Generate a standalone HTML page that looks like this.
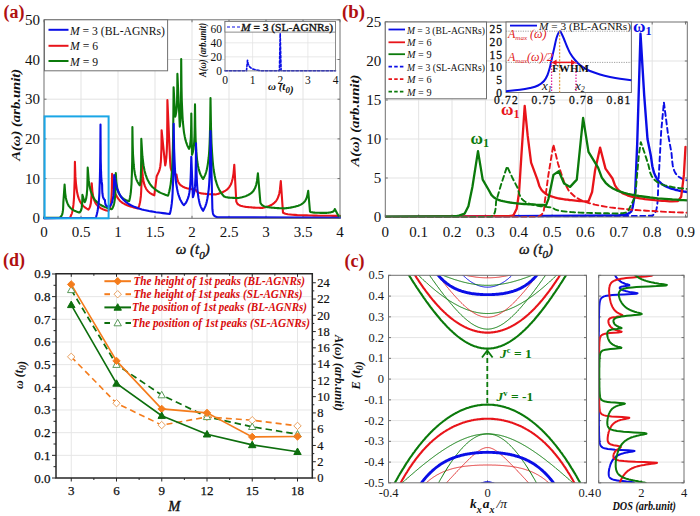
<!DOCTYPE html>
<html><head><meta charset="utf-8"><style>
html,body{margin:0;padding:0;background:#fff;}
svg{display:block;}
</style></head><body>
<svg width="700" height="516" viewBox="0 0 700 516">
<rect x="0" y="0" width="700" height="516" fill="#fff"/>
<line x1="81.00" y1="19.80" x2="81.00" y2="218.30" stroke="#e3e3e3" stroke-width="1" />
<line x1="118.00" y1="19.80" x2="118.00" y2="218.30" stroke="#e3e3e3" stroke-width="1" />
<line x1="155.00" y1="19.80" x2="155.00" y2="218.30" stroke="#e3e3e3" stroke-width="1" />
<line x1="192.00" y1="19.80" x2="192.00" y2="218.30" stroke="#e3e3e3" stroke-width="1" />
<line x1="229.00" y1="19.80" x2="229.00" y2="218.30" stroke="#e3e3e3" stroke-width="1" />
<line x1="266.00" y1="19.80" x2="266.00" y2="218.30" stroke="#e3e3e3" stroke-width="1" />
<line x1="303.00" y1="19.80" x2="303.00" y2="218.30" stroke="#e3e3e3" stroke-width="1" />
<line x1="44.00" y1="178.60" x2="340.00" y2="178.60" stroke="#e3e3e3" stroke-width="1" />
<line x1="44.00" y1="138.90" x2="340.00" y2="138.90" stroke="#e3e3e3" stroke-width="1" />
<line x1="44.00" y1="99.20" x2="340.00" y2="99.20" stroke="#e3e3e3" stroke-width="1" />
<line x1="44.00" y1="59.50" x2="340.00" y2="59.50" stroke="#e3e3e3" stroke-width="1" />
<line x1="44.00" y1="218.30" x2="44.00" y2="215.80" stroke="#707070" stroke-width="1" />
<line x1="44.00" y1="19.80" x2="44.00" y2="22.30" stroke="#707070" stroke-width="1" />
<line x1="81.00" y1="218.30" x2="81.00" y2="215.80" stroke="#707070" stroke-width="1" />
<line x1="81.00" y1="19.80" x2="81.00" y2="22.30" stroke="#707070" stroke-width="1" />
<line x1="118.00" y1="218.30" x2="118.00" y2="215.80" stroke="#707070" stroke-width="1" />
<line x1="118.00" y1="19.80" x2="118.00" y2="22.30" stroke="#707070" stroke-width="1" />
<line x1="155.00" y1="218.30" x2="155.00" y2="215.80" stroke="#707070" stroke-width="1" />
<line x1="155.00" y1="19.80" x2="155.00" y2="22.30" stroke="#707070" stroke-width="1" />
<line x1="192.00" y1="218.30" x2="192.00" y2="215.80" stroke="#707070" stroke-width="1" />
<line x1="192.00" y1="19.80" x2="192.00" y2="22.30" stroke="#707070" stroke-width="1" />
<line x1="229.00" y1="218.30" x2="229.00" y2="215.80" stroke="#707070" stroke-width="1" />
<line x1="229.00" y1="19.80" x2="229.00" y2="22.30" stroke="#707070" stroke-width="1" />
<line x1="266.00" y1="218.30" x2="266.00" y2="215.80" stroke="#707070" stroke-width="1" />
<line x1="266.00" y1="19.80" x2="266.00" y2="22.30" stroke="#707070" stroke-width="1" />
<line x1="303.00" y1="218.30" x2="303.00" y2="215.80" stroke="#707070" stroke-width="1" />
<line x1="303.00" y1="19.80" x2="303.00" y2="22.30" stroke="#707070" stroke-width="1" />
<line x1="340.00" y1="218.30" x2="340.00" y2="215.80" stroke="#707070" stroke-width="1" />
<line x1="340.00" y1="19.80" x2="340.00" y2="22.30" stroke="#707070" stroke-width="1" />
<line x1="44.00" y1="218.30" x2="46.50" y2="218.30" stroke="#707070" stroke-width="1" />
<line x1="340.00" y1="218.30" x2="337.50" y2="218.30" stroke="#707070" stroke-width="1" />
<line x1="44.00" y1="178.60" x2="46.50" y2="178.60" stroke="#707070" stroke-width="1" />
<line x1="340.00" y1="178.60" x2="337.50" y2="178.60" stroke="#707070" stroke-width="1" />
<line x1="44.00" y1="138.90" x2="46.50" y2="138.90" stroke="#707070" stroke-width="1" />
<line x1="340.00" y1="138.90" x2="337.50" y2="138.90" stroke="#707070" stroke-width="1" />
<line x1="44.00" y1="99.20" x2="46.50" y2="99.20" stroke="#707070" stroke-width="1" />
<line x1="340.00" y1="99.20" x2="337.50" y2="99.20" stroke="#707070" stroke-width="1" />
<line x1="44.00" y1="59.50" x2="46.50" y2="59.50" stroke="#707070" stroke-width="1" />
<line x1="340.00" y1="59.50" x2="337.50" y2="59.50" stroke="#707070" stroke-width="1" />
<line x1="44.00" y1="19.80" x2="46.50" y2="19.80" stroke="#707070" stroke-width="1" />
<line x1="340.00" y1="19.80" x2="337.50" y2="19.80" stroke="#707070" stroke-width="1" />
<text x="44.00" y="237.00" font-family='"Liberation Serif", serif' font-size="15" font-weight="normal" font-style="normal" fill="#111" text-anchor="middle" >0</text>
<text x="81.00" y="237.00" font-family='"Liberation Serif", serif' font-size="15" font-weight="normal" font-style="normal" fill="#111" text-anchor="middle" >0.5</text>
<text x="118.00" y="237.00" font-family='"Liberation Serif", serif' font-size="15" font-weight="normal" font-style="normal" fill="#111" text-anchor="middle" >1</text>
<text x="155.00" y="237.00" font-family='"Liberation Serif", serif' font-size="15" font-weight="normal" font-style="normal" fill="#111" text-anchor="middle" >1.5</text>
<text x="192.00" y="237.00" font-family='"Liberation Serif", serif' font-size="15" font-weight="normal" font-style="normal" fill="#111" text-anchor="middle" >2</text>
<text x="229.00" y="237.00" font-family='"Liberation Serif", serif' font-size="15" font-weight="normal" font-style="normal" fill="#111" text-anchor="middle" >2.5</text>
<text x="266.00" y="237.00" font-family='"Liberation Serif", serif' font-size="15" font-weight="normal" font-style="normal" fill="#111" text-anchor="middle" >3</text>
<text x="303.00" y="237.00" font-family='"Liberation Serif", serif' font-size="15" font-weight="normal" font-style="normal" fill="#111" text-anchor="middle" >3.5</text>
<text x="340.00" y="237.00" font-family='"Liberation Serif", serif' font-size="15" font-weight="normal" font-style="normal" fill="#111" text-anchor="middle" >4</text>
<text x="40.00" y="223.30" font-family='"Liberation Serif", serif' font-size="15" font-weight="normal" font-style="normal" fill="#111" text-anchor="end" >0</text>
<text x="40.00" y="183.60" font-family='"Liberation Serif", serif' font-size="15" font-weight="normal" font-style="normal" fill="#111" text-anchor="end" >10</text>
<text x="40.00" y="143.90" font-family='"Liberation Serif", serif' font-size="15" font-weight="normal" font-style="normal" fill="#111" text-anchor="end" >20</text>
<text x="40.00" y="104.20" font-family='"Liberation Serif", serif' font-size="15" font-weight="normal" font-style="normal" fill="#111" text-anchor="end" >30</text>
<text x="40.00" y="64.50" font-family='"Liberation Serif", serif' font-size="15" font-weight="normal" font-style="normal" fill="#111" text-anchor="end" >40</text>
<text x="40.00" y="24.80" font-family='"Liberation Serif", serif' font-size="15" font-weight="normal" font-style="normal" fill="#111" text-anchor="end" >50</text>
<polyline points="44.0,218.1 69.9,217.7 70.1,217.4 70.3,217.0 70.5,216.6 70.7,216.1 70.9,215.7 71.1,215.2 71.3,214.7 71.6,214.1 71.8,213.5 72.0,212.8 72.2,212.0 72.4,211.2 72.6,210.2 72.8,209.2 73.0,207.9 73.2,206.5 73.4,204.9 73.6,202.9 73.8,200.5 74.0,197.5 74.2,193.4 74.4,187.8 74.7,178.9 74.9,161.9 75.4,176.4 76.0,184.0 76.6,188.8 77.1,192.3 77.7,194.9 78.2,196.9 78.8,198.6 79.4,200.0 79.9,201.2 80.5,202.3 81.1,203.2 81.6,204.0 82.2,204.7 82.8,205.3 83.3,205.9 83.9,206.5 84.5,207.0 85.0,207.4 85.6,207.8 86.1,208.2 86.7,208.6 87.3,208.9 87.8,209.3 88.4,209.6 88.5,209.4 88.7,209.2 88.8,209.0 89.0,208.8 89.1,208.6 89.2,208.4 89.4,208.1 89.5,207.9 89.6,207.6 89.8,207.2 89.9,206.9 90.1,206.5 90.2,206.0 90.3,205.5 90.5,204.9 90.6,204.3 90.8,203.5 90.9,202.6 91.0,201.4 91.2,200.0 91.3,198.1 91.5,195.4 91.6,191.2 91.7,183.2 92.4,191.6 93.1,196.0 93.8,198.9 94.5,200.9 95.2,202.4 95.9,203.6 96.6,204.6 97.3,205.4 98.0,206.1 98.7,206.7 99.4,207.2 100.1,207.7 100.7,208.1 101.4,208.5 102.1,208.8 102.8,209.2 103.5,209.4 104.2,209.7 104.9,210.0 105.6,210.2 106.3,210.4 107.0,210.6 107.7,210.8 108.4,211.0 108.5,210.7 108.7,210.5 108.8,210.2 109.0,209.9 109.2,209.6 109.3,209.3 109.5,208.9 109.6,208.5 109.8,208.1 109.9,207.7 110.1,207.2 110.2,206.6 110.4,206.0 110.5,205.3 110.7,204.5 110.8,203.5 111.0,202.4 111.2,201.1 111.3,199.5 111.5,197.5 111.6,194.8 111.8,191.0 111.9,185.1 112.1,173.8 113.2,184.3 114.2,189.8 115.3,193.3 116.4,195.8 117.5,197.7 118.6,199.2 119.6,200.4 120.7,201.5 121.8,202.3 122.9,203.1 124.0,203.7 125.0,204.3 126.1,204.8 127.2,205.3 128.3,205.7 129.3,206.1 130.4,206.5 131.5,206.8 132.6,207.1 133.7,207.4 134.7,207.7 135.8,207.9 136.9,208.2 138.0,208.4 138.1,208.1 138.3,207.8 138.5,207.4 138.6,207.1 138.8,206.7 138.9,206.3 139.1,205.8 139.3,205.3 139.4,204.8 139.6,204.2 139.7,203.5 139.9,202.8 140.1,202.0 140.2,201.1 140.4,200.1 140.5,198.9 140.7,197.5 140.9,195.9 141.0,193.8 141.2,191.2 141.3,187.8 141.5,183.0 141.7,175.5 141.8,161.1 142.3,171.5 142.9,176.9 143.4,180.4 143.9,182.9 144.4,184.7 144.9,186.2 145.5,187.4 146.0,188.4 146.5,189.3 147.0,190.0 147.5,190.7 148.0,191.3 148.6,191.8 149.1,192.3 149.6,192.7 150.1,193.1 150.6,193.4 151.2,193.7 151.7,194.0 152.2,194.3 152.7,194.6 153.2,194.8 153.7,195.1 154.3,195.3 156.7,176.2 158.8,171.9 158.9,171.6 159.0,171.3 159.1,171.0 159.2,170.7 159.4,170.3 159.5,170.0 159.6,169.6 159.7,169.1 159.8,168.7 159.9,168.2 160.1,167.6 160.2,167.0 160.3,166.3 160.4,165.5 160.5,164.6 160.6,163.5 160.8,162.3 160.9,160.8 161.0,159.0 161.1,156.7 161.2,153.7 161.4,149.5 161.5,142.8 161.6,130.2 165.2,165.5 165.3,165.1 165.4,164.6 165.5,164.2 165.6,163.7 165.7,163.1 165.8,162.6 165.9,161.9 166.0,161.3 166.0,160.5 166.1,159.7 166.2,158.8 166.3,157.8 166.4,156.7 166.5,155.5 166.6,154.0 166.7,152.4 166.8,150.4 166.9,148.1 167.0,145.3 167.1,141.7 167.2,137.0 167.2,130.3 167.3,119.9 167.4,100.0 170.1,161.1 170.4,165.2 170.6,167.4 170.9,168.8 171.2,169.7 171.4,170.5 171.7,171.1 172.0,171.5 172.2,171.9 172.5,172.3 172.7,172.6 173.0,172.8 173.3,173.0 173.5,173.3 173.8,173.4 174.1,173.6 174.3,173.8 174.6,173.9 174.9,174.0 175.1,174.1 175.4,174.3 175.7,174.4 175.9,174.5 176.2,174.5 176.5,174.6 177.3,179.2 178.1,181.6 178.9,183.2 179.7,184.2 180.5,185.1 181.3,185.7 182.1,186.2 182.9,186.7 183.7,187.1 184.5,187.4 185.3,187.7 186.1,187.9 186.9,188.2 187.7,188.4 188.5,188.6 189.3,188.7 190.1,188.9 190.9,189.0 191.7,189.2 192.5,189.3 193.3,189.4 194.1,189.5 194.9,189.6 195.7,189.7 196.5,191.2 197.4,191.9 198.2,192.4 199.0,192.8 199.9,193.0 200.7,193.2 201.5,193.4 202.4,193.5 203.2,193.6 204.0,193.7 204.9,193.8 205.7,193.9 206.5,194.0 207.4,194.1 208.2,194.1 209.0,194.2 209.9,194.2 210.7,194.3 211.5,194.3 212.3,194.3 213.2,194.4 214.0,194.4 214.8,194.4 215.7,194.5 216.5,194.3 217.2,194.1 218.0,193.9 218.8,193.6 219.5,193.4 220.3,193.1 221.1,192.9 221.9,192.5 222.6,192.2 223.4,191.8 224.2,191.4 225.0,191.0 225.7,190.5 226.5,189.9 227.3,189.3 228.1,188.5 228.8,187.6 229.6,186.6 230.4,185.3 231.2,183.7 231.9,181.5 232.7,178.5 233.5,173.8 234.3,164.7 236.3,201.6 237.3,203.6 238.4,204.6 239.5,205.2 240.6,205.7 241.7,206.0 242.8,206.3 243.8,206.5 244.9,206.7 246.0,206.9 247.1,207.0 248.2,207.1 249.3,207.2 250.4,207.3 251.4,207.4 252.5,207.5 253.6,207.6 254.7,207.6 255.8,207.7 256.9,207.7 258.0,207.8 259.0,207.8 260.1,207.9 261.2,207.9 262.3,208.0 263.1,207.8 263.8,207.6 264.6,207.4 265.4,207.2 266.2,207.0 266.9,206.8 267.7,206.5 268.5,206.2 269.2,205.9 270.0,205.6 270.8,205.2 271.6,204.8 272.3,204.4 273.1,203.8 273.9,203.2 274.6,202.6 275.4,201.8 276.2,200.8 276.9,199.7 277.7,198.2 278.5,196.2 279.3,193.5 280.0,189.2 280.8,181.0 283.0,212.7 285.4,213.7 287.8,214.2 290.1,214.5 292.5,214.8 294.9,214.9 297.3,215.1 299.6,215.2 302.0,215.3 304.4,215.4 306.8,215.4 309.1,215.5 311.5,215.5 313.9,215.6 316.3,215.6 318.6,215.7 321.0,215.7 323.4,215.7 325.8,215.8 328.1,215.8 330.5,215.8 332.9,215.9 335.3,215.9 337.6,215.9 340.0,215.9" fill="none" stroke="#e8141a" stroke-width="2.1" stroke-linejoin="round" stroke-linecap="round" />
<polyline points="44.0,217.9 59.5,217.7 59.7,217.6 59.9,217.5 60.0,217.4 60.2,217.3 60.3,217.1 60.5,217.0 60.7,216.8 60.8,216.7 61.0,216.5 61.1,216.3 61.3,216.1 61.5,215.8 61.6,215.5 61.8,215.2 61.9,214.9 62.1,214.5 62.3,214.0 62.4,213.4 62.6,212.7 62.7,211.9 62.9,210.7 63.1,209.1 63.2,206.5 63.4,201.6 64.6,184.6 65.2,193.1 65.8,197.5 66.4,200.4 67.1,202.4 67.7,203.9 68.3,205.1 68.9,206.1 69.6,206.9 70.2,207.6 70.8,208.3 71.4,208.8 72.0,209.3 72.7,209.7 73.3,210.1 73.9,210.4 74.5,210.7 75.2,211.0 75.8,211.3 76.4,211.5 77.0,211.8 77.7,212.0 78.3,212.2 78.9,212.4 79.5,212.5 79.6,212.4 79.8,212.3 79.9,212.2 80.0,212.1 80.1,211.9 80.2,211.7 80.4,211.6 80.5,211.4 80.6,211.2 80.7,211.0 80.8,210.7 81.0,210.5 81.1,210.2 81.2,209.8 81.3,209.4 81.4,209.0 81.6,208.5 81.7,207.9 81.8,207.1 81.9,206.1 82.0,204.9 82.2,203.1 82.3,200.3 82.4,194.9 84.7,202.2 84.8,202.0 84.9,201.8 85.1,201.5 85.2,201.3 85.3,201.0 85.4,200.7 85.6,200.3 85.7,200.0 85.8,199.6 85.9,199.1 86.1,198.7 86.2,198.1 86.3,197.6 86.4,196.9 86.5,196.1 86.7,195.3 86.8,194.2 86.9,193.0 87.0,191.5 87.2,189.6 87.3,187.1 87.4,183.6 87.5,178.0 87.7,167.5 88.7,180.2 89.7,186.8 90.7,191.0 91.7,194.0 92.7,196.3 93.7,198.1 94.7,199.6 95.7,200.8 96.7,201.9 97.7,202.8 98.7,203.6 99.7,204.3 100.7,204.9 101.7,205.5 102.7,206.0 103.7,206.5 104.7,206.9 105.8,207.3 106.8,207.7 107.8,208.0 108.8,208.3 109.8,208.6 110.8,208.9 111.8,209.2 112.0,208.9 112.1,208.7 112.3,208.4 112.5,208.2 112.6,207.9 112.8,207.5 112.9,207.2 113.1,206.8 113.3,206.4 113.4,206.0 113.6,205.5 113.8,204.9 113.9,204.3 114.1,203.6 114.3,202.8 114.4,201.9 114.6,200.9 114.8,199.6 114.9,198.0 115.1,196.1 115.3,193.5 115.4,189.8 115.6,184.0 115.8,173.0 116.3,181.6 116.9,186.1 117.4,189.0 118.0,191.0 118.6,192.5 119.1,193.8 119.7,194.8 120.2,195.6 120.8,196.3 121.3,196.9 121.9,197.4 122.4,197.9 123.0,198.3 123.5,198.7 124.1,199.1 124.7,199.4 125.2,199.7 125.8,200.0 126.3,200.2 126.9,200.4 127.4,200.7 128.0,200.9 128.5,201.1 129.1,201.2 129.2,200.8 129.4,200.3 129.5,199.7 129.7,199.2 129.8,198.5 129.9,197.9 130.1,197.2 130.2,196.4 130.3,195.6 130.5,194.7 130.6,193.6 130.8,192.5 130.9,191.3 131.0,189.8 131.2,188.2 131.3,186.4 131.5,184.2 131.6,181.5 131.7,178.3 131.9,174.3 132.0,168.9 132.2,161.4 132.3,149.6 132.4,127.0 132.7,144.7 133.0,154.0 133.4,160.0 133.7,164.2 134.0,167.4 134.3,169.9 134.6,171.9 134.9,173.7 135.2,175.1 135.5,176.4 135.8,177.5 136.1,178.5 136.4,179.4 136.7,180.2 137.1,180.9 137.4,181.6 137.7,182.2 138.0,182.7 138.3,183.2 138.6,183.7 138.9,184.2 139.2,184.6 139.5,185.0 139.8,185.3 139.9,185.1 140.0,184.7 140.0,184.4 140.1,184.1 140.1,183.7 140.2,183.3 140.3,182.8 140.3,182.3 140.4,181.8 140.4,181.2 140.5,180.6 140.6,179.9 140.6,179.1 140.7,178.2 140.8,177.2 140.8,176.0 140.9,174.7 140.9,173.0 141.0,171.0 141.1,168.5 141.1,165.1 141.2,160.4 141.2,153.0 141.3,138.9 142.4,156.2 143.5,165.2 144.6,171.0 145.8,175.1 146.9,178.2 148.0,180.6 149.1,182.6 150.2,184.3 151.3,185.7 152.4,187.0 153.6,188.0 154.7,189.0 155.8,189.9 156.9,190.6 158.0,191.3 159.1,192.0 160.2,192.6 161.3,193.1 162.5,193.6 163.6,194.1 164.7,194.5 165.8,194.9 166.9,195.3 168.0,195.7 168.3,195.0 168.5,194.3 168.7,193.5 168.9,192.6 169.2,191.8 169.4,190.8 169.6,189.8 169.9,188.6 170.1,187.4 170.3,186.1 170.6,184.6 170.8,183.0 171.0,181.1 171.3,179.0 171.5,176.7 171.7,174.0 172.0,170.8 172.2,166.9 172.4,162.3 172.6,156.3 172.9,148.5 173.1,137.5 173.3,120.3 173.6,87.3 175.2,116.7 175.3,116.4 175.4,116.1 175.5,115.8 175.6,115.5 175.7,115.1 175.8,114.7 175.8,114.3 175.9,113.9 176.0,113.4 176.1,112.9 176.2,112.3 176.3,111.6 176.4,110.9 176.5,110.1 176.6,109.2 176.7,108.1 176.8,106.8 176.9,105.3 177.0,103.4 177.1,101.1 177.1,98.0 177.2,93.7 177.3,86.8 177.4,73.8 179.8,126.6 179.8,126.2 179.9,125.7 180.0,125.2 180.0,124.7 180.1,124.2 180.1,123.6 180.2,122.9 180.3,122.2 180.3,121.5 180.4,120.6 180.4,119.7 180.5,118.7 180.6,117.5 180.6,116.2 180.7,114.8 180.7,113.1 180.8,111.1 180.8,108.7 180.9,105.8 181.0,102.1 181.0,97.2 181.1,90.4 181.1,79.6 181.2,59.1 181.5,86.4 181.8,100.7 182.2,109.8 182.5,116.3 182.8,121.2 183.2,125.0 183.5,128.2 183.8,130.9 184.1,133.1 184.5,135.1 184.8,136.8 185.1,138.3 185.4,139.7 185.8,140.9 186.1,142.0 186.4,143.0 186.8,143.9 187.1,144.8 187.4,145.6 187.7,146.3 188.1,147.0 188.4,147.7 188.7,148.3 189.0,148.8 189.1,148.6 189.2,148.4 189.3,148.1 189.4,147.8 189.5,147.5 189.6,147.2 189.7,146.9 189.8,146.5 189.9,146.1 190.0,145.7 190.1,145.2 190.2,144.7 190.2,144.1 190.3,143.4 190.4,142.6 190.5,141.7 190.6,140.7 190.7,139.5 190.8,137.9 190.9,136.0 191.0,133.5 191.1,129.9 191.2,124.2 191.3,113.5 192.0,154.8 192.1,154.5 192.2,154.1 192.4,153.8 192.5,153.4 192.6,153.0 192.7,152.5 192.9,152.0 193.0,151.5 193.1,150.9 193.2,150.3 193.4,149.6 193.5,148.9 193.6,148.0 193.7,147.0 193.8,145.9 194.0,144.7 194.1,143.2 194.2,141.4 194.3,139.2 194.5,136.5 194.6,132.8 194.7,127.7 194.8,119.7 195.0,104.4 195.3,127.1 195.6,138.9 196.0,146.5 196.3,151.9 196.7,156.0 197.0,159.2 197.3,161.8 197.7,164.0 198.0,165.9 198.4,167.6 198.7,169.0 199.0,170.2 199.4,171.4 199.7,172.4 200.0,173.3 200.4,174.2 200.7,174.9 201.1,175.6 201.4,176.3 201.7,176.9 202.1,177.5 202.4,178.0 202.8,178.5 203.1,179.0 203.4,178.5 203.7,177.9 204.0,177.4 204.3,176.7 204.6,176.1 204.9,175.4 205.3,174.6 205.6,173.7 205.9,172.8 206.2,171.8 206.5,170.7 206.8,169.5 207.1,168.1 207.4,166.6 207.7,164.8 208.0,162.8 208.3,160.4 208.7,157.5 209.0,154.0 209.3,149.6 209.6,143.8 209.9,135.5 210.2,122.6 210.5,98.0 211.0,127.6 211.5,143.1 212.1,153.0 212.6,160.0 213.1,165.3 213.6,169.5 214.2,172.9 214.7,175.8 215.2,178.2 215.7,180.4 216.3,182.2 216.8,183.9 217.3,185.3 217.8,186.7 218.4,187.9 218.9,189.0 219.4,190.0 219.9,190.9 220.5,191.8 221.0,192.6 221.5,193.3 222.0,194.0 222.6,194.7 223.1,195.3 223.7,196.1 224.3,196.6 224.9,196.8 225.5,197.0 226.2,197.2 226.8,197.3 227.4,197.4 228.0,197.5 228.6,197.6 229.2,197.6 229.9,197.7 230.5,197.7 231.1,197.8 231.7,197.8 232.3,197.8 232.9,197.9 233.6,197.9 234.2,197.9 234.8,198.0 235.4,198.0 236.0,198.0 236.6,198.0 237.3,198.0 237.9,198.1 238.7,197.9 239.5,197.7 240.4,197.6 241.2,197.4 242.0,197.2 242.9,196.9 243.7,196.7 244.5,196.5 245.4,196.2 246.2,195.9 247.0,195.5 247.9,195.2 248.7,194.7 249.5,194.3 250.4,193.7 251.2,193.1 252.0,192.4 252.9,191.5 253.7,190.5 254.5,189.1 255.4,187.3 256.2,184.8 257.0,180.9 257.9,173.4 260.4,202.8 261.5,204.5 262.5,205.4 263.5,206.0 264.5,206.4 265.5,206.7 266.5,206.9 267.5,207.1 268.5,207.3 269.5,207.4 270.5,207.5 271.5,207.6 272.5,207.7 273.5,207.8 274.5,207.9 275.5,208.0 276.5,208.0 277.5,208.1 278.5,208.1 279.5,208.2 280.5,208.2 281.5,208.3 282.5,208.3 283.5,208.3 284.5,208.4 285.5,208.3 286.5,208.1 287.5,208.0 288.4,207.9 289.4,207.7 290.4,207.6 291.4,207.4 292.4,207.2 293.4,207.0 294.4,206.8 295.4,206.6 296.3,206.3 297.3,206.0 298.3,205.7 299.3,205.3 300.3,204.9 301.3,204.4 302.3,203.7 303.2,203.0 304.2,202.0 305.2,200.8 306.2,199.0 307.2,196.2 308.2,190.9 310.0,211.6 310.7,212.0 311.3,212.2 311.9,212.3 312.6,212.4 313.2,212.5 313.8,212.6 314.5,212.6 315.1,212.7 315.7,212.7 316.4,212.7 317.0,212.8 317.6,212.8 318.2,212.8 318.9,212.8 319.5,212.8 320.1,212.9 320.8,212.9 321.4,212.9 322.0,212.9 322.7,212.9 323.3,212.9 323.9,212.9 324.6,212.9 325.2,212.9 325.6,212.9 326.0,212.9 326.4,212.9 326.8,212.8 327.2,212.8 327.6,212.8 328.0,212.7 328.4,212.7 328.8,212.6 329.2,212.6 329.6,212.5 330.0,212.5 330.4,212.4 330.8,212.3 331.2,212.2 331.6,212.1 332.0,212.0 332.4,211.9 332.8,211.7 333.2,211.5 333.6,211.2 334.0,210.8 334.4,210.2 334.8,209.0 338.5,215.9 340.0,216.3" fill="none" stroke="#0b7a0b" stroke-width="2.1" stroke-linejoin="round" stroke-linecap="round" />
<polyline points="44.0,218.1 95.8,217.7 96.0,217.1 96.2,216.5 96.4,215.8 96.6,215.1 96.8,214.3 97.0,213.5 97.2,212.6 97.4,211.7 97.6,210.6 97.8,209.5 98.0,208.2 98.2,206.8 98.4,205.2 98.6,203.4 98.8,201.4 99.0,199.1 99.2,196.3 99.4,193.0 99.5,189.0 99.7,183.9 99.9,177.2 100.1,167.7 100.3,152.9 100.5,124.6 100.6,142.8 100.7,152.4 100.7,158.5 100.8,162.8 100.9,166.1 100.9,168.7 101.0,170.8 101.1,172.5 101.1,174.1 101.2,175.4 101.2,176.5 101.3,177.5 101.4,178.4 101.4,179.2 101.5,180.0 101.6,180.7 101.6,181.3 101.7,181.9 101.8,182.4 101.8,182.9 101.9,183.3 102.0,183.8 102.0,184.2 102.1,184.6 102.2,189.3 102.3,191.7 102.4,193.3 102.6,194.4 102.7,195.3 102.8,195.9 102.9,196.5 103.0,196.9 103.1,197.3 103.3,197.7 103.4,198.0 103.5,198.2 103.6,198.5 103.7,198.7 103.8,198.9 104.0,199.0 104.1,199.2 104.2,199.3 104.3,199.5 104.4,199.6 104.6,199.7 104.7,199.8 104.8,199.9 104.9,200.0 105.1,202.2 105.3,203.3 105.4,204.0 105.6,204.5 105.8,204.8 106.0,205.1 106.1,205.4 106.3,205.6 106.5,205.8 106.7,205.9 106.8,206.1 107.0,206.2 107.2,206.3 107.4,206.4 107.5,206.5 107.7,206.5 107.9,206.6 108.1,206.7 108.2,206.7 108.4,206.8 108.6,206.8 108.8,206.9 108.9,206.9 109.1,207.0 109.3,206.8 109.5,206.6 109.8,206.3 110.0,206.1 110.2,205.8 110.4,205.5 110.6,205.2 110.8,204.9 111.0,204.6 111.2,204.2 111.5,203.7 111.7,203.2 111.9,202.7 112.1,202.1 112.3,201.4 112.5,200.6 112.7,199.6 112.9,198.5 113.2,197.1 113.4,195.4 113.6,193.1 113.8,189.8 114.0,184.7 114.2,175.0 116.5,186.9 118.9,193.0 121.2,197.0 123.5,199.8 125.8,201.9 128.1,203.6 130.4,205.0 132.8,206.1 135.1,207.1 137.4,208.0 139.7,208.7 142.0,209.4 144.3,210.0 146.6,210.5 149.0,211.0 151.3,211.4 153.6,211.8 155.9,212.2 158.2,212.5 160.5,212.8 162.9,213.1 165.2,213.4 167.5,213.7 169.8,213.9 170.0,213.4 170.1,212.8 170.3,212.1 170.5,211.4 170.6,210.7 170.8,209.9 170.9,209.0 171.1,208.1 171.3,207.1 171.4,206.0 171.6,204.7 171.8,203.4 171.9,201.8 172.1,200.1 172.3,198.1 172.4,195.9 172.6,193.2 172.7,190.0 172.9,186.1 173.1,181.2 173.2,174.7 173.4,165.6 173.6,151.2 173.7,123.8 174.1,148.6 174.6,161.5 175.0,169.8 175.4,175.7 175.8,180.1 176.2,183.6 176.7,186.5 177.1,188.9 177.5,190.9 177.9,192.7 178.3,194.3 178.8,195.7 179.2,196.9 179.6,198.0 180.0,199.0 180.4,199.9 180.9,200.8 181.3,201.5 181.7,202.3 182.1,202.9 182.5,203.6 182.9,204.1 183.4,204.7 183.8,205.2 184.1,204.9 184.4,204.6 184.7,204.2 185.0,203.8 185.3,203.5 185.7,203.0 186.0,202.6 186.3,202.1 186.6,201.5 186.9,200.9 187.2,200.2 187.5,199.5 187.8,198.7 188.1,197.8 188.5,196.7 188.8,195.5 189.1,194.1 189.4,192.4 189.7,190.3 190.0,187.6 190.3,184.1 190.6,179.2 190.9,171.5 191.3,156.8 192.9,197.3 193.0,196.9 193.1,196.6 193.3,196.2 193.4,195.8 193.5,195.3 193.7,194.8 193.8,194.3 193.9,193.8 194.1,193.1 194.2,192.5 194.3,191.7 194.4,190.9 194.6,190.0 194.7,189.0 194.8,187.8 195.0,186.4 195.1,184.9 195.2,182.9 195.3,180.6 195.5,177.7 195.6,173.8 195.7,168.3 195.9,159.7 196.0,143.3 196.3,163.8 196.6,174.5 196.9,181.4 197.2,186.3 197.5,189.9 197.8,192.9 198.1,195.2 198.4,197.2 198.7,198.9 199.0,200.4 199.3,201.7 199.5,202.8 199.8,203.9 200.1,204.8 200.4,205.6 200.7,206.4 201.0,207.1 201.3,207.7 201.6,208.3 201.9,208.9 202.2,209.4 202.5,209.9 202.8,210.3 203.1,210.8 203.4,210.3 203.7,209.7 204.0,209.1 204.3,208.5 204.6,207.9 204.9,207.2 205.3,206.4 205.6,205.6 205.9,204.7 206.2,203.7 206.5,202.6 206.8,201.4 207.1,200.0 207.4,198.5 207.7,196.8 208.0,194.8 208.3,192.4 208.7,189.6 209.0,186.2 209.3,181.8 209.6,176.0 209.9,167.9 210.2,155.2 210.5,131.0 212.4,209.2 212.7,211.6 212.9,212.9 213.1,213.8 213.3,214.4 213.6,214.8 213.8,215.2 214.0,215.4 214.2,215.7 214.5,215.9 214.7,216.1 214.9,216.2 215.2,216.4 215.4,216.5 215.6,216.6 215.8,216.7 216.1,216.8 216.3,216.9 216.5,216.9 216.8,217.0 217.0,217.1 217.2,217.1 217.4,217.2 217.7,217.3 217.9,217.3 340.0,217.7" fill="none" stroke="#0a0ee6" stroke-width="2.1" stroke-linejoin="round" stroke-linecap="round" />
<rect x="44.00" y="19.80" width="296.00" height="198.50" stroke="#707070" fill="none" stroke-width="1" />
<rect x="44.60" y="116.40" width="64.00" height="101.90" stroke="#1aa6e6" fill="none" stroke-width="2" />
<rect x="44.50" y="19.80" width="123.10" height="51.00" stroke="#707070" fill="#fff" stroke-width="1" />
<line x1="48.50" y1="29.80" x2="68.50" y2="29.80" stroke="#0a0ee6" stroke-width="2" />
<line x1="48.50" y1="45.80" x2="68.50" y2="45.80" stroke="#e8141a" stroke-width="2" />
<line x1="48.50" y1="61.00" x2="68.50" y2="61.00" stroke="#0b7a0b" stroke-width="2" />
<text x="70" y="34.5" font-family='"Liberation Serif", serif' font-size="13.5" fill="#111" textLength="95" lengthAdjust="spacingAndGlyphs"><tspan font-style="italic">M</tspan> = 3 (BL-AGNRs)</text>
<text x="70" y="50.2" font-family='"Liberation Serif", serif' font-size="13.5" fill="#111" textLength="28" lengthAdjust="spacingAndGlyphs"><tspan font-style="italic">M</tspan> = 6</text>
<text x="70" y="65.5" font-family='"Liberation Serif", serif' font-size="13.5" fill="#111" textLength="28" lengthAdjust="spacingAndGlyphs"><tspan font-style="italic">M</tspan> = 9</text>
<rect x="225.00" y="21.40" width="110.50" height="49.50" stroke="none" fill="#fff" stroke-width="0" />
<line x1="252.62" y1="21.40" x2="252.62" y2="70.90" stroke="#e3e3e3" stroke-width="0.8" />
<line x1="280.25" y1="21.40" x2="280.25" y2="70.90" stroke="#e3e3e3" stroke-width="0.8" />
<line x1="307.88" y1="21.40" x2="307.88" y2="70.90" stroke="#e3e3e3" stroke-width="0.8" />
<line x1="225.00" y1="56.85" x2="335.50" y2="56.85" stroke="#e3e3e3" stroke-width="0.8" />
<line x1="225.00" y1="42.80" x2="335.50" y2="42.80" stroke="#e3e3e3" stroke-width="0.8" />
<text x="225.00" y="83.50" font-family='"Liberation Serif", serif' font-size="11.5" font-weight="normal" font-style="normal" fill="#111" text-anchor="middle" >0</text>
<text x="252.62" y="83.50" font-family='"Liberation Serif", serif' font-size="11.5" font-weight="normal" font-style="normal" fill="#111" text-anchor="middle" >1</text>
<text x="280.25" y="83.50" font-family='"Liberation Serif", serif' font-size="11.5" font-weight="normal" font-style="normal" fill="#111" text-anchor="middle" >2</text>
<text x="307.88" y="83.50" font-family='"Liberation Serif", serif' font-size="11.5" font-weight="normal" font-style="normal" fill="#111" text-anchor="middle" >3</text>
<text x="335.50" y="83.50" font-family='"Liberation Serif", serif' font-size="11.5" font-weight="normal" font-style="normal" fill="#111" text-anchor="middle" >4</text>
<text x="222.00" y="74.90" font-family='"Liberation Serif", serif' font-size="11.5" font-weight="normal" font-style="normal" fill="#111" text-anchor="end" >0</text>
<text x="222.00" y="60.85" font-family='"Liberation Serif", serif' font-size="11.5" font-weight="normal" font-style="normal" fill="#111" text-anchor="end" >20</text>
<text x="222.00" y="46.80" font-family='"Liberation Serif", serif' font-size="11.5" font-weight="normal" font-style="normal" fill="#111" text-anchor="end" >40</text>
<text x="222.00" y="32.75" font-family='"Liberation Serif", serif' font-size="11.5" font-weight="normal" font-style="normal" fill="#111" text-anchor="end" >60</text>
<polyline points="225.0,70.8 246.5,70.8 247.5,60.2 248.1,63.4 248.6,65.1 249.2,66.1 249.7,66.9 250.3,67.5 250.9,67.9 251.4,68.3 252.0,68.6 252.5,68.9 253.1,69.1 253.7,69.3 254.2,69.5 254.8,69.6 255.3,69.8 255.9,69.9 256.4,70.0 257.0,70.1 257.6,70.2 258.1,70.3 258.7,70.4 259.2,70.5 259.8,70.6 260.4,70.6 260.9,70.7 279.4,70.7 280.2,33.5 281.1,70.7 335.5,70.8" fill="none" stroke="#0a0ee6" stroke-width="1.6" stroke-linejoin="round" stroke-linecap="round" stroke-dasharray="2.5 1.8" stroke-linecap="butt"/>
<rect x="225.00" y="21.40" width="110.50" height="49.50" stroke="#707070" fill="none" stroke-width="0.8" />
<rect x="225.00" y="21.40" width="110.40" height="10.70" stroke="#707070" fill="#fff" stroke-width="0.8" />
<line x1="227.00" y1="27.00" x2="240.00" y2="27.00" stroke="#0a0ee6" stroke-width="1.1" stroke-dasharray="3 2"/>
<text x="241" y="30.6" font-family='"Liberation Serif", serif' font-size="10.5" fill="#111" stroke="#111" stroke-width="0.35" textLength="92" lengthAdjust="spacingAndGlyphs"><tspan font-style="italic">M</tspan> = 3 (SL-AGNRs)</text>
<text transform="translate(205.5,50) rotate(-90)" font-family='"Liberation Serif", serif' font-size="9.5" font-weight="bold" font-style="italic" fill="#111" text-anchor="middle" textLength="54" lengthAdjust="spacingAndGlyphs">A(ω) (arb.unit)</text>
<text x="268" y="89.5" font-family='"Liberation Serif", serif' font-size="11" font-weight="bold" font-style="italic" fill="#111">ω (t<tspan font-size="9" dy="3">0</tspan>)</text>
<text transform="translate(20.2,114.8) rotate(-90)" font-family='"Liberation Serif", serif' font-size="13.5" font-weight="bold" font-style="italic" fill="#111" text-anchor="middle" textLength="92" lengthAdjust="spacingAndGlyphs">A(ω) (arb.unit)</text>
<text x="175.7" y="254" font-family='"Liberation Serif", serif' font-size="15" font-style="italic" fill="#111" stroke="#111" stroke-width="0.35">ω (t<tspan font-size="11" dy="4.5">0</tspan><tspan dy="-4.5">)</tspan></text>
<text x="3.5" y="17.5" font-family='"Liberation Serif", serif' font-size="18.5" font-weight="bold" fill="#b01010" textLength="21" lengthAdjust="spacingAndGlyphs">(a)</text>
<line x1="418.66" y1="22.00" x2="418.66" y2="217.00" stroke="#e3e3e3" stroke-width="1" />
<line x1="452.02" y1="22.00" x2="452.02" y2="217.00" stroke="#e3e3e3" stroke-width="1" />
<line x1="485.38" y1="22.00" x2="485.38" y2="217.00" stroke="#e3e3e3" stroke-width="1" />
<line x1="518.74" y1="22.00" x2="518.74" y2="217.00" stroke="#e3e3e3" stroke-width="1" />
<line x1="552.10" y1="22.00" x2="552.10" y2="217.00" stroke="#e3e3e3" stroke-width="1" />
<line x1="585.46" y1="22.00" x2="585.46" y2="217.00" stroke="#e3e3e3" stroke-width="1" />
<line x1="618.82" y1="22.00" x2="618.82" y2="217.00" stroke="#e3e3e3" stroke-width="1" />
<line x1="652.18" y1="22.00" x2="652.18" y2="217.00" stroke="#e3e3e3" stroke-width="1" />
<line x1="385.30" y1="178.00" x2="687.30" y2="178.00" stroke="#e3e3e3" stroke-width="1" />
<line x1="385.30" y1="139.00" x2="687.30" y2="139.00" stroke="#e3e3e3" stroke-width="1" />
<line x1="385.30" y1="100.00" x2="687.30" y2="100.00" stroke="#e3e3e3" stroke-width="1" />
<line x1="385.30" y1="61.00" x2="687.30" y2="61.00" stroke="#e3e3e3" stroke-width="1" />
<line x1="385.30" y1="217.00" x2="385.30" y2="214.50" stroke="#707070" stroke-width="1" />
<line x1="385.30" y1="22.00" x2="385.30" y2="24.50" stroke="#707070" stroke-width="1" />
<line x1="418.66" y1="217.00" x2="418.66" y2="214.50" stroke="#707070" stroke-width="1" />
<line x1="418.66" y1="22.00" x2="418.66" y2="24.50" stroke="#707070" stroke-width="1" />
<line x1="452.02" y1="217.00" x2="452.02" y2="214.50" stroke="#707070" stroke-width="1" />
<line x1="452.02" y1="22.00" x2="452.02" y2="24.50" stroke="#707070" stroke-width="1" />
<line x1="485.38" y1="217.00" x2="485.38" y2="214.50" stroke="#707070" stroke-width="1" />
<line x1="485.38" y1="22.00" x2="485.38" y2="24.50" stroke="#707070" stroke-width="1" />
<line x1="518.74" y1="217.00" x2="518.74" y2="214.50" stroke="#707070" stroke-width="1" />
<line x1="518.74" y1="22.00" x2="518.74" y2="24.50" stroke="#707070" stroke-width="1" />
<line x1="552.10" y1="217.00" x2="552.10" y2="214.50" stroke="#707070" stroke-width="1" />
<line x1="552.10" y1="22.00" x2="552.10" y2="24.50" stroke="#707070" stroke-width="1" />
<line x1="585.46" y1="217.00" x2="585.46" y2="214.50" stroke="#707070" stroke-width="1" />
<line x1="585.46" y1="22.00" x2="585.46" y2="24.50" stroke="#707070" stroke-width="1" />
<line x1="618.82" y1="217.00" x2="618.82" y2="214.50" stroke="#707070" stroke-width="1" />
<line x1="618.82" y1="22.00" x2="618.82" y2="24.50" stroke="#707070" stroke-width="1" />
<line x1="652.18" y1="217.00" x2="652.18" y2="214.50" stroke="#707070" stroke-width="1" />
<line x1="652.18" y1="22.00" x2="652.18" y2="24.50" stroke="#707070" stroke-width="1" />
<line x1="685.54" y1="217.00" x2="685.54" y2="214.50" stroke="#707070" stroke-width="1" />
<line x1="685.54" y1="22.00" x2="685.54" y2="24.50" stroke="#707070" stroke-width="1" />
<line x1="385.30" y1="217.00" x2="387.80" y2="217.00" stroke="#707070" stroke-width="1" />
<line x1="687.30" y1="217.00" x2="684.80" y2="217.00" stroke="#707070" stroke-width="1" />
<line x1="385.30" y1="178.00" x2="387.80" y2="178.00" stroke="#707070" stroke-width="1" />
<line x1="687.30" y1="178.00" x2="684.80" y2="178.00" stroke="#707070" stroke-width="1" />
<line x1="385.30" y1="139.00" x2="387.80" y2="139.00" stroke="#707070" stroke-width="1" />
<line x1="687.30" y1="139.00" x2="684.80" y2="139.00" stroke="#707070" stroke-width="1" />
<line x1="385.30" y1="100.00" x2="387.80" y2="100.00" stroke="#707070" stroke-width="1" />
<line x1="687.30" y1="100.00" x2="684.80" y2="100.00" stroke="#707070" stroke-width="1" />
<line x1="385.30" y1="61.00" x2="387.80" y2="61.00" stroke="#707070" stroke-width="1" />
<line x1="687.30" y1="61.00" x2="684.80" y2="61.00" stroke="#707070" stroke-width="1" />
<line x1="385.30" y1="22.00" x2="387.80" y2="22.00" stroke="#707070" stroke-width="1" />
<line x1="687.30" y1="22.00" x2="684.80" y2="22.00" stroke="#707070" stroke-width="1" />
<text x="385.30" y="237.00" font-family='"Liberation Serif", serif' font-size="15" font-weight="normal" font-style="normal" fill="#111" text-anchor="middle" >0</text>
<text x="418.66" y="237.00" font-family='"Liberation Serif", serif' font-size="15" font-weight="normal" font-style="normal" fill="#111" text-anchor="middle" >0.1</text>
<text x="452.02" y="237.00" font-family='"Liberation Serif", serif' font-size="15" font-weight="normal" font-style="normal" fill="#111" text-anchor="middle" >0.2</text>
<text x="485.38" y="237.00" font-family='"Liberation Serif", serif' font-size="15" font-weight="normal" font-style="normal" fill="#111" text-anchor="middle" >0.3</text>
<text x="518.74" y="237.00" font-family='"Liberation Serif", serif' font-size="15" font-weight="normal" font-style="normal" fill="#111" text-anchor="middle" >0.4</text>
<text x="552.10" y="237.00" font-family='"Liberation Serif", serif' font-size="15" font-weight="normal" font-style="normal" fill="#111" text-anchor="middle" >0.5</text>
<text x="585.46" y="237.00" font-family='"Liberation Serif", serif' font-size="15" font-weight="normal" font-style="normal" fill="#111" text-anchor="middle" >0.6</text>
<text x="618.82" y="237.00" font-family='"Liberation Serif", serif' font-size="15" font-weight="normal" font-style="normal" fill="#111" text-anchor="middle" >0.7</text>
<text x="652.18" y="237.00" font-family='"Liberation Serif", serif' font-size="15" font-weight="normal" font-style="normal" fill="#111" text-anchor="middle" >0.8</text>
<text x="685.54" y="237.00" font-family='"Liberation Serif", serif' font-size="15" font-weight="normal" font-style="normal" fill="#111" text-anchor="middle" >0.9</text>
<text x="381.30" y="222.00" font-family='"Liberation Serif", serif' font-size="15" font-weight="normal" font-style="normal" fill="#111" text-anchor="end" >0</text>
<text x="381.30" y="183.00" font-family='"Liberation Serif", serif' font-size="15" font-weight="normal" font-style="normal" fill="#111" text-anchor="end" >5</text>
<text x="381.30" y="144.00" font-family='"Liberation Serif", serif' font-size="15" font-weight="normal" font-style="normal" fill="#111" text-anchor="end" >10</text>
<text x="381.30" y="105.00" font-family='"Liberation Serif", serif' font-size="15" font-weight="normal" font-style="normal" fill="#111" text-anchor="end" >15</text>
<text x="381.30" y="66.00" font-family='"Liberation Serif", serif' font-size="15" font-weight="normal" font-style="normal" fill="#111" text-anchor="end" >20</text>
<text x="381.30" y="27.00" font-family='"Liberation Serif", serif' font-size="15" font-weight="normal" font-style="normal" fill="#111" text-anchor="end" >25</text>
<defs><clipPath id="cb"><rect x="385.3" y="22" width="302" height="195.5"/></clipPath></defs>
<g clip-path="url(#cb)">
<polyline points="385.3,217.4 652.2,215.8 652.4,215.6 652.7,215.5 652.9,215.2 653.2,215.0 653.4,214.8 653.7,214.5 653.9,214.3 654.2,214.0 654.4,213.6 654.7,213.3 654.9,212.9 655.2,212.4 655.4,212.0 655.7,211.4 655.9,210.8 656.2,210.0 656.4,209.2 656.7,208.2 656.9,206.9 657.2,205.4 657.4,203.3 657.7,200.3 657.9,195.7 658.2,187.0 661.2,131.2 663.9,102.3 667.9,133.5 671.5,153.0 672.2,161.3 672.8,165.7 673.5,168.5 674.1,170.4 674.8,171.9 675.4,173.1 676.1,174.1 676.8,174.9 677.4,175.6 678.1,176.2 678.7,176.7 679.4,177.1 680.0,177.6 680.7,177.9 681.3,178.3 682.0,178.6 682.6,178.9 683.3,179.1 683.9,179.4 684.6,179.6 685.2,179.8 685.9,180.0 686.6,180.2 687.2,180.3" fill="none" stroke="#0a0ee6" stroke-width="1.9" stroke-linejoin="round" stroke-linecap="round" stroke-dasharray="5 3.5" stroke-linecap="butt"/>
<polyline points="385.3,217.0 618.8,215.4 619.4,215.4 620.0,215.3 620.6,215.3 621.2,215.2 621.7,215.1 622.3,215.0 622.9,214.9 623.5,214.9 624.1,214.8 624.7,214.6 625.2,214.5 625.8,214.4 626.4,214.2 627.0,214.1 627.6,213.9 628.2,213.6 628.7,213.4 629.3,213.0 629.9,212.7 630.5,212.2 631.1,211.5 631.7,210.6 632.2,209.1 632.8,206.4 635.2,192.0 637.2,143.7 640.5,33.7 644.2,95.3 647.5,139.0 650.8,155.4 652.4,166.5 653.9,172.4 655.4,176.1 656.9,178.7 658.4,180.7 659.9,182.3 661.5,183.6 663.0,184.7 664.5,185.6 666.0,186.4 667.5,187.1 669.0,187.7 670.5,188.3 672.1,188.8 673.6,189.2 675.1,189.7 676.6,190.0 678.1,190.4 679.6,190.7 681.1,191.0 682.7,191.3 684.2,191.6 685.7,191.8 687.2,192.0" fill="none" stroke="#0a0ee6" stroke-width="2.4" stroke-linejoin="round" stroke-linecap="round" />
<polyline points="385.3,217.0 505.4,216.2 505.7,216.2 506.1,216.2 506.4,216.2 506.8,216.2 507.1,216.2 507.5,216.1 507.8,216.1 508.2,216.1 508.5,216.1 508.9,216.1 509.2,216.1 509.6,216.0 509.9,216.0 510.3,216.0 510.6,215.9 511.0,215.9 511.3,215.9 511.7,215.8 512.0,215.7 512.3,215.7 512.7,215.5 513.0,215.4 513.4,215.1 513.7,214.7 516.7,208.7 519.1,192.0 521.4,155.4 524.7,105.9 527.7,135.9 531.1,162.7 537.4,179.6 539.4,186.2 541.4,189.7 543.4,191.9 545.4,193.5 547.4,194.7 549.4,195.6 551.4,196.4 553.4,197.0 555.4,197.6 557.4,198.1 559.4,198.5 561.4,198.8 563.4,199.2 565.4,199.5 567.4,199.7 569.4,200.0 571.4,200.2 573.5,200.4 575.5,200.6 577.5,200.8 579.5,201.0 581.5,201.1 583.5,201.3 585.5,201.4 588.5,201.4 592.1,192.0 595.1,170.2 600.1,147.6 605.5,168.6 612.5,178.5 615.0,185.4 617.5,189.1 619.9,191.4 622.4,193.1 624.9,194.3 627.4,195.3 629.9,196.1 632.4,196.8 634.9,197.4 637.4,197.9 639.9,198.3 642.3,198.7 644.8,199.1 647.3,199.4 649.8,199.7 652.3,199.9 654.8,200.2 657.3,200.4 659.8,200.6 662.2,200.8 664.7,200.9 667.2,201.1 669.7,201.3 672.2,201.4 677.9,201.1 681.2,196.7 683.9,174.9 685.5,146.8" fill="none" stroke="#e8141a" stroke-width="2.3" stroke-linejoin="round" stroke-linecap="round" />
<polyline points="385.3,217.8 537.1,217.0 537.4,216.9 537.7,216.8 538.0,216.7 538.4,216.6 538.7,216.4 539.0,216.3 539.3,216.1 539.6,216.0 540.0,215.8 540.3,215.6 540.6,215.4 540.9,215.2 541.2,214.9 541.6,214.6 541.9,214.3 542.2,213.9 542.5,213.4 542.8,212.9 543.2,212.2 543.5,211.3 543.8,210.2 544.1,208.6 544.4,206.1 544.8,201.4 548.4,174.9 553.4,144.5 558.1,164.0 564.1,182.1 569.2,191.4 574.4,196.3 579.5,199.4 584.6,201.6 589.8,203.3 594.9,204.6 600.0,205.7 605.1,206.6 610.3,207.4 615.4,208.0 620.5,208.6 625.7,209.1 630.8,209.6 635.9,210.0 641.0,210.4 646.2,210.7 651.3,211.0 656.4,211.3 661.6,211.6 666.7,211.9 671.8,212.1 676.9,212.3 682.1,212.5 687.2,212.7" fill="none" stroke="#e8141a" stroke-width="1.9" stroke-linejoin="round" stroke-linecap="round" stroke-dasharray="5 3.5" stroke-linecap="butt"/>
<polyline points="385.3,217.4 490.4,217.0 490.6,216.9 490.9,216.8 491.1,216.7 491.3,216.6 491.6,216.4 491.8,216.3 492.0,216.1 492.3,216.0 492.5,215.8 492.7,215.6 493.0,215.4 493.2,215.2 493.5,214.9 493.7,214.6 493.9,214.3 494.2,213.9 494.4,213.4 494.6,212.9 494.9,212.2 495.1,211.3 495.3,210.2 495.6,208.6 495.8,206.1 496.1,201.4 501.1,184.5 507.1,166.3 512.1,177.2 517.7,188.1 519.2,194.0 520.6,197.1 522.0,199.1 523.5,200.5 524.9,201.5 526.3,202.4 527.8,203.0 529.2,203.6 530.6,204.1 532.1,204.5 533.5,204.9 534.9,205.2 536.4,205.5 537.8,205.8 539.2,206.0 540.6,206.2 542.1,206.4 543.5,206.6 544.9,206.8 546.4,206.9 547.8,207.1 549.2,207.2 550.7,207.4 552.1,207.5 554.9,209.3 557.7,210.3 560.4,210.9 563.2,211.3 566.0,211.6 568.8,211.9 571.6,212.1 574.3,212.3 577.1,212.4 579.9,212.6 582.7,212.7 585.5,212.8 588.2,212.9 591.0,213.0 593.8,213.0 596.6,213.1 599.4,213.2 602.1,213.2 604.9,213.3 607.7,213.3 610.5,213.4 613.3,213.4 616.0,213.5 618.8,213.5 619.3,213.5 619.7,213.4 620.1,213.4 620.5,213.4 621.0,213.3 621.4,213.3 621.8,213.2 622.3,213.2 622.7,213.1 623.1,213.1 623.6,213.0 624.0,212.9 624.4,212.9 624.9,212.8 625.3,212.7 625.7,212.6 626.1,212.4 626.6,212.2 627.0,212.0 627.4,211.8 627.9,211.5 628.3,211.0 628.7,210.2 629.2,208.8 635.2,196.7 638.8,155.4 640.8,142.1 643.8,150.7 648.5,165.2 650.1,172.4 651.7,176.2 653.3,178.6 655.0,180.3 656.6,181.6 658.2,182.6 659.8,183.5 661.4,184.2 663.0,184.8 664.6,185.3 666.2,185.7 667.9,186.1 669.5,186.5 671.1,186.8 672.7,187.1 674.3,187.4 675.9,187.6 677.5,187.9 679.1,188.1 680.8,188.3 682.4,188.4 684.0,188.6 685.6,188.8 687.2,188.9" fill="none" stroke="#0b7a0b" stroke-width="1.9" stroke-linejoin="round" stroke-linecap="round" stroke-dasharray="5 3.5" stroke-linecap="butt"/>
<polyline points="385.3,216.6 445.3,216.4 445.9,216.4 446.5,216.4 447.1,216.4 447.7,216.3 448.3,216.3 448.9,216.3 449.5,216.3 450.1,216.3 450.7,216.3 451.3,216.3 451.9,216.3 452.5,216.3 453.1,216.3 453.7,216.2 454.3,216.2 454.9,216.2 455.5,216.2 456.1,216.1 456.7,216.1 457.3,216.0 457.9,216.0 458.5,215.9 459.1,215.7 459.7,215.4 464.7,213.6 468.4,206.3 472.4,187.0 478.0,151.1 482.7,179.6 489.0,190.5 491.4,194.9 493.7,197.2 496.1,198.7 498.4,199.8 500.7,200.6 503.1,201.2 505.4,201.7 507.7,202.1 510.1,202.5 512.4,202.8 514.7,203.1 517.1,203.4 519.4,203.6 521.7,203.8 524.1,204.0 526.4,204.1 528.7,204.3 531.1,204.4 533.4,204.5 535.8,204.7 538.1,204.8 540.4,204.9 542.8,205.0 545.1,205.1 546.1,205.1 548.4,199.1 553.4,174.9 558.8,171.2 564.1,183.5 570.1,186.9 576.8,179.6 583.1,117.9 588.5,151.9 598.1,167.6 601.8,177.6 605.6,182.8 609.3,186.1 613.0,188.5 616.7,190.3 620.4,191.7 624.1,192.9 627.8,193.8 631.5,194.6 635.2,195.4 639.0,196.0 642.7,196.5 646.4,197.0 650.1,197.5 653.8,197.9 657.5,198.3 661.2,198.6 664.9,198.9 668.7,199.2 672.4,199.5 676.1,199.7 679.8,200.0 683.5,200.2 687.2,200.4" fill="none" stroke="#0b7a0b" stroke-width="2.3" stroke-linejoin="round" stroke-linecap="round" />
</g>
<rect x="385.30" y="22.00" width="302.00" height="195.00" stroke="#707070" fill="none" stroke-width="1" />
<rect x="385.30" y="22.00" width="101.20" height="76.80" stroke="#707070" fill="#fff" stroke-width="1" />
<line x1="388.50" y1="29.50" x2="405.00" y2="29.50" stroke="#0a0ee6" stroke-width="1.8" />
<text x="407" y="33.5" font-family='"Liberation Serif", serif' font-size="11.2" fill="#111" textLength="78" lengthAdjust="spacingAndGlyphs"><tspan font-style="italic">M</tspan> = 3 (BL-AGNRs)</text>
<line x1="388.50" y1="42.30" x2="405.00" y2="42.30" stroke="#e8141a" stroke-width="1.8" />
<text x="407" y="46.3" font-family='"Liberation Serif", serif' font-size="11.2" fill="#111" textLength="24.5" lengthAdjust="spacingAndGlyphs"><tspan font-style="italic">M</tspan> = 6</text>
<line x1="388.50" y1="54.20" x2="405.00" y2="54.20" stroke="#0b7a0b" stroke-width="1.8" />
<text x="407" y="58.2" font-family='"Liberation Serif", serif' font-size="11.2" fill="#111" textLength="24.5" lengthAdjust="spacingAndGlyphs"><tspan font-style="italic">M</tspan> = 9</text>
<line x1="388.50" y1="66.60" x2="405.00" y2="66.60" stroke="#0a0ee6" stroke-width="1.8" stroke-dasharray="3.5 2.2"/>
<text x="407" y="70.6" font-family='"Liberation Serif", serif' font-size="11.2" fill="#111" textLength="78" lengthAdjust="spacingAndGlyphs"><tspan font-style="italic">M</tspan> = 3 (SL-AGNRs)</text>
<line x1="388.50" y1="79.20" x2="405.00" y2="79.20" stroke="#e8141a" stroke-width="1.8" stroke-dasharray="3.5 2.2"/>
<text x="407" y="83.2" font-family='"Liberation Serif", serif' font-size="11.2" fill="#111" textLength="24.5" lengthAdjust="spacingAndGlyphs"><tspan font-style="italic">M</tspan> = 6</text>
<line x1="388.50" y1="91.60" x2="405.00" y2="91.60" stroke="#0b7a0b" stroke-width="1.8" stroke-dasharray="3.5 2.2"/>
<text x="407" y="95.6" font-family='"Liberation Serif", serif' font-size="11.2" fill="#111" textLength="24.5" lengthAdjust="spacingAndGlyphs"><tspan font-style="italic">M</tspan> = 9</text>
<text transform="translate(358.8,120.6) rotate(-90)" font-family='"Liberation Serif", serif' font-size="13.5" font-weight="bold" font-style="italic" fill="#111" text-anchor="middle" textLength="92" lengthAdjust="spacingAndGlyphs">A(ω) (arb.unit)</text>
<text x="519" y="253.5" font-family='"Liberation Serif", serif' font-size="15" font-style="italic" fill="#111" stroke="#111" stroke-width="0.35">ω (t<tspan font-size="11" dy="4.5">0</tspan><tspan dy="-4.5">)</tspan></text>
<text x="342" y="17.5" font-family='"Liberation Serif", serif' font-size="18.5" font-weight="bold" fill="#b01010" textLength="23" lengthAdjust="spacingAndGlyphs">(b)</text>
<text x="470.5" y="144" font-family='"Liberation Serif", serif' font-size="17" font-weight="bold" fill="#0b7a0b">ω<tspan font-size="12.2" dy="3.1">1</tspan></text>
<text x="501" y="114.5" font-family='"Liberation Serif", serif' font-size="17" font-weight="bold" fill="#e8141a">ω<tspan font-size="12.2" dy="3.1">1</tspan></text>
<text x="633" y="32" font-family='"Liberation Serif", serif' font-size="17" font-weight="bold" fill="#0a0ee6">ω<tspan font-size="12.2" dy="3.1">1</tspan></text>
<rect x="506.00" y="22.00" width="125.40" height="70.50" stroke="#707070" fill="#fff" stroke-width="1" />
<path d="M506.0,91.2 C508.3,91.0 516.0,90.3 520.0,89.8 C524.0,89.3 527.0,88.7 530.0,88.0 C533.0,87.3 535.7,86.7 538.0,85.5 C540.3,84.3 542.4,82.8 544.0,81.0 C545.6,79.2 546.5,77.3 547.5,75.0 C548.5,72.7 549.2,69.8 550.0,67.0 C550.8,64.2 551.3,61.0 552.0,58.0 C552.7,55.0 553.2,52.3 554.0,49.0 C554.8,45.7 555.6,40.9 556.5,38.0 C557.4,35.1 558.8,32.1 559.6,31.4 C560.4,30.6 560.8,32.2 561.5,33.5 C562.2,34.8 563.1,36.8 564.0,39.0 C564.9,41.2 566.0,44.2 567.0,46.5 C568.0,48.8 568.7,50.8 570.0,53.0 C571.3,55.2 573.3,58.0 575.0,60.0 C576.7,62.0 578.3,63.6 580.0,65.0 C581.7,66.4 583.3,67.5 585.0,68.5 C586.7,69.5 587.5,70.0 590.0,71.0 C592.5,72.0 596.7,73.5 600.0,74.5 C603.3,75.5 606.7,76.3 610.0,77.0 C613.3,77.7 616.4,78.3 620.0,78.8 C623.6,79.3 629.5,80.0 631.4,80.2" fill="none" stroke="#0a0ee6" stroke-width="2"/>
<text x="503.00" y="96.50" font-family='"Liberation Serif", serif' font-size="11.5" font-weight="normal" font-style="normal" fill="#111" text-anchor="end" letter-spacing="1" stroke="#111" stroke-width="0.3">0</text>
<text x="503.00" y="83.85" font-family='"Liberation Serif", serif' font-size="11.5" font-weight="normal" font-style="normal" fill="#111" text-anchor="end" letter-spacing="1" stroke="#111" stroke-width="0.3">5</text>
<text x="503.00" y="71.20" font-family='"Liberation Serif", serif' font-size="11.5" font-weight="normal" font-style="normal" fill="#111" text-anchor="end" letter-spacing="1" stroke="#111" stroke-width="0.3">10</text>
<text x="503.00" y="58.55" font-family='"Liberation Serif", serif' font-size="11.5" font-weight="normal" font-style="normal" fill="#111" text-anchor="end" letter-spacing="1" stroke="#111" stroke-width="0.3">15</text>
<text x="503.00" y="45.90" font-family='"Liberation Serif", serif' font-size="11.5" font-weight="normal" font-style="normal" fill="#111" text-anchor="end" letter-spacing="1" stroke="#111" stroke-width="0.3">20</text>
<text x="503.00" y="33.25" font-family='"Liberation Serif", serif' font-size="11.5" font-weight="normal" font-style="normal" fill="#111" text-anchor="end" letter-spacing="1" stroke="#111" stroke-width="0.3">25</text>
<text x="506.50" y="103.50" font-family='"Liberation Serif", serif' font-size="11.5" font-weight="normal" font-style="normal" fill="#111" text-anchor="middle" letter-spacing="1.2" stroke="#111" stroke-width="0.3">0.72</text>
<text x="544.00" y="103.50" font-family='"Liberation Serif", serif' font-size="11.5" font-weight="normal" font-style="normal" fill="#111" text-anchor="middle" letter-spacing="1.2" stroke="#111" stroke-width="0.3">0.75</text>
<text x="581.50" y="103.50" font-family='"Liberation Serif", serif' font-size="11.5" font-weight="normal" font-style="normal" fill="#111" text-anchor="middle" letter-spacing="1.2" stroke="#111" stroke-width="0.3">0.78</text>
<text x="619.00" y="103.50" font-family='"Liberation Serif", serif' font-size="11.5" font-weight="normal" font-style="normal" fill="#111" text-anchor="middle" letter-spacing="1.2" stroke="#111" stroke-width="0.3">0.81</text>
<line x1="506.00" y1="31.20" x2="631.40" y2="31.20" stroke="#777" stroke-width="0.7" stroke-dasharray="1.2 1.2"/>
<line x1="506.00" y1="62.40" x2="631.40" y2="62.40" stroke="#777" stroke-width="0.7" stroke-dasharray="1.2 1.2"/>
<line x1="559.60" y1="31.20" x2="559.60" y2="92.50" stroke="#e0a040" stroke-width="1.3" stroke-dasharray="2 1.5"/>
<line x1="551.60" y1="62.40" x2="551.60" y2="92.50" stroke="#e0209a" stroke-width="1.3" stroke-dasharray="1.5 1.5"/>
<line x1="576.00" y1="62.40" x2="576.00" y2="92.50" stroke="#e0209a" stroke-width="1.3" stroke-dasharray="1.5 1.5"/>
<line x1="554.60" y1="62.40" x2="573.00" y2="62.40" stroke="#e8141c" stroke-width="1.5" />
<path d="M551.6,62.4 l5,-3 v6 z M576.0,62.4 l-5,-3 v6 z" fill="#e8141c"/>
<text x="508" y="37.5" font-family='"Liberation Serif", serif' font-size="12" font-style="italic" fill="#e01a1a">A<tspan font-size="7" dy="2">max</tspan><tspan dy="-2"> (ω)</tspan></text>
<text x="508" y="61" font-family='"Liberation Serif", serif' font-size="12" font-style="italic" fill="#e01a1a">A<tspan font-size="7" dy="2">max</tspan><tspan dy="-2">(ω)/2</tspan></text>
<text x="552" y="72" font-family='"Liberation Serif", serif' font-size="10" font-weight="bold" fill="#111" textLength="37" lengthAdjust="spacingAndGlyphs">FWHM</text>
<text x="542" y="90" font-family='"Liberation Serif", serif' font-size="13" font-style="italic" fill="#111">x<tspan font-size="8" dy="2">1</tspan></text>
<text x="575" y="90" font-family='"Liberation Serif", serif' font-size="13" font-style="italic" fill="#111">x<tspan font-size="8" dy="2">2</tspan></text>
<line x1="510.00" y1="25.60" x2="537.00" y2="25.60" stroke="#0a0ee6" stroke-width="1.8" />
<text x="539" y="29.5" font-family='"Liberation Serif", serif' font-size="11" fill="#111" textLength="92" lengthAdjust="spacingAndGlyphs"><tspan font-style="italic">M</tspan> = 3 (BL-AGNRs)</text>
<line x1="71.25" y1="273.80" x2="71.25" y2="478.00" stroke="#e6e6e6" stroke-width="1" />
<line x1="116.50" y1="273.80" x2="116.50" y2="478.00" stroke="#e6e6e6" stroke-width="1" />
<line x1="161.75" y1="273.80" x2="161.75" y2="478.00" stroke="#e6e6e6" stroke-width="1" />
<line x1="207.00" y1="273.80" x2="207.00" y2="478.00" stroke="#e6e6e6" stroke-width="1" />
<line x1="252.25" y1="273.80" x2="252.25" y2="478.00" stroke="#e6e6e6" stroke-width="1" />
<line x1="297.50" y1="273.80" x2="297.50" y2="478.00" stroke="#e6e6e6" stroke-width="1" />
<line x1="56.00" y1="455.33" x2="312.30" y2="455.33" stroke="#e6e6e6" stroke-width="1" />
<line x1="56.00" y1="432.66" x2="312.30" y2="432.66" stroke="#e6e6e6" stroke-width="1" />
<line x1="56.00" y1="409.99" x2="312.30" y2="409.99" stroke="#e6e6e6" stroke-width="1" />
<line x1="56.00" y1="387.32" x2="312.30" y2="387.32" stroke="#e6e6e6" stroke-width="1" />
<line x1="56.00" y1="364.65" x2="312.30" y2="364.65" stroke="#e6e6e6" stroke-width="1" />
<line x1="56.00" y1="341.98" x2="312.30" y2="341.98" stroke="#e6e6e6" stroke-width="1" />
<line x1="56.00" y1="319.31" x2="312.30" y2="319.31" stroke="#e6e6e6" stroke-width="1" />
<line x1="56.00" y1="296.64" x2="312.30" y2="296.64" stroke="#e6e6e6" stroke-width="1" />
<line x1="52.00" y1="478.00" x2="56.00" y2="478.00" stroke="#262626" stroke-width="1" />
<line x1="53.50" y1="466.67" x2="56.00" y2="466.67" stroke="#262626" stroke-width="1" />
<line x1="52.00" y1="455.33" x2="56.00" y2="455.33" stroke="#262626" stroke-width="1" />
<line x1="53.50" y1="444.00" x2="56.00" y2="444.00" stroke="#262626" stroke-width="1" />
<line x1="52.00" y1="432.66" x2="56.00" y2="432.66" stroke="#262626" stroke-width="1" />
<line x1="53.50" y1="421.32" x2="56.00" y2="421.32" stroke="#262626" stroke-width="1" />
<line x1="52.00" y1="409.99" x2="56.00" y2="409.99" stroke="#262626" stroke-width="1" />
<line x1="53.50" y1="398.66" x2="56.00" y2="398.66" stroke="#262626" stroke-width="1" />
<line x1="52.00" y1="387.32" x2="56.00" y2="387.32" stroke="#262626" stroke-width="1" />
<line x1="53.50" y1="375.99" x2="56.00" y2="375.99" stroke="#262626" stroke-width="1" />
<line x1="52.00" y1="364.65" x2="56.00" y2="364.65" stroke="#262626" stroke-width="1" />
<line x1="53.50" y1="353.31" x2="56.00" y2="353.31" stroke="#262626" stroke-width="1" />
<line x1="52.00" y1="341.98" x2="56.00" y2="341.98" stroke="#262626" stroke-width="1" />
<line x1="53.50" y1="330.64" x2="56.00" y2="330.64" stroke="#262626" stroke-width="1" />
<line x1="52.00" y1="319.31" x2="56.00" y2="319.31" stroke="#262626" stroke-width="1" />
<line x1="53.50" y1="307.98" x2="56.00" y2="307.98" stroke="#262626" stroke-width="1" />
<line x1="52.00" y1="296.64" x2="56.00" y2="296.64" stroke="#262626" stroke-width="1" />
<line x1="53.50" y1="285.30" x2="56.00" y2="285.30" stroke="#262626" stroke-width="1" />
<line x1="52.00" y1="273.97" x2="56.00" y2="273.97" stroke="#262626" stroke-width="1" />
<line x1="71.25" y1="478.00" x2="71.25" y2="481.50" stroke="#262626" stroke-width="1" />
<line x1="116.50" y1="478.00" x2="116.50" y2="481.50" stroke="#262626" stroke-width="1" />
<line x1="161.75" y1="478.00" x2="161.75" y2="481.50" stroke="#262626" stroke-width="1" />
<line x1="207.00" y1="478.00" x2="207.00" y2="481.50" stroke="#262626" stroke-width="1" />
<line x1="252.25" y1="478.00" x2="252.25" y2="481.50" stroke="#262626" stroke-width="1" />
<line x1="297.50" y1="478.00" x2="297.50" y2="481.50" stroke="#262626" stroke-width="1" />
<line x1="93.87" y1="478.00" x2="93.87" y2="480.00" stroke="#262626" stroke-width="1" />
<line x1="139.12" y1="478.00" x2="139.12" y2="480.00" stroke="#262626" stroke-width="1" />
<line x1="184.37" y1="478.00" x2="184.37" y2="480.00" stroke="#262626" stroke-width="1" />
<line x1="229.62" y1="478.00" x2="229.62" y2="480.00" stroke="#262626" stroke-width="1" />
<line x1="274.87" y1="478.00" x2="274.87" y2="480.00" stroke="#262626" stroke-width="1" />
<line x1="312.30" y1="478.00" x2="315.80" y2="478.00" stroke="#262626" stroke-width="1" />
<line x1="312.30" y1="461.73" x2="315.80" y2="461.73" stroke="#262626" stroke-width="1" />
<line x1="312.30" y1="445.46" x2="315.80" y2="445.46" stroke="#262626" stroke-width="1" />
<line x1="312.30" y1="429.19" x2="315.80" y2="429.19" stroke="#262626" stroke-width="1" />
<line x1="312.30" y1="412.92" x2="315.80" y2="412.92" stroke="#262626" stroke-width="1" />
<line x1="312.30" y1="396.65" x2="315.80" y2="396.65" stroke="#262626" stroke-width="1" />
<line x1="312.30" y1="380.38" x2="315.80" y2="380.38" stroke="#262626" stroke-width="1" />
<line x1="312.30" y1="364.11" x2="315.80" y2="364.11" stroke="#262626" stroke-width="1" />
<line x1="312.30" y1="347.84" x2="315.80" y2="347.84" stroke="#262626" stroke-width="1" />
<line x1="312.30" y1="331.57" x2="315.80" y2="331.57" stroke="#262626" stroke-width="1" />
<line x1="312.30" y1="315.30" x2="315.80" y2="315.30" stroke="#262626" stroke-width="1" />
<line x1="312.30" y1="299.03" x2="315.80" y2="299.03" stroke="#262626" stroke-width="1" />
<line x1="312.30" y1="282.76" x2="315.80" y2="282.76" stroke="#262626" stroke-width="1" />
<line x1="312.30" y1="469.87" x2="314.30" y2="469.87" stroke="#262626" stroke-width="1" />
<line x1="312.30" y1="453.60" x2="314.30" y2="453.60" stroke="#262626" stroke-width="1" />
<line x1="312.30" y1="437.32" x2="314.30" y2="437.32" stroke="#262626" stroke-width="1" />
<line x1="312.30" y1="421.06" x2="314.30" y2="421.06" stroke="#262626" stroke-width="1" />
<line x1="312.30" y1="404.78" x2="314.30" y2="404.78" stroke="#262626" stroke-width="1" />
<line x1="312.30" y1="388.51" x2="314.30" y2="388.51" stroke="#262626" stroke-width="1" />
<line x1="312.30" y1="372.25" x2="314.30" y2="372.25" stroke="#262626" stroke-width="1" />
<line x1="312.30" y1="355.98" x2="314.30" y2="355.98" stroke="#262626" stroke-width="1" />
<line x1="312.30" y1="339.71" x2="314.30" y2="339.71" stroke="#262626" stroke-width="1" />
<line x1="312.30" y1="323.44" x2="314.30" y2="323.44" stroke="#262626" stroke-width="1" />
<line x1="312.30" y1="307.16" x2="314.30" y2="307.16" stroke="#262626" stroke-width="1" />
<line x1="312.30" y1="290.89" x2="314.30" y2="290.89" stroke="#262626" stroke-width="1" />
<line x1="71.25" y1="273.80" x2="71.25" y2="276.80" stroke="#262626" stroke-width="1" />
<line x1="116.50" y1="273.80" x2="116.50" y2="276.80" stroke="#262626" stroke-width="1" />
<line x1="161.75" y1="273.80" x2="161.75" y2="276.80" stroke="#262626" stroke-width="1" />
<line x1="207.00" y1="273.80" x2="207.00" y2="276.80" stroke="#262626" stroke-width="1" />
<line x1="252.25" y1="273.80" x2="252.25" y2="276.80" stroke="#262626" stroke-width="1" />
<line x1="297.50" y1="273.80" x2="297.50" y2="276.80" stroke="#262626" stroke-width="1" />
<line x1="93.87" y1="273.80" x2="93.87" y2="275.80" stroke="#262626" stroke-width="1" />
<line x1="139.12" y1="273.80" x2="139.12" y2="275.80" stroke="#262626" stroke-width="1" />
<line x1="184.37" y1="273.80" x2="184.37" y2="275.80" stroke="#262626" stroke-width="1" />
<line x1="229.62" y1="273.80" x2="229.62" y2="275.80" stroke="#262626" stroke-width="1" />
<line x1="274.87" y1="273.80" x2="274.87" y2="275.80" stroke="#262626" stroke-width="1" />
<text x="50.50" y="482.50" font-family='"Liberation Serif", serif' font-size="13" font-weight="normal" font-style="normal" fill="#111" text-anchor="end" stroke="#111" stroke-width="0.25">0.0</text>
<text x="50.50" y="459.83" font-family='"Liberation Serif", serif' font-size="13" font-weight="normal" font-style="normal" fill="#111" text-anchor="end" stroke="#111" stroke-width="0.25">0.1</text>
<text x="50.50" y="437.16" font-family='"Liberation Serif", serif' font-size="13" font-weight="normal" font-style="normal" fill="#111" text-anchor="end" stroke="#111" stroke-width="0.25">0.2</text>
<text x="50.50" y="414.49" font-family='"Liberation Serif", serif' font-size="13" font-weight="normal" font-style="normal" fill="#111" text-anchor="end" stroke="#111" stroke-width="0.25">0.3</text>
<text x="50.50" y="391.82" font-family='"Liberation Serif", serif' font-size="13" font-weight="normal" font-style="normal" fill="#111" text-anchor="end" stroke="#111" stroke-width="0.25">0.4</text>
<text x="50.50" y="369.15" font-family='"Liberation Serif", serif' font-size="13" font-weight="normal" font-style="normal" fill="#111" text-anchor="end" stroke="#111" stroke-width="0.25">0.5</text>
<text x="50.50" y="346.48" font-family='"Liberation Serif", serif' font-size="13" font-weight="normal" font-style="normal" fill="#111" text-anchor="end" stroke="#111" stroke-width="0.25">0.6</text>
<text x="50.50" y="323.81" font-family='"Liberation Serif", serif' font-size="13" font-weight="normal" font-style="normal" fill="#111" text-anchor="end" stroke="#111" stroke-width="0.25">0.7</text>
<text x="50.50" y="301.14" font-family='"Liberation Serif", serif' font-size="13" font-weight="normal" font-style="normal" fill="#111" text-anchor="end" stroke="#111" stroke-width="0.25">0.8</text>
<text x="50.50" y="278.47" font-family='"Liberation Serif", serif' font-size="13" font-weight="normal" font-style="normal" fill="#111" text-anchor="end" stroke="#111" stroke-width="0.25">0.9</text>
<text x="71.25" y="494.80" font-family='"Liberation Serif", serif' font-size="13" font-weight="normal" font-style="normal" fill="#111" text-anchor="middle" stroke="#111" stroke-width="0.25">3</text>
<text x="116.50" y="494.80" font-family='"Liberation Serif", serif' font-size="13" font-weight="normal" font-style="normal" fill="#111" text-anchor="middle" stroke="#111" stroke-width="0.25">6</text>
<text x="161.75" y="494.80" font-family='"Liberation Serif", serif' font-size="13" font-weight="normal" font-style="normal" fill="#111" text-anchor="middle" stroke="#111" stroke-width="0.25">9</text>
<text x="207.00" y="494.80" font-family='"Liberation Serif", serif' font-size="13" font-weight="normal" font-style="normal" fill="#111" text-anchor="middle" stroke="#111" stroke-width="0.25">12</text>
<text x="252.25" y="494.80" font-family='"Liberation Serif", serif' font-size="13" font-weight="normal" font-style="normal" fill="#111" text-anchor="middle" stroke="#111" stroke-width="0.25">15</text>
<text x="297.50" y="494.80" font-family='"Liberation Serif", serif' font-size="13" font-weight="normal" font-style="normal" fill="#111" text-anchor="middle" stroke="#111" stroke-width="0.25">18</text>
<text x="317.30" y="482.30" font-family='"Liberation Serif", serif' font-size="12.5" font-weight="normal" font-style="normal" fill="#111" text-anchor="start" stroke="#111" stroke-width="0.2">0</text>
<text x="317.30" y="466.03" font-family='"Liberation Serif", serif' font-size="12.5" font-weight="normal" font-style="normal" fill="#111" text-anchor="start" stroke="#111" stroke-width="0.2">2</text>
<text x="317.30" y="449.76" font-family='"Liberation Serif", serif' font-size="12.5" font-weight="normal" font-style="normal" fill="#111" text-anchor="start" stroke="#111" stroke-width="0.2">4</text>
<text x="317.30" y="433.49" font-family='"Liberation Serif", serif' font-size="12.5" font-weight="normal" font-style="normal" fill="#111" text-anchor="start" stroke="#111" stroke-width="0.2">6</text>
<text x="317.30" y="417.22" font-family='"Liberation Serif", serif' font-size="12.5" font-weight="normal" font-style="normal" fill="#111" text-anchor="start" stroke="#111" stroke-width="0.2">8</text>
<text x="317.30" y="400.95" font-family='"Liberation Serif", serif' font-size="12.5" font-weight="normal" font-style="normal" fill="#111" text-anchor="start" stroke="#111" stroke-width="0.2">10</text>
<text x="317.30" y="384.68" font-family='"Liberation Serif", serif' font-size="12.5" font-weight="normal" font-style="normal" fill="#111" text-anchor="start" stroke="#111" stroke-width="0.2">12</text>
<text x="317.30" y="368.41" font-family='"Liberation Serif", serif' font-size="12.5" font-weight="normal" font-style="normal" fill="#111" text-anchor="start" stroke="#111" stroke-width="0.2">14</text>
<text x="317.30" y="352.14" font-family='"Liberation Serif", serif' font-size="12.5" font-weight="normal" font-style="normal" fill="#111" text-anchor="start" stroke="#111" stroke-width="0.2">16</text>
<text x="317.30" y="335.87" font-family='"Liberation Serif", serif' font-size="12.5" font-weight="normal" font-style="normal" fill="#111" text-anchor="start" stroke="#111" stroke-width="0.2">18</text>
<text x="317.30" y="319.60" font-family='"Liberation Serif", serif' font-size="12.5" font-weight="normal" font-style="normal" fill="#111" text-anchor="start" stroke="#111" stroke-width="0.2">20</text>
<text x="317.30" y="303.33" font-family='"Liberation Serif", serif' font-size="12.5" font-weight="normal" font-style="normal" fill="#111" text-anchor="start" stroke="#111" stroke-width="0.2">22</text>
<text x="317.30" y="287.06" font-family='"Liberation Serif", serif' font-size="12.5" font-weight="normal" font-style="normal" fill="#111" text-anchor="start" stroke="#111" stroke-width="0.2">24</text>
<polyline points="71.2,356.8 116.5,403.2 161.7,425.1 207.0,417.0 252.2,420.2 297.5,425.9" fill="none" stroke="#f47c1c" stroke-width="1.6" stroke-dasharray="6 4"/>
<polyline points="71.2,289.8 116.5,364.6 161.7,395.0 207.0,416.8 252.2,426.8 297.5,434.2" fill="none" stroke="#0d6e0d" stroke-width="1.7" stroke-dasharray="6.5 4"/>
<polyline points="71.2,284.4 116.5,360.9 161.7,408.9 207.0,412.9 252.2,436.9 297.5,436.5" fill="none" stroke="#f47c1c" stroke-width="1.6"/>
<polyline points="71.2,304.8 116.5,383.5 161.7,415.7 207.0,434.2 252.2,444.9 297.5,451.7" fill="none" stroke="#0d6e0d" stroke-width="1.6"/>
<path d="M71.2,353.1 L75.0,356.8 L71.2,360.5 L67.5,356.8 Z" fill="#fff" stroke="#e8a060" stroke-width="1"/>
<path d="M116.5,399.5 L120.2,403.2 L116.5,406.9 L112.8,403.2 Z" fill="#fff" stroke="#e8a060" stroke-width="1"/>
<path d="M161.7,421.4 L165.4,425.1 L161.7,428.8 L158.0,425.1 Z" fill="#fff" stroke="#e8a060" stroke-width="1"/>
<path d="M207.0,413.3 L210.7,417.0 L207.0,420.7 L203.3,417.0 Z" fill="#fff" stroke="#e8a060" stroke-width="1"/>
<path d="M252.2,416.5 L255.9,420.2 L252.2,423.9 L248.5,420.2 Z" fill="#fff" stroke="#e8a060" stroke-width="1"/>
<path d="M297.5,422.2 L301.2,425.9 L297.5,429.6 L293.8,425.9 Z" fill="#fff" stroke="#e8a060" stroke-width="1"/>
<path d="M71.2,286.1 L75.0,292.6 L67.5,292.6 Z" fill="#fff" stroke="#5a9a5a" stroke-width="1"/>
<path d="M116.5,360.9 L120.2,367.4 L112.8,367.4 Z" fill="#fff" stroke="#5a9a5a" stroke-width="1"/>
<path d="M161.7,391.3 L165.4,397.8 L158.0,397.8 Z" fill="#fff" stroke="#5a9a5a" stroke-width="1"/>
<path d="M207.0,413.1 L210.7,419.6 L203.3,419.6 Z" fill="#fff" stroke="#5a9a5a" stroke-width="1"/>
<path d="M252.2,423.1 L255.9,429.5 L248.5,429.5 Z" fill="#fff" stroke="#5a9a5a" stroke-width="1"/>
<path d="M297.5,430.5 L301.2,437.0 L293.8,437.0 Z" fill="#fff" stroke="#5a9a5a" stroke-width="1"/>
<path d="M71.2,280.7 L75.0,284.4 L71.2,288.1 L67.5,284.4 Z" fill="#f47c1c" stroke="#f47c1c" stroke-width="1"/>
<path d="M116.5,357.2 L120.2,360.9 L116.5,364.6 L112.8,360.9 Z" fill="#f47c1c" stroke="#f47c1c" stroke-width="1"/>
<path d="M161.7,405.2 L165.4,408.9 L161.7,412.6 L158.0,408.9 Z" fill="#f47c1c" stroke="#f47c1c" stroke-width="1"/>
<path d="M207.0,409.2 L210.7,412.9 L207.0,416.6 L203.3,412.9 Z" fill="#f47c1c" stroke="#f47c1c" stroke-width="1"/>
<path d="M252.2,433.2 L255.9,436.9 L252.2,440.6 L248.5,436.9 Z" fill="#f47c1c" stroke="#f47c1c" stroke-width="1"/>
<path d="M297.5,432.8 L301.2,436.5 L297.5,440.2 L293.8,436.5 Z" fill="#f47c1c" stroke="#f47c1c" stroke-width="1"/>
<path d="M71.2,301.1 L75.0,307.6 L67.5,307.6 Z" fill="#0d6e0d" stroke="#0d6e0d" stroke-width="1"/>
<path d="M116.5,379.8 L120.2,386.2 L112.8,386.2 Z" fill="#0d6e0d" stroke="#0d6e0d" stroke-width="1"/>
<path d="M161.7,412.0 L165.4,418.4 L158.0,418.4 Z" fill="#0d6e0d" stroke="#0d6e0d" stroke-width="1"/>
<path d="M207.0,430.5 L210.7,437.0 L203.3,437.0 Z" fill="#0d6e0d" stroke="#0d6e0d" stroke-width="1"/>
<path d="M252.2,441.2 L255.9,447.7 L248.5,447.7 Z" fill="#0d6e0d" stroke="#0d6e0d" stroke-width="1"/>
<path d="M297.5,448.0 L301.2,454.5 L293.8,454.5 Z" fill="#0d6e0d" stroke="#0d6e0d" stroke-width="1"/>
<path d="M56.0,273.8 V478.0 H312.3 V273.8 Z" fill="none" stroke="#262626" stroke-width="1.5"/>
<line x1="104.40" y1="281.20" x2="131.00" y2="281.20" stroke="#f47c1c" stroke-width="2" />
<path d="M117.7,277.5 L121.4,281.2 L117.7,284.9 L114.0,281.2 Z" fill="#f47c1c" stroke="#f47c1c" stroke-width="1"/>
<text x="133.5" y="285.0" font-family='"Liberation Serif", serif' font-size="11.5" font-weight="bold" font-style="italic" fill="#d80c0c" textLength="171.5" lengthAdjust="spacingAndGlyphs">The height of 1st peaks (BL-AGNRs)</text>
<line x1="104.40" y1="294.20" x2="110.00" y2="294.20" stroke="#f47c1c" stroke-width="2" />
<line x1="125.50" y1="294.20" x2="131.00" y2="294.20" stroke="#f47c1c" stroke-width="2" />
<path d="M117.7,290.5 L121.4,294.2 L117.7,297.9 L114.0,294.2 Z" fill="#fff" stroke="#e8a060" stroke-width="1"/>
<text x="133.5" y="298.0" font-family='"Liberation Serif", serif' font-size="11.5" font-weight="bold" font-style="italic" fill="#d80c0c" textLength="169" lengthAdjust="spacingAndGlyphs">The height of 1st peaks (SL-AGNRs)</text>
<line x1="104.40" y1="307.40" x2="131.00" y2="307.40" stroke="#0d6e0d" stroke-width="2" />
<path d="M117.7,303.7 L121.4,310.2 L114.0,310.2 Z" fill="#0d6e0d" stroke="#0d6e0d" stroke-width="1"/>
<text x="132" y="311.2" font-family='"Liberation Serif", serif' font-size="11.5" font-weight="bold" font-style="italic" fill="#d80c0c" textLength="175" lengthAdjust="spacingAndGlyphs">The position of 1st peaks (BL-AGNRs)</text>
<line x1="104.40" y1="323.00" x2="110.00" y2="323.00" stroke="#0d6e0d" stroke-width="2" />
<line x1="125.50" y1="323.00" x2="131.00" y2="323.00" stroke="#0d6e0d" stroke-width="2" />
<path d="M117.7,319.3 L121.4,325.8 L114.0,325.8 Z" fill="#fff" stroke="#5a9a5a" stroke-width="1"/>
<text x="132" y="326.8" font-family='"Liberation Serif", serif' font-size="11.5" font-weight="bold" font-style="italic" fill="#d80c0c" textLength="178" lengthAdjust="spacingAndGlyphs">The position of 1st peaks (SL-AGNRs)</text>
<text x="3" y="266" font-family='"Liberation Serif", serif' font-size="18.5" font-weight="bold" fill="#b01010" textLength="22" lengthAdjust="spacingAndGlyphs">(d)</text>
<text x="168.3" y="510.5" font-family='"Liberation Serif", serif' font-size="14.5" font-style="italic" stroke="#111" stroke-width="0.4" fill="#111">M</text>
<text transform="translate(22.8,389) rotate(-90)" font-family='"Liberation Serif", serif' font-size="12" font-weight="bold" font-style="italic" fill="#111">ω (t<tspan font-size="10" dy="3.5">0</tspan>)</text>
<text transform="translate(335,335) rotate(90)" font-family='"Liberation Serif", serif' font-size="12" font-weight="bold" font-style="italic" fill="#111" textLength="76" lengthAdjust="spacingAndGlyphs">A(ω) (arb.unit)</text>
<line x1="388.50" y1="462.10" x2="586.50" y2="462.10" stroke="#e4e4e4" stroke-width="1" />
<line x1="598.70" y1="462.10" x2="684.00" y2="462.10" stroke="#e4e4e4" stroke-width="1" />
<line x1="388.50" y1="441.35" x2="586.50" y2="441.35" stroke="#e4e4e4" stroke-width="1" />
<line x1="598.70" y1="441.35" x2="684.00" y2="441.35" stroke="#e4e4e4" stroke-width="1" />
<line x1="388.50" y1="420.60" x2="586.50" y2="420.60" stroke="#e4e4e4" stroke-width="1" />
<line x1="598.70" y1="420.60" x2="684.00" y2="420.60" stroke="#e4e4e4" stroke-width="1" />
<line x1="388.50" y1="399.85" x2="586.50" y2="399.85" stroke="#e4e4e4" stroke-width="1" />
<line x1="598.70" y1="399.85" x2="684.00" y2="399.85" stroke="#e4e4e4" stroke-width="1" />
<line x1="388.50" y1="379.10" x2="586.50" y2="379.10" stroke="#e4e4e4" stroke-width="1" />
<line x1="598.70" y1="379.10" x2="684.00" y2="379.10" stroke="#e4e4e4" stroke-width="1" />
<line x1="388.50" y1="358.35" x2="586.50" y2="358.35" stroke="#e4e4e4" stroke-width="1" />
<line x1="598.70" y1="358.35" x2="684.00" y2="358.35" stroke="#e4e4e4" stroke-width="1" />
<line x1="388.50" y1="337.60" x2="586.50" y2="337.60" stroke="#e4e4e4" stroke-width="1" />
<line x1="598.70" y1="337.60" x2="684.00" y2="337.60" stroke="#e4e4e4" stroke-width="1" />
<line x1="388.50" y1="316.85" x2="586.50" y2="316.85" stroke="#e4e4e4" stroke-width="1" />
<line x1="598.70" y1="316.85" x2="684.00" y2="316.85" stroke="#e4e4e4" stroke-width="1" />
<line x1="388.50" y1="296.10" x2="586.50" y2="296.10" stroke="#e4e4e4" stroke-width="1" />
<line x1="598.70" y1="296.10" x2="684.00" y2="296.10" stroke="#e4e4e4" stroke-width="1" />
<line x1="487.50" y1="275.30" x2="487.50" y2="482.80" stroke="#e4e4e4" stroke-width="1" />
<line x1="641.36" y1="275.30" x2="641.36" y2="482.80" stroke="#e4e4e4" stroke-width="1" />
<line x1="388.50" y1="482.85" x2="391.00" y2="482.85" stroke="#707070" stroke-width="1" />
<line x1="586.50" y1="482.85" x2="584.00" y2="482.85" stroke="#707070" stroke-width="1" />
<line x1="598.70" y1="482.85" x2="601.20" y2="482.85" stroke="#707070" stroke-width="1" />
<line x1="684.00" y1="482.85" x2="681.50" y2="482.85" stroke="#707070" stroke-width="1" />
<text x="384.00" y="486.85" font-family='"Liberation Serif", serif' font-size="12.5" font-weight="normal" font-style="normal" fill="#1a1a1a" text-anchor="end" >-0.5</text>
<line x1="388.50" y1="462.10" x2="391.00" y2="462.10" stroke="#707070" stroke-width="1" />
<line x1="586.50" y1="462.10" x2="584.00" y2="462.10" stroke="#707070" stroke-width="1" />
<line x1="598.70" y1="462.10" x2="601.20" y2="462.10" stroke="#707070" stroke-width="1" />
<line x1="684.00" y1="462.10" x2="681.50" y2="462.10" stroke="#707070" stroke-width="1" />
<text x="384.00" y="466.10" font-family='"Liberation Serif", serif' font-size="12.5" font-weight="normal" font-style="normal" fill="#1a1a1a" text-anchor="end" >-0.4</text>
<line x1="388.50" y1="441.35" x2="391.00" y2="441.35" stroke="#707070" stroke-width="1" />
<line x1="586.50" y1="441.35" x2="584.00" y2="441.35" stroke="#707070" stroke-width="1" />
<line x1="598.70" y1="441.35" x2="601.20" y2="441.35" stroke="#707070" stroke-width="1" />
<line x1="684.00" y1="441.35" x2="681.50" y2="441.35" stroke="#707070" stroke-width="1" />
<text x="384.00" y="445.35" font-family='"Liberation Serif", serif' font-size="12.5" font-weight="normal" font-style="normal" fill="#1a1a1a" text-anchor="end" >-0.3</text>
<line x1="388.50" y1="420.60" x2="391.00" y2="420.60" stroke="#707070" stroke-width="1" />
<line x1="586.50" y1="420.60" x2="584.00" y2="420.60" stroke="#707070" stroke-width="1" />
<line x1="598.70" y1="420.60" x2="601.20" y2="420.60" stroke="#707070" stroke-width="1" />
<line x1="684.00" y1="420.60" x2="681.50" y2="420.60" stroke="#707070" stroke-width="1" />
<text x="384.00" y="424.60" font-family='"Liberation Serif", serif' font-size="12.5" font-weight="normal" font-style="normal" fill="#1a1a1a" text-anchor="end" >-0.2</text>
<line x1="388.50" y1="399.85" x2="391.00" y2="399.85" stroke="#707070" stroke-width="1" />
<line x1="586.50" y1="399.85" x2="584.00" y2="399.85" stroke="#707070" stroke-width="1" />
<line x1="598.70" y1="399.85" x2="601.20" y2="399.85" stroke="#707070" stroke-width="1" />
<line x1="684.00" y1="399.85" x2="681.50" y2="399.85" stroke="#707070" stroke-width="1" />
<text x="384.00" y="403.85" font-family='"Liberation Serif", serif' font-size="12.5" font-weight="normal" font-style="normal" fill="#1a1a1a" text-anchor="end" >-0.1</text>
<line x1="388.50" y1="379.10" x2="391.00" y2="379.10" stroke="#707070" stroke-width="1" />
<line x1="586.50" y1="379.10" x2="584.00" y2="379.10" stroke="#707070" stroke-width="1" />
<line x1="598.70" y1="379.10" x2="601.20" y2="379.10" stroke="#707070" stroke-width="1" />
<line x1="684.00" y1="379.10" x2="681.50" y2="379.10" stroke="#707070" stroke-width="1" />
<text x="384.00" y="383.10" font-family='"Liberation Serif", serif' font-size="12.5" font-weight="normal" font-style="normal" fill="#1a1a1a" text-anchor="end" >0</text>
<line x1="388.50" y1="358.35" x2="391.00" y2="358.35" stroke="#707070" stroke-width="1" />
<line x1="586.50" y1="358.35" x2="584.00" y2="358.35" stroke="#707070" stroke-width="1" />
<line x1="598.70" y1="358.35" x2="601.20" y2="358.35" stroke="#707070" stroke-width="1" />
<line x1="684.00" y1="358.35" x2="681.50" y2="358.35" stroke="#707070" stroke-width="1" />
<text x="384.00" y="362.35" font-family='"Liberation Serif", serif' font-size="12.5" font-weight="normal" font-style="normal" fill="#1a1a1a" text-anchor="end" >0.1</text>
<line x1="388.50" y1="337.60" x2="391.00" y2="337.60" stroke="#707070" stroke-width="1" />
<line x1="586.50" y1="337.60" x2="584.00" y2="337.60" stroke="#707070" stroke-width="1" />
<line x1="598.70" y1="337.60" x2="601.20" y2="337.60" stroke="#707070" stroke-width="1" />
<line x1="684.00" y1="337.60" x2="681.50" y2="337.60" stroke="#707070" stroke-width="1" />
<text x="384.00" y="341.60" font-family='"Liberation Serif", serif' font-size="12.5" font-weight="normal" font-style="normal" fill="#1a1a1a" text-anchor="end" >0.2</text>
<line x1="388.50" y1="316.85" x2="391.00" y2="316.85" stroke="#707070" stroke-width="1" />
<line x1="586.50" y1="316.85" x2="584.00" y2="316.85" stroke="#707070" stroke-width="1" />
<line x1="598.70" y1="316.85" x2="601.20" y2="316.85" stroke="#707070" stroke-width="1" />
<line x1="684.00" y1="316.85" x2="681.50" y2="316.85" stroke="#707070" stroke-width="1" />
<text x="384.00" y="320.85" font-family='"Liberation Serif", serif' font-size="12.5" font-weight="normal" font-style="normal" fill="#1a1a1a" text-anchor="end" >0.3</text>
<line x1="388.50" y1="296.10" x2="391.00" y2="296.10" stroke="#707070" stroke-width="1" />
<line x1="586.50" y1="296.10" x2="584.00" y2="296.10" stroke="#707070" stroke-width="1" />
<line x1="598.70" y1="296.10" x2="601.20" y2="296.10" stroke="#707070" stroke-width="1" />
<line x1="684.00" y1="296.10" x2="681.50" y2="296.10" stroke="#707070" stroke-width="1" />
<text x="384.00" y="300.10" font-family='"Liberation Serif", serif' font-size="12.5" font-weight="normal" font-style="normal" fill="#1a1a1a" text-anchor="end" >0.4</text>
<line x1="388.50" y1="275.35" x2="391.00" y2="275.35" stroke="#707070" stroke-width="1" />
<line x1="586.50" y1="275.35" x2="584.00" y2="275.35" stroke="#707070" stroke-width="1" />
<line x1="598.70" y1="275.35" x2="601.20" y2="275.35" stroke="#707070" stroke-width="1" />
<line x1="684.00" y1="275.35" x2="681.50" y2="275.35" stroke="#707070" stroke-width="1" />
<text x="384.00" y="279.35" font-family='"Liberation Serif", serif' font-size="12.5" font-weight="normal" font-style="normal" fill="#1a1a1a" text-anchor="end" >0.5</text>
<line x1="388.62" y1="482.80" x2="388.62" y2="480.30" stroke="#707070" stroke-width="1" />
<line x1="388.62" y1="275.30" x2="388.62" y2="277.80" stroke="#707070" stroke-width="1" />
<line x1="487.50" y1="482.80" x2="487.50" y2="480.30" stroke="#707070" stroke-width="1" />
<line x1="487.50" y1="275.30" x2="487.50" y2="277.80" stroke="#707070" stroke-width="1" />
<line x1="586.38" y1="482.80" x2="586.38" y2="480.30" stroke="#707070" stroke-width="1" />
<line x1="586.38" y1="275.30" x2="586.38" y2="277.80" stroke="#707070" stroke-width="1" />
<line x1="598.70" y1="482.80" x2="598.70" y2="480.30" stroke="#707070" stroke-width="1" />
<line x1="598.70" y1="275.30" x2="598.70" y2="277.80" stroke="#707070" stroke-width="1" />
<line x1="641.36" y1="482.80" x2="641.36" y2="480.30" stroke="#707070" stroke-width="1" />
<line x1="641.36" y1="275.30" x2="641.36" y2="277.80" stroke="#707070" stroke-width="1" />
<line x1="684.02" y1="482.80" x2="684.02" y2="480.30" stroke="#707070" stroke-width="1" />
<line x1="684.02" y1="275.30" x2="684.02" y2="277.80" stroke="#707070" stroke-width="1" />
<text x="388.62" y="497.00" font-family='"Liberation Serif", serif' font-size="12.5" font-weight="normal" font-style="normal" fill="#1a1a1a" text-anchor="middle" >-0.4</text>
<text x="487.50" y="497.00" font-family='"Liberation Serif", serif' font-size="12.5" font-weight="normal" font-style="normal" fill="#1a1a1a" text-anchor="middle" >0</text>
<text x="586.38" y="497.00" font-family='"Liberation Serif", serif' font-size="12.5" font-weight="normal" font-style="normal" fill="#1a1a1a" text-anchor="middle" >0.4</text>
<text x="598.20" y="497.00" font-family='"Liberation Serif", serif' font-size="12.5" font-weight="normal" font-style="normal" fill="#1a1a1a" text-anchor="middle" >0</text>
<text x="641.36" y="497.00" font-family='"Liberation Serif", serif' font-size="12.5" font-weight="normal" font-style="normal" fill="#1a1a1a" text-anchor="middle" >2</text>
<text x="684.02" y="497.00" font-family='"Liberation Serif", serif' font-size="12.5" font-weight="normal" font-style="normal" fill="#1a1a1a" text-anchor="middle" >4</text>
<defs><clipPath id="cc"><rect x="388.5" y="275.3" width="198.0" height="207.5"/></clipPath><clipPath id="cq"><rect x="598.7" y="275.3" width="85.29999999999995" height="207.5"/></clipPath></defs>
<g clip-path="url(#cc)">
<polyline points="447.3,269.1 447.9,269.3 448.6,269.6 449.2,269.9 449.8,270.1 450.4,270.4 451.0,270.6 451.7,270.9 452.3,271.1 452.9,271.3 453.5,271.6 454.1,271.8 454.7,272.0 455.4,272.2 456.0,272.4 456.6,272.7 457.2,272.9 457.8,273.1 458.5,273.3 459.1,273.4 459.7,273.6 460.3,273.8 460.9,274.0 461.5,274.2 462.2,274.4 462.8,274.5 463.4,274.7 464.0,274.8 464.6,275.0 465.3,275.2 465.9,275.3 466.5,275.4 467.1,275.6 467.7,275.7 468.3,275.8 469.0,276.0 469.6,276.1 470.2,276.2 470.8,276.3 471.4,276.4 472.1,276.5 472.7,276.6 473.3,276.7 473.9,276.8 474.5,276.9 475.1,277.0 475.8,277.1 476.4,277.2 477.0,277.2 477.6,277.3 478.2,277.4 478.8,277.4 479.5,277.5 480.1,277.5 480.7,277.6 481.3,277.6 481.9,277.7 482.6,277.7 483.2,277.7 483.8,277.8 484.4,277.8 485.0,277.8 485.6,277.8 486.3,277.8 486.9,277.8 487.5,277.8 488.1,277.8 488.7,277.8 489.4,277.8 490.0,277.8 490.6,277.8 491.2,277.8 491.8,277.7 492.4,277.7 493.1,277.7 493.7,277.6 494.3,277.6 494.9,277.5 495.5,277.5 496.2,277.4 496.8,277.4 497.4,277.3 498.0,277.2 498.6,277.2 499.2,277.1 499.9,277.0 500.5,276.9 501.1,276.8 501.7,276.7 502.3,276.6 502.9,276.5 503.6,276.4 504.2,276.3 504.8,276.2 505.4,276.1 506.0,276.0 506.7,275.8 507.3,275.7 507.9,275.6 508.5,275.4 509.1,275.3 509.7,275.2 510.4,275.0 511.0,274.8 511.6,274.7 512.2,274.5 512.8,274.4 513.5,274.2 514.1,274.0 514.7,273.8 515.3,273.6 515.9,273.4 516.5,273.3 517.2,273.1 517.8,272.9 518.4,272.7 519.0,272.4 519.6,272.2 520.3,272.0 520.9,271.8 521.5,271.6 522.1,271.3 522.7,271.1 523.3,270.9 524.0,270.6 524.6,270.4 525.2,270.1 525.8,269.9 526.4,269.6 527.1,269.3 527.7,269.1" fill="none" stroke="#e03535" stroke-width="1.0" stroke-linejoin="round" stroke-linecap="round" />
<polyline points="457.2,269.1 457.8,269.8 458.5,270.6 459.1,271.3 459.7,271.9 460.3,272.6 460.9,273.3 461.5,273.9 462.2,274.5 462.8,275.1 463.4,275.7 464.0,276.3 464.6,276.9 465.3,277.4 465.9,278.0 466.5,278.5 467.1,279.0 467.7,279.5 468.3,279.9 469.0,280.4 469.6,280.9 470.2,281.3 470.8,281.7 471.4,282.1 472.1,282.5 472.7,282.8 473.3,283.2 473.9,283.5 474.5,283.9 475.1,284.2 475.8,284.5 476.4,284.7 477.0,285.0 477.6,285.3 478.2,285.5 478.8,285.7 479.5,285.9 480.1,286.1 480.7,286.3 481.3,286.4 481.9,286.6 482.6,286.7 483.2,286.8 483.8,286.9 484.4,287.0 485.0,287.1 485.6,287.1 486.3,287.1 486.9,287.2 487.5,287.2 488.1,287.2 488.7,287.1 489.4,287.1 490.0,287.1 490.6,287.0 491.2,286.9 491.8,286.8 492.4,286.7 493.1,286.6 493.7,286.4 494.3,286.3 494.9,286.1 495.5,285.9 496.2,285.7 496.8,285.5 497.4,285.3 498.0,285.0 498.6,284.7 499.2,284.5 499.9,284.2 500.5,283.9 501.1,283.5 501.7,283.2 502.3,282.8 502.9,282.5 503.6,282.1 504.2,281.7 504.8,281.3 505.4,280.9 506.0,280.4 506.7,279.9 507.3,279.5 507.9,279.0 508.5,278.5 509.1,278.0 509.7,277.4 510.4,276.9 511.0,276.3 511.6,275.7 512.2,275.1 512.8,274.5 513.5,273.9 514.1,273.3 514.7,272.6 515.3,271.9 515.9,271.3 516.5,270.6 517.2,269.8 517.8,269.1" fill="none" stroke="#0a0ee6" stroke-width="1.0" stroke-linejoin="round" stroke-linecap="round" />
<polyline points="428.2,269.1 428.8,269.4 429.4,269.6 430.0,269.9 430.6,270.2 431.3,270.5 431.9,270.7 432.5,271.0 433.1,271.3 433.7,271.5 434.4,271.8 435.0,272.1 435.6,272.3 436.2,272.6 436.8,272.8 437.4,273.1 438.1,273.4 438.7,273.6 439.3,273.9 439.9,274.1 440.5,274.4 441.1,274.6 441.8,274.9 442.4,275.1 443.0,275.4 443.6,275.6 444.2,275.8 444.9,276.1 445.5,276.3 446.1,276.5 446.7,276.8 447.3,277.0 447.9,277.2 448.6,277.4 449.2,277.7 449.8,277.9 450.4,278.1 451.0,278.3 451.7,278.5 452.3,278.7 452.9,279.0 453.5,279.2 454.1,279.4 454.7,279.6 455.4,279.8 456.0,280.0 456.6,280.1 457.2,280.3 457.8,280.5 458.5,280.7 459.1,280.9 459.7,281.1 460.3,281.2 460.9,281.4 461.5,281.6 462.2,281.8 462.8,281.9 463.4,282.1 464.0,282.2 464.6,282.4 465.3,282.5 465.9,282.7 466.5,282.8 467.1,283.0 467.7,283.1 468.3,283.2 469.0,283.4 469.6,283.5 470.2,283.6 470.8,283.7 471.4,283.8 472.1,283.9 472.7,284.0 473.3,284.1 473.9,284.2 474.5,284.3 475.1,284.4 475.8,284.5 476.4,284.6 477.0,284.7 477.6,284.7 478.2,284.8 478.8,284.9 479.5,284.9 480.1,285.0 480.7,285.0 481.3,285.1 481.9,285.1 482.6,285.2 483.2,285.2 483.8,285.2 484.4,285.3 485.0,285.3 485.6,285.3 486.3,285.3 486.9,285.3 487.5,285.3 488.1,285.3 488.7,285.3 489.4,285.3 490.0,285.3 490.6,285.3 491.2,285.2 491.8,285.2 492.4,285.2 493.1,285.1 493.7,285.1 494.3,285.0 494.9,285.0 495.5,284.9 496.2,284.9 496.8,284.8 497.4,284.7 498.0,284.7 498.6,284.6 499.2,284.5 499.9,284.4 500.5,284.3 501.1,284.2 501.7,284.1 502.3,284.0 502.9,283.9 503.6,283.8 504.2,283.7 504.8,283.6 505.4,283.5 506.0,283.4 506.7,283.2 507.3,283.1 507.9,283.0 508.5,282.8 509.1,282.7 509.7,282.5 510.4,282.4 511.0,282.2 511.6,282.1 512.2,281.9 512.8,281.8 513.5,281.6 514.1,281.4 514.7,281.2 515.3,281.1 515.9,280.9 516.5,280.7 517.2,280.5 517.8,280.3 518.4,280.1 519.0,280.0 519.6,279.8 520.3,279.6 520.9,279.4 521.5,279.2 522.1,279.0 522.7,278.7 523.3,278.5 524.0,278.3 524.6,278.1 525.2,277.9 525.8,277.7 526.4,277.4 527.1,277.2 527.7,277.0 528.3,276.8 528.9,276.5 529.5,276.3 530.1,276.1 530.8,275.8 531.4,275.6 532.0,275.4 532.6,275.1 533.2,274.9 533.9,274.6 534.5,274.4 535.1,274.1 535.7,273.9 536.3,273.6 536.9,273.4 537.6,273.1 538.2,272.8 538.8,272.6 539.4,272.3 540.0,272.1 540.6,271.8 541.3,271.5 541.9,271.3 542.5,271.0 543.1,270.7 543.7,270.5 544.4,270.2 545.0,269.9 545.6,269.6 546.2,269.4 546.8,269.1" fill="none" stroke="#0b7a0b" stroke-width="1.0" stroke-linejoin="round" stroke-linecap="round" />
<polyline points="412.1,269.0 412.7,269.6 413.3,270.2 414.0,270.9 414.6,271.5 415.2,272.1 415.8,272.7 416.4,273.3 417.0,273.9 417.7,274.5 418.3,275.1 418.9,275.7 419.5,276.3 420.1,276.9 420.8,277.5 421.4,278.1 422.0,278.6 422.6,279.2 423.2,279.8 423.8,280.4 424.5,280.9 425.1,281.5 425.7,282.1 426.3,282.6 426.9,283.2 427.6,283.7 428.2,284.3 428.8,284.8 429.4,285.4 430.0,285.9 430.6,286.4 431.3,287.0 431.9,287.5 432.5,288.0 433.1,288.5 433.7,289.0 434.4,289.6 435.0,290.1 435.6,290.6 436.2,291.1 436.8,291.6 437.4,292.0 438.1,292.5 438.7,293.0 439.3,293.5 439.9,294.0 440.5,294.4 441.1,294.9 441.8,295.3 442.4,295.8 443.0,296.3 443.6,296.7 444.2,297.1 444.9,297.6 445.5,298.0 446.1,298.4 446.7,298.9 447.3,299.3 447.9,299.7 448.6,300.1 449.2,300.5 449.8,300.9 450.4,301.3 451.0,301.7 451.7,302.0 452.3,302.4 452.9,302.8 453.5,303.2 454.1,303.5 454.7,303.9 455.4,304.2 456.0,304.6 456.6,304.9 457.2,305.2 457.8,305.5 458.5,305.9 459.1,306.2 459.7,306.5 460.3,306.8 460.9,307.1 461.5,307.4 462.2,307.6 462.8,307.9 463.4,308.2 464.0,308.5 464.6,308.7 465.3,309.0 465.9,309.2 466.5,309.5 467.1,309.7 467.7,309.9 468.3,310.1 469.0,310.3 469.6,310.5 470.2,310.7 470.8,310.9 471.4,311.1 472.1,311.3 472.7,311.5 473.3,311.6 473.9,311.8 474.5,312.0 475.1,312.1 475.8,312.2 476.4,312.4 477.0,312.5 477.6,312.6 478.2,312.7 478.8,312.8 479.5,312.9 480.1,313.0 480.7,313.1 481.3,313.2 481.9,313.2 482.6,313.3 483.2,313.4 483.8,313.4 484.4,313.4 485.0,313.5 485.6,313.5 486.3,313.5 486.9,313.5 487.5,313.5 488.1,313.5 488.7,313.5 489.4,313.5 490.0,313.5 490.6,313.4 491.2,313.4 491.8,313.4 492.4,313.3 493.1,313.2 493.7,313.2 494.3,313.1 494.9,313.0 495.5,312.9 496.2,312.8 496.8,312.7 497.4,312.6 498.0,312.5 498.6,312.4 499.2,312.2 499.9,312.1 500.5,312.0 501.1,311.8 501.7,311.6 502.3,311.5 502.9,311.3 503.6,311.1 504.2,310.9 504.8,310.7 505.4,310.5 506.0,310.3 506.7,310.1 507.3,309.9 507.9,309.7 508.5,309.5 509.1,309.2 509.7,309.0 510.4,308.7 511.0,308.5 511.6,308.2 512.2,307.9 512.8,307.6 513.5,307.4 514.1,307.1 514.7,306.8 515.3,306.5 515.9,306.2 516.5,305.9 517.2,305.5 517.8,305.2 518.4,304.9 519.0,304.6 519.6,304.2 520.3,303.9 520.9,303.5 521.5,303.2 522.1,302.8 522.7,302.4 523.3,302.0 524.0,301.7 524.6,301.3 525.2,300.9 525.8,300.5 526.4,300.1 527.1,299.7 527.7,299.3 528.3,298.9 528.9,298.4 529.5,298.0 530.1,297.6 530.8,297.1 531.4,296.7 532.0,296.3 532.6,295.8 533.2,295.3 533.9,294.9 534.5,294.4 535.1,294.0 535.7,293.5 536.3,293.0 536.9,292.5 537.6,292.0 538.2,291.6 538.8,291.1 539.4,290.6 540.0,290.1 540.6,289.6 541.3,289.0 541.9,288.5 542.5,288.0 543.1,287.5 543.7,287.0 544.4,286.4 545.0,285.9 545.6,285.4 546.2,284.8 546.8,284.3 547.4,283.7 548.1,283.2 548.7,282.6 549.3,282.1 549.9,281.5 550.5,280.9 551.2,280.4 551.8,279.8 552.4,279.2 553.0,278.6 553.6,278.1 554.2,277.5 554.9,276.9 555.5,276.3 556.1,275.7 556.7,275.1 557.3,274.5 558.0,273.9 558.6,273.3 559.2,272.7 559.8,272.1 560.4,271.5 561.0,270.9 561.7,270.2 562.3,269.6 562.9,269.0" fill="none" stroke="#0b7a0b" stroke-width="1.0" stroke-linejoin="round" stroke-linecap="round" />
<polyline points="433.1,268.8 433.7,269.6 434.4,270.4 435.0,271.3 435.6,272.1 436.2,272.9 436.8,273.8 437.4,274.6 438.1,275.4 438.7,276.2 439.3,277.0 439.9,277.8 440.5,278.6 441.1,279.4 441.8,280.2 442.4,281.0 443.0,281.8 443.6,282.6 444.2,283.4 444.9,284.1 445.5,284.9 446.1,285.7 446.7,286.5 447.3,287.2 447.9,288.0 448.6,288.7 449.2,289.5 449.8,290.2 450.4,290.9 451.0,291.7 451.7,292.4 452.3,293.1 452.9,293.8 453.5,294.5 454.1,295.2 454.7,295.9 455.4,296.6 456.0,297.3 456.6,298.0 457.2,298.6 457.8,299.3 458.5,299.9 459.1,300.6 459.7,301.2 460.3,301.8 460.9,302.5 461.5,303.1 462.2,303.7 462.8,304.3 463.4,304.8 464.0,305.4 464.6,306.0 465.3,306.5 465.9,307.1 466.5,307.6 467.1,308.1 467.7,308.6 468.3,309.1 469.0,309.6 469.6,310.1 470.2,310.5 470.8,311.0 471.4,311.4 472.1,311.8 472.7,312.2 473.3,312.6 473.9,313.0 474.5,313.4 475.1,313.7 475.8,314.1 476.4,314.4 477.0,314.7 477.6,315.0 478.2,315.2 478.8,315.5 479.5,315.7 480.1,316.0 480.7,316.2 481.3,316.4 481.9,316.5 482.6,316.7 483.2,316.8 483.8,316.9 484.4,317.0 485.0,317.1 485.6,317.2 486.3,317.2 486.9,317.3 487.5,317.3 488.1,317.3 488.7,317.2 489.4,317.2 490.0,317.1 490.6,317.0 491.2,316.9 491.8,316.8 492.4,316.7 493.1,316.5 493.7,316.4 494.3,316.2 494.9,316.0 495.5,315.7 496.2,315.5 496.8,315.2 497.4,315.0 498.0,314.7 498.6,314.4 499.2,314.1 499.9,313.7 500.5,313.4 501.1,313.0 501.7,312.6 502.3,312.2 502.9,311.8 503.6,311.4 504.2,311.0 504.8,310.5 505.4,310.1 506.0,309.6 506.7,309.1 507.3,308.6 507.9,308.1 508.5,307.6 509.1,307.1 509.7,306.5 510.4,306.0 511.0,305.4 511.6,304.8 512.2,304.3 512.8,303.7 513.5,303.1 514.1,302.5 514.7,301.8 515.3,301.2 515.9,300.6 516.5,299.9 517.2,299.3 517.8,298.6 518.4,298.0 519.0,297.3 519.6,296.6 520.3,295.9 520.9,295.2 521.5,294.5 522.1,293.8 522.7,293.1 523.3,292.4 524.0,291.7 524.6,290.9 525.2,290.2 525.8,289.5 526.4,288.7 527.1,288.0 527.7,287.2 528.3,286.5 528.9,285.7 529.5,284.9 530.1,284.1 530.8,283.4 531.4,282.6 532.0,281.8 532.6,281.0 533.2,280.2 533.9,279.4 534.5,278.6 535.1,277.8 535.7,277.0 536.3,276.2 536.9,275.4 537.6,274.6 538.2,273.8 538.8,272.9 539.4,272.1 540.0,271.3 540.6,270.4 541.3,269.6 541.9,268.8" fill="none" stroke="#e03535" stroke-width="1.0" stroke-linejoin="round" stroke-linecap="round" />
<polyline points="425.1,268.9 425.7,269.8 426.3,270.7 426.9,271.6 427.6,272.4 428.2,273.3 428.8,274.2 429.4,275.1 430.0,276.0 430.6,276.9 431.3,277.8 431.9,278.6 432.5,279.5 433.1,280.4 433.7,281.2 434.4,282.1 435.0,283.0 435.6,283.8 436.2,284.7 436.8,285.5 437.4,286.4 438.1,287.2 438.7,288.0 439.3,288.9 439.9,289.7 440.5,290.5 441.1,291.3 441.8,292.2 442.4,293.0 443.0,293.8 443.6,294.6 444.2,295.4 444.9,296.2 445.5,297.0 446.1,297.7 446.7,298.5 447.3,299.3 447.9,300.1 448.6,300.8 449.2,301.6 449.8,302.3 450.4,303.1 451.0,303.8 451.7,304.5 452.3,305.3 452.9,306.0 453.5,306.7 454.1,307.4 454.7,308.1 455.4,308.8 456.0,309.5 456.6,310.1 457.2,310.8 457.8,311.5 458.5,312.1 459.1,312.8 459.7,313.4 460.3,314.0 460.9,314.6 461.5,315.2 462.2,315.8 462.8,316.4 463.4,317.0 464.0,317.6 464.6,318.1 465.3,318.7 465.9,319.2 466.5,319.7 467.1,320.2 467.7,320.7 468.3,321.2 469.0,321.7 469.6,322.1 470.2,322.6 470.8,323.0 471.4,323.5 472.1,323.9 472.7,324.3 473.3,324.6 473.9,325.0 474.5,325.4 475.1,325.7 475.8,326.0 476.4,326.3 477.0,326.6 477.6,326.9 478.2,327.2 478.8,327.4 479.5,327.6 480.1,327.9 480.7,328.0 481.3,328.2 481.9,328.4 482.6,328.5 483.2,328.7 483.8,328.8 484.4,328.9 485.0,329.0 485.6,329.0 486.3,329.1 486.9,329.1 487.5,329.1 488.1,329.1 488.7,329.1 489.4,329.0 490.0,329.0 490.6,328.9 491.2,328.8 491.8,328.7 492.4,328.5 493.1,328.4 493.7,328.2 494.3,328.0 494.9,327.9 495.5,327.6 496.2,327.4 496.8,327.2 497.4,326.9 498.0,326.6 498.6,326.3 499.2,326.0 499.9,325.7 500.5,325.4 501.1,325.0 501.7,324.6 502.3,324.3 502.9,323.9 503.6,323.5 504.2,323.0 504.8,322.6 505.4,322.1 506.0,321.7 506.7,321.2 507.3,320.7 507.9,320.2 508.5,319.7 509.1,319.2 509.7,318.7 510.4,318.1 511.0,317.6 511.6,317.0 512.2,316.4 512.8,315.8 513.5,315.2 514.1,314.6 514.7,314.0 515.3,313.4 515.9,312.8 516.5,312.1 517.2,311.5 517.8,310.8 518.4,310.1 519.0,309.5 519.6,308.8 520.3,308.1 520.9,307.4 521.5,306.7 522.1,306.0 522.7,305.3 523.3,304.5 524.0,303.8 524.6,303.1 525.2,302.3 525.8,301.6 526.4,300.8 527.1,300.1 527.7,299.3 528.3,298.5 528.9,297.7 529.5,297.0 530.1,296.2 530.8,295.4 531.4,294.6 532.0,293.8 532.6,293.0 533.2,292.2 533.9,291.3 534.5,290.5 535.1,289.7 535.7,288.9 536.3,288.0 536.9,287.2 537.6,286.4 538.2,285.5 538.8,284.7 539.4,283.8 540.0,283.0 540.6,282.1 541.3,281.2 541.9,280.4 542.5,279.5 543.1,278.6 543.7,277.8 544.4,276.9 545.0,276.0 545.6,275.1 546.2,274.2 546.8,273.3 547.4,272.4 548.1,271.6 548.7,270.7 549.3,269.8 549.9,268.9" fill="none" stroke="#0b7a0b" stroke-width="1.0" stroke-linejoin="round" stroke-linecap="round" />
<polyline points="433.1,268.6 433.7,269.4 434.4,270.3 435.0,271.2 435.6,272.0 436.2,272.8 436.8,273.6 437.4,274.3 438.1,275.1 438.7,275.8 439.3,276.5 439.9,277.1 440.5,277.8 441.1,278.4 441.8,279.1 442.4,279.7 443.0,280.2 443.6,280.8 444.2,281.3 444.9,281.9 445.5,282.4 446.1,282.9 446.7,283.4 447.3,283.8 447.9,284.3 448.6,284.7 449.2,285.1 449.8,285.6 450.4,286.0 451.0,286.3 451.7,286.7 452.3,287.1 452.9,287.4 453.5,287.7 454.1,288.1 454.7,288.4 455.4,288.7 456.0,289.0 456.6,289.2 457.2,289.5 457.8,289.8 458.5,290.0 459.1,290.3 459.7,290.5 460.3,290.7 460.9,290.9 461.5,291.1 462.2,291.3 462.8,291.5 463.4,291.7 464.0,291.9 464.6,292.0 465.3,292.2 465.9,292.4 466.5,292.5 467.1,292.6 467.7,292.8 468.3,292.9 469.0,293.0 469.6,293.2 470.2,293.3 470.8,293.4 471.4,293.5 472.1,293.6 472.7,293.7 473.3,293.7 473.9,293.8 474.5,293.9 475.1,294.0 475.8,294.0 476.4,294.1 477.0,294.2 477.6,294.2 478.2,294.3 478.8,294.3 479.5,294.4 480.1,294.4 480.7,294.5 481.3,294.5 481.9,294.5 482.6,294.5 483.2,294.6 483.8,294.6 484.4,294.6 485.0,294.6 485.6,294.6 486.3,294.6 486.9,294.6 487.5,294.6 488.1,294.6 488.7,294.6 489.4,294.6 490.0,294.6 490.6,294.6 491.2,294.6 491.8,294.6 492.4,294.5 493.1,294.5 493.7,294.5 494.3,294.5 494.9,294.4 495.5,294.4 496.2,294.3 496.8,294.3 497.4,294.2 498.0,294.2 498.6,294.1 499.2,294.0 499.9,294.0 500.5,293.9 501.1,293.8 501.7,293.7 502.3,293.7 502.9,293.6 503.6,293.5 504.2,293.4 504.8,293.3 505.4,293.2 506.0,293.0 506.7,292.9 507.3,292.8 507.9,292.6 508.5,292.5 509.1,292.4 509.7,292.2 510.4,292.0 511.0,291.9 511.6,291.7 512.2,291.5 512.8,291.3 513.5,291.1 514.1,290.9 514.7,290.7 515.3,290.5 515.9,290.3 516.5,290.0 517.2,289.8 517.8,289.5 518.4,289.2 519.0,289.0 519.6,288.7 520.3,288.4 520.9,288.1 521.5,287.7 522.1,287.4 522.7,287.1 523.3,286.7 524.0,286.3 524.6,286.0 525.2,285.6 525.8,285.1 526.4,284.7 527.1,284.3 527.7,283.8 528.3,283.4 528.9,282.9 529.5,282.4 530.1,281.9 530.8,281.3 531.4,280.8 532.0,280.2 532.6,279.7 533.2,279.1 533.9,278.4 534.5,277.8 535.1,277.1 535.7,276.5 536.3,275.8 536.9,275.1 537.6,274.3 538.2,273.6 538.8,272.8 539.4,272.0 540.0,271.2 540.6,270.3 541.3,269.4 541.9,268.6" fill="none" stroke="#0a0ee6" stroke-width="2.9" stroke-linejoin="round" stroke-linecap="round" />
<polyline points="410.9,268.4 411.5,269.4 412.1,270.4 412.7,271.4 413.3,272.4 414.0,273.4 414.6,274.4 415.2,275.4 415.8,276.4 416.4,277.4 417.0,278.3 417.7,279.3 418.3,280.2 418.9,281.2 419.5,282.1 420.1,283.0 420.8,283.9 421.4,284.8 422.0,285.7 422.6,286.6 423.2,287.5 423.8,288.3 424.5,289.2 425.1,290.0 425.7,290.9 426.3,291.7 426.9,292.5 427.6,293.3 428.2,294.1 428.8,294.9 429.4,295.7 430.0,296.5 430.6,297.3 431.3,298.1 431.9,298.8 432.5,299.6 433.1,300.3 433.7,301.0 434.4,301.8 435.0,302.5 435.6,303.2 436.2,303.9 436.8,304.6 437.4,305.2 438.1,305.9 438.7,306.6 439.3,307.2 439.9,307.9 440.5,308.5 441.1,309.2 441.8,309.8 442.4,310.4 443.0,311.0 443.6,311.6 444.2,312.2 444.9,312.8 445.5,313.3 446.1,313.9 446.7,314.5 447.3,315.0 447.9,315.5 448.6,316.1 449.2,316.6 449.8,317.1 450.4,317.6 451.0,318.1 451.7,318.6 452.3,319.1 452.9,319.5 453.5,320.0 454.1,320.5 454.7,320.9 455.4,321.3 456.0,321.8 456.6,322.2 457.2,322.6 457.8,323.0 458.5,323.4 459.1,323.8 459.7,324.2 460.3,324.5 460.9,324.9 461.5,325.3 462.2,325.6 462.8,325.9 463.4,326.3 464.0,326.6 464.6,326.9 465.3,327.2 465.9,327.5 466.5,327.8 467.1,328.1 467.7,328.4 468.3,328.6 469.0,328.9 469.6,329.1 470.2,329.4 470.8,329.6 471.4,329.8 472.1,330.0 472.7,330.2 473.3,330.4 473.9,330.6 474.5,330.8 475.1,331.0 475.8,331.1 476.4,331.3 477.0,331.4 477.6,331.6 478.2,331.7 478.8,331.8 479.5,331.9 480.1,332.0 480.7,332.1 481.3,332.2 481.9,332.3 482.6,332.4 483.2,332.4 483.8,332.5 484.4,332.5 485.0,332.6 485.6,332.6 486.3,332.6 486.9,332.6 487.5,332.6 488.1,332.6 488.7,332.6 489.4,332.6 490.0,332.6 490.6,332.5 491.2,332.5 491.8,332.4 492.4,332.4 493.1,332.3 493.7,332.2 494.3,332.1 494.9,332.0 495.5,331.9 496.2,331.8 496.8,331.7 497.4,331.6 498.0,331.4 498.6,331.3 499.2,331.1 499.9,331.0 500.5,330.8 501.1,330.6 501.7,330.4 502.3,330.2 502.9,330.0 503.6,329.8 504.2,329.6 504.8,329.4 505.4,329.1 506.0,328.9 506.7,328.6 507.3,328.4 507.9,328.1 508.5,327.8 509.1,327.5 509.7,327.2 510.4,326.9 511.0,326.6 511.6,326.3 512.2,325.9 512.8,325.6 513.5,325.3 514.1,324.9 514.7,324.5 515.3,324.2 515.9,323.8 516.5,323.4 517.2,323.0 517.8,322.6 518.4,322.2 519.0,321.8 519.6,321.3 520.3,320.9 520.9,320.5 521.5,320.0 522.1,319.5 522.7,319.1 523.3,318.6 524.0,318.1 524.6,317.6 525.2,317.1 525.8,316.6 526.4,316.1 527.1,315.5 527.7,315.0 528.3,314.5 528.9,313.9 529.5,313.3 530.1,312.8 530.8,312.2 531.4,311.6 532.0,311.0 532.6,310.4 533.2,309.8 533.9,309.2 534.5,308.5 535.1,307.9 535.7,307.2 536.3,306.6 536.9,305.9 537.6,305.2 538.2,304.6 538.8,303.9 539.4,303.2 540.0,302.5 540.6,301.8 541.3,301.0 541.9,300.3 542.5,299.6 543.1,298.8 543.7,298.1 544.4,297.3 545.0,296.5 545.6,295.7 546.2,294.9 546.8,294.1 547.4,293.3 548.1,292.5 548.7,291.7 549.3,290.9 549.9,290.0 550.5,289.2 551.2,288.3 551.8,287.5 552.4,286.6 553.0,285.7 553.6,284.8 554.2,283.9 554.9,283.0 555.5,282.1 556.1,281.2 556.7,280.2 557.3,279.3 558.0,278.3 558.6,277.4 559.2,276.4 559.8,275.4 560.4,274.4 561.0,273.4 561.7,272.4 562.3,271.4 562.9,270.4 563.5,269.4 564.1,268.4" fill="none" stroke="#e8141a" stroke-width="2.1" stroke-linejoin="round" stroke-linecap="round" />
<polyline points="404.7,268.2 405.3,269.2 405.9,270.3 406.5,271.3 407.2,272.3 407.8,273.3 408.4,274.3 409.0,275.3 409.6,276.3 410.2,277.2 410.9,278.2 411.5,279.2 412.1,280.2 412.7,281.2 413.3,282.1 414.0,283.1 414.6,284.0 415.2,285.0 415.8,285.9 416.4,286.9 417.0,287.8 417.7,288.7 418.3,289.7 418.9,290.6 419.5,291.5 420.1,292.4 420.8,293.3 421.4,294.2 422.0,295.1 422.6,296.0 423.2,296.9 423.8,297.8 424.5,298.7 425.1,299.6 425.7,300.4 426.3,301.3 426.9,302.1 427.6,303.0 428.2,303.8 428.8,304.7 429.4,305.5 430.0,306.3 430.6,307.2 431.3,308.0 431.9,308.8 432.5,309.6 433.1,310.4 433.7,311.2 434.4,312.0 435.0,312.8 435.6,313.5 436.2,314.3 436.8,315.0 437.4,315.8 438.1,316.5 438.7,317.3 439.3,318.0 439.9,318.7 440.5,319.5 441.1,320.2 441.8,320.9 442.4,321.6 443.0,322.3 443.6,323.0 444.2,323.6 444.9,324.3 445.5,325.0 446.1,325.6 446.7,326.3 447.3,326.9 447.9,327.5 448.6,328.1 449.2,328.8 449.8,329.4 450.4,330.0 451.0,330.5 451.7,331.1 452.3,331.7 452.9,332.3 453.5,332.8 454.1,333.4 454.7,333.9 455.4,334.4 456.0,335.0 456.6,335.5 457.2,336.0 457.8,336.5 458.5,337.0 459.1,337.4 459.7,337.9 460.3,338.4 460.9,338.8 461.5,339.2 462.2,339.7 462.8,340.1 463.4,340.5 464.0,340.9 464.6,341.3 465.3,341.7 465.9,342.1 466.5,342.4 467.1,342.8 467.7,343.1 468.3,343.4 469.0,343.8 469.6,344.1 470.2,344.4 470.8,344.7 471.4,345.0 472.1,345.2 472.7,345.5 473.3,345.7 473.9,346.0 474.5,346.2 475.1,346.4 475.8,346.6 476.4,346.8 477.0,347.0 477.6,347.2 478.2,347.4 478.8,347.5 479.5,347.7 480.1,347.8 480.7,347.9 481.3,348.1 481.9,348.2 482.6,348.2 483.2,348.3 483.8,348.4 484.4,348.5 485.0,348.5 485.6,348.5 486.3,348.6 486.9,348.6 487.5,348.6 488.1,348.6 488.7,348.6 489.4,348.5 490.0,348.5 490.6,348.5 491.2,348.4 491.8,348.3 492.4,348.2 493.1,348.2 493.7,348.1 494.3,347.9 494.9,347.8 495.5,347.7 496.2,347.5 496.8,347.4 497.4,347.2 498.0,347.0 498.6,346.8 499.2,346.6 499.9,346.4 500.5,346.2 501.1,346.0 501.7,345.7 502.3,345.5 502.9,345.2 503.6,345.0 504.2,344.7 504.8,344.4 505.4,344.1 506.0,343.8 506.7,343.4 507.3,343.1 507.9,342.8 508.5,342.4 509.1,342.1 509.7,341.7 510.4,341.3 511.0,340.9 511.6,340.5 512.2,340.1 512.8,339.7 513.5,339.2 514.1,338.8 514.7,338.4 515.3,337.9 515.9,337.4 516.5,337.0 517.2,336.5 517.8,336.0 518.4,335.5 519.0,335.0 519.6,334.4 520.3,333.9 520.9,333.4 521.5,332.8 522.1,332.3 522.7,331.7 523.3,331.1 524.0,330.5 524.6,330.0 525.2,329.4 525.8,328.8 526.4,328.1 527.1,327.5 527.7,326.9 528.3,326.3 528.9,325.6 529.5,325.0 530.1,324.3 530.8,323.6 531.4,323.0 532.0,322.3 532.6,321.6 533.2,320.9 533.9,320.2 534.5,319.5 535.1,318.7 535.7,318.0 536.3,317.3 536.9,316.5 537.6,315.8 538.2,315.0 538.8,314.3 539.4,313.5 540.0,312.8 540.6,312.0 541.3,311.2 541.9,310.4 542.5,309.6 543.1,308.8 543.7,308.0 544.4,307.2 545.0,306.3 545.6,305.5 546.2,304.7 546.8,303.8 547.4,303.0 548.1,302.1 548.7,301.3 549.3,300.4 549.9,299.6 550.5,298.7 551.2,297.8 551.8,296.9 552.4,296.0 553.0,295.1 553.6,294.2 554.2,293.3 554.9,292.4 555.5,291.5 556.1,290.6 556.7,289.7 557.3,288.7 558.0,287.8 558.6,286.9 559.2,285.9 559.8,285.0 560.4,284.0 561.0,283.1 561.7,282.1 562.3,281.2 562.9,280.2 563.5,279.2 564.1,278.2 564.8,277.2 565.4,276.3 566.0,275.3 566.6,274.3 567.2,273.3 567.8,272.3 568.5,271.3 569.1,270.3 569.7,269.2 570.3,268.2" fill="none" stroke="#0b7a0b" stroke-width="2.1" stroke-linejoin="round" stroke-linecap="round" />
<polyline points="419.5,489.7 420.1,489.0 420.8,488.3 421.4,487.6 422.0,487.0 422.6,486.3 423.2,485.7 423.8,485.1 424.5,484.5 425.1,483.9 425.7,483.3 426.3,482.7 426.9,482.2 427.6,481.7 428.2,481.1 428.8,480.6 429.4,480.1 430.0,479.7 430.6,479.2 431.3,478.7 431.9,478.3 432.5,477.8 433.1,477.4 433.7,477.0 434.4,476.6 435.0,476.2 435.6,475.8 436.2,475.4 436.8,475.1 437.4,474.7 438.1,474.4 438.7,474.1 439.3,473.7 439.9,473.4 440.5,473.1 441.1,472.8 441.8,472.5 442.4,472.2 443.0,472.0 443.6,471.7 444.2,471.5 444.9,471.2 445.5,471.0 446.1,470.7 446.7,470.5 447.3,470.3 447.9,470.1 448.6,469.9 449.2,469.7 449.8,469.5 450.4,469.3 451.0,469.1 451.7,468.9 452.3,468.7 452.9,468.6 453.5,468.4 454.1,468.3 454.7,468.1 455.4,468.0 456.0,467.8 456.6,467.7 457.2,467.6 457.8,467.4 458.5,467.3 459.1,467.2 459.7,467.1 460.3,467.0 460.9,466.9 461.5,466.8 462.2,466.7 462.8,466.6 463.4,466.5 464.0,466.4 464.6,466.3 465.3,466.2 465.9,466.2 466.5,466.1 467.1,466.0 467.7,466.0 468.3,465.9 469.0,465.8 469.6,465.8 470.2,465.7 470.8,465.7 471.4,465.6 472.1,465.6 472.7,465.5 473.3,465.5 473.9,465.4 474.5,465.4 475.1,465.3 475.8,465.3 476.4,465.3 477.0,465.3 477.6,465.2 478.2,465.2 478.8,465.2 479.5,465.1 480.1,465.1 480.7,465.1 481.3,465.1 481.9,465.1 482.6,465.1 483.2,465.0 483.8,465.0 484.4,465.0 485.0,465.0 485.6,465.0 486.3,465.0 486.9,465.0 487.5,465.0 488.1,465.0 488.7,465.0 489.4,465.0 490.0,465.0 490.6,465.0 491.2,465.0 491.8,465.0 492.4,465.1 493.1,465.1 493.7,465.1 494.3,465.1 494.9,465.1 495.5,465.1 496.2,465.2 496.8,465.2 497.4,465.2 498.0,465.3 498.6,465.3 499.2,465.3 499.9,465.3 500.5,465.4 501.1,465.4 501.7,465.5 502.3,465.5 502.9,465.6 503.6,465.6 504.2,465.7 504.8,465.7 505.4,465.8 506.0,465.8 506.7,465.9 507.3,466.0 507.9,466.0 508.5,466.1 509.1,466.2 509.7,466.2 510.4,466.3 511.0,466.4 511.6,466.5 512.2,466.6 512.8,466.7 513.5,466.8 514.1,466.9 514.7,467.0 515.3,467.1 515.9,467.2 516.5,467.3 517.2,467.4 517.8,467.6 518.4,467.7 519.0,467.8 519.6,468.0 520.3,468.1 520.9,468.3 521.5,468.4 522.1,468.6 522.7,468.7 523.3,468.9 524.0,469.1 524.6,469.3 525.2,469.5 525.8,469.7 526.4,469.9 527.1,470.1 527.7,470.3 528.3,470.5 528.9,470.7 529.5,471.0 530.1,471.2 530.8,471.5 531.4,471.7 532.0,472.0 532.6,472.2 533.2,472.5 533.9,472.8 534.5,473.1 535.1,473.4 535.7,473.7 536.3,474.1 536.9,474.4 537.6,474.7 538.2,475.1 538.8,475.4 539.4,475.8 540.0,476.2 540.6,476.6 541.3,477.0 541.9,477.4 542.5,477.8 543.1,478.3 543.7,478.7 544.4,479.2 545.0,479.7 545.6,480.1 546.2,480.6 546.8,481.1 547.4,481.7 548.1,482.2 548.7,482.7 549.3,483.3 549.9,483.9 550.5,484.5 551.2,485.1 551.8,485.7 552.4,486.3 553.0,487.0 553.6,487.6 554.2,488.3 554.9,489.0 555.5,489.7" fill="none" stroke="#e03535" stroke-width="1.0" stroke-linejoin="round" stroke-linecap="round" />
<polyline points="440.5,489.4 441.1,488.7 441.8,488.0 442.4,487.3 443.0,486.6 443.6,486.0 444.2,485.3 444.9,484.6 445.5,483.9 446.1,483.3 446.7,482.6 447.3,481.9 447.9,481.2 448.6,480.6 449.2,479.9 449.8,479.2 450.4,478.5 451.0,477.9 451.7,477.2 452.3,476.5 452.9,475.9 453.5,475.2 454.1,474.5 454.7,473.9 455.4,473.2 456.0,472.6 456.6,471.9 457.2,471.2 457.8,470.6 458.5,469.9 459.1,469.3 459.7,468.6 460.3,468.0 460.9,467.3 461.5,466.7 462.2,466.1 462.8,465.4 463.4,464.8 464.0,464.2 464.6,463.5 465.3,462.9 465.9,462.3 466.5,461.7 467.1,461.0 467.7,460.4 468.3,459.8 469.0,459.2 469.6,458.6 470.2,458.1 470.8,457.5 471.4,456.9 472.1,456.3 472.7,455.8 473.3,455.2 473.9,454.7 474.5,454.2 475.1,453.7 475.8,453.1 476.4,452.7 477.0,452.2 477.6,451.7 478.2,451.3 478.8,450.8 479.5,450.4 480.1,450.0 480.7,449.7 481.3,449.3 481.9,449.0 482.6,448.7 483.2,448.5 483.8,448.2 484.4,448.0 485.0,447.9 485.6,447.7 486.3,447.6 486.9,447.6 487.5,447.6 488.1,447.6 488.7,447.6 489.4,447.7 490.0,447.9 490.6,448.0 491.2,448.2 491.8,448.5 492.4,448.7 493.1,449.0 493.7,449.3 494.3,449.7 494.9,450.0 495.5,450.4 496.2,450.8 496.8,451.3 497.4,451.7 498.0,452.2 498.6,452.7 499.2,453.1 499.9,453.7 500.5,454.2 501.1,454.7 501.7,455.2 502.3,455.8 502.9,456.3 503.6,456.9 504.2,457.5 504.8,458.1 505.4,458.6 506.0,459.2 506.7,459.8 507.3,460.4 507.9,461.0 508.5,461.7 509.1,462.3 509.7,462.9 510.4,463.5 511.0,464.2 511.6,464.8 512.2,465.4 512.8,466.1 513.5,466.7 514.1,467.3 514.7,468.0 515.3,468.6 515.9,469.3 516.5,469.9 517.2,470.6 517.8,471.2 518.4,471.9 519.0,472.6 519.6,473.2 520.3,473.9 520.9,474.5 521.5,475.2 522.1,475.9 522.7,476.5 523.3,477.2 524.0,477.9 524.6,478.5 525.2,479.2 525.8,479.9 526.4,480.6 527.1,481.2 527.7,481.9 528.3,482.6 528.9,483.3 529.5,483.9 530.1,484.6 530.8,485.3 531.4,486.0 532.0,486.6 532.6,487.3 533.2,488.0 533.9,488.7 534.5,489.4" fill="none" stroke="#e03535" stroke-width="1.0" stroke-linejoin="round" stroke-linecap="round" />
<polyline points="394.8,489.6 395.4,489.1 396.0,488.5 396.7,487.9 397.3,487.3 397.9,486.8 398.5,486.2 399.1,485.7 399.7,485.1 400.4,484.5 401.0,484.0 401.6,483.4 402.2,482.9 402.8,482.3 403.5,481.7 404.1,481.2 404.7,480.6 405.3,480.1 405.9,479.5 406.5,479.0 407.2,478.4 407.8,477.9 408.4,477.3 409.0,476.8 409.6,476.3 410.2,475.7 410.9,475.2 411.5,474.7 412.1,474.1 412.7,473.6 413.3,473.1 414.0,472.5 414.6,472.0 415.2,471.5 415.8,471.0 416.4,470.4 417.0,469.9 417.7,469.4 418.3,468.9 418.9,468.4 419.5,467.8 420.1,467.3 420.8,466.8 421.4,466.3 422.0,465.8 422.6,465.3 423.2,464.8 423.8,464.3 424.5,463.8 425.1,463.3 425.7,462.8 426.3,462.4 426.9,461.9 427.6,461.4 428.2,460.9 428.8,460.4 429.4,459.9 430.0,459.5 430.6,459.0 431.3,458.5 431.9,458.1 432.5,457.6 433.1,457.1 433.7,456.7 434.4,456.2 435.0,455.8 435.6,455.3 436.2,454.9 436.8,454.4 437.4,454.0 438.1,453.6 438.7,453.1 439.3,452.7 439.9,452.3 440.5,451.9 441.1,451.4 441.8,451.0 442.4,450.6 443.0,450.2 443.6,449.8 444.2,449.4 444.9,449.0 445.5,448.6 446.1,448.2 446.7,447.8 447.3,447.4 447.9,447.1 448.6,446.7 449.2,446.3 449.8,445.9 450.4,445.6 451.0,445.2 451.7,444.9 452.3,444.5 452.9,444.2 453.5,443.8 454.1,443.5 454.7,443.2 455.4,442.8 456.0,442.5 456.6,442.2 457.2,441.9 457.8,441.6 458.5,441.3 459.1,441.0 459.7,440.7 460.3,440.4 460.9,440.1 461.5,439.9 462.2,439.6 462.8,439.3 463.4,439.1 464.0,438.8 464.6,438.6 465.3,438.3 465.9,438.1 466.5,437.9 467.1,437.6 467.7,437.4 468.3,437.2 469.0,437.0 469.6,436.8 470.2,436.6 470.8,436.4 471.4,436.2 472.1,436.1 472.7,435.9 473.3,435.7 473.9,435.6 474.5,435.4 475.1,435.3 475.8,435.1 476.4,435.0 477.0,434.9 477.6,434.8 478.2,434.7 478.8,434.6 479.5,434.5 480.1,434.4 480.7,434.3 481.3,434.2 481.9,434.2 482.6,434.1 483.2,434.1 483.8,434.0 484.4,434.0 485.0,433.9 485.6,433.9 486.3,433.9 486.9,433.9 487.5,433.9 488.1,433.9 488.7,433.9 489.4,433.9 490.0,433.9 490.6,434.0 491.2,434.0 491.8,434.1 492.4,434.1 493.1,434.2 493.7,434.2 494.3,434.3 494.9,434.4 495.5,434.5 496.2,434.6 496.8,434.7 497.4,434.8 498.0,434.9 498.6,435.0 499.2,435.1 499.9,435.3 500.5,435.4 501.1,435.6 501.7,435.7 502.3,435.9 502.9,436.1 503.6,436.2 504.2,436.4 504.8,436.6 505.4,436.8 506.0,437.0 506.7,437.2 507.3,437.4 507.9,437.6 508.5,437.9 509.1,438.1 509.7,438.3 510.4,438.6 511.0,438.8 511.6,439.1 512.2,439.3 512.8,439.6 513.5,439.9 514.1,440.1 514.7,440.4 515.3,440.7 515.9,441.0 516.5,441.3 517.2,441.6 517.8,441.9 518.4,442.2 519.0,442.5 519.6,442.8 520.3,443.2 520.9,443.5 521.5,443.8 522.1,444.2 522.7,444.5 523.3,444.9 524.0,445.2 524.6,445.6 525.2,445.9 525.8,446.3 526.4,446.7 527.1,447.1 527.7,447.4 528.3,447.8 528.9,448.2 529.5,448.6 530.1,449.0 530.8,449.4 531.4,449.8 532.0,450.2 532.6,450.6 533.2,451.0 533.9,451.4 534.5,451.9 535.1,452.3 535.7,452.7 536.3,453.1 536.9,453.6 537.6,454.0 538.2,454.4 538.8,454.9 539.4,455.3 540.0,455.8 540.6,456.2 541.3,456.7 541.9,457.1 542.5,457.6 543.1,458.1 543.7,458.5 544.4,459.0 545.0,459.5 545.6,459.9 546.2,460.4 546.8,460.9 547.4,461.4 548.1,461.9 548.7,462.4 549.3,462.8 549.9,463.3 550.5,463.8 551.2,464.3 551.8,464.8 552.4,465.3 553.0,465.8 553.6,466.3 554.2,466.8 554.9,467.3 555.5,467.8 556.1,468.4 556.7,468.9 557.3,469.4 558.0,469.9 558.6,470.4 559.2,471.0 559.8,471.5 560.4,472.0 561.0,472.5 561.7,473.1 562.3,473.6 562.9,474.1 563.5,474.7 564.1,475.2 564.8,475.7 565.4,476.3 566.0,476.8 566.6,477.3 567.2,477.9 567.8,478.4 568.5,479.0 569.1,479.5 569.7,480.1 570.3,480.6 570.9,481.2 571.5,481.7 572.2,482.3 572.8,482.9 573.4,483.4 574.0,484.0 574.6,484.5 575.3,485.1 575.9,485.7 576.5,486.2 577.1,486.8 577.7,487.3 578.3,487.9 579.0,488.5 579.6,489.1 580.2,489.6" fill="none" stroke="#0b7a0b" stroke-width="1.0" stroke-linejoin="round" stroke-linecap="round" />
<polyline points="435.0,489.5 435.6,488.3 436.2,487.1 436.8,486.0 437.4,484.9 438.1,483.7 438.7,482.6 439.3,481.5 439.9,480.4 440.5,479.3 441.1,478.3 441.8,477.2 442.4,476.1 443.0,475.1 443.6,474.0 444.2,473.0 444.9,472.0 445.5,471.0 446.1,470.0 446.7,469.0 447.3,468.0 447.9,467.0 448.6,466.1 449.2,465.1 449.8,464.2 450.4,463.3 451.0,462.4 451.7,461.5 452.3,460.6 452.9,459.7 453.5,458.9 454.1,458.0 454.7,457.2 455.4,456.3 456.0,455.5 456.6,454.7 457.2,453.9 457.8,453.2 458.5,452.4 459.1,451.7 459.7,450.9 460.3,450.2 460.9,449.5 461.5,448.8 462.2,448.1 462.8,447.5 463.4,446.8 464.0,446.2 464.6,445.6 465.3,444.9 465.9,444.4 466.5,443.8 467.1,443.2 467.7,442.7 468.3,442.1 469.0,441.6 469.6,441.1 470.2,440.6 470.8,440.2 471.4,439.7 472.1,439.3 472.7,438.9 473.3,438.5 473.9,438.1 474.5,437.7 475.1,437.4 475.8,437.0 476.4,436.7 477.0,436.4 477.6,436.1 478.2,435.8 478.8,435.6 479.5,435.4 480.1,435.1 480.7,434.9 481.3,434.8 481.9,434.6 482.6,434.4 483.2,434.3 483.8,434.2 484.4,434.1 485.0,434.0 485.6,434.0 486.3,433.9 486.9,433.9 487.5,433.9 488.1,433.9 488.7,433.9 489.4,434.0 490.0,434.0 490.6,434.1 491.2,434.2 491.8,434.3 492.4,434.4 493.1,434.6 493.7,434.8 494.3,434.9 494.9,435.1 495.5,435.4 496.2,435.6 496.8,435.8 497.4,436.1 498.0,436.4 498.6,436.7 499.2,437.0 499.9,437.4 500.5,437.7 501.1,438.1 501.7,438.5 502.3,438.9 502.9,439.3 503.6,439.7 504.2,440.2 504.8,440.6 505.4,441.1 506.0,441.6 506.7,442.1 507.3,442.7 507.9,443.2 508.5,443.8 509.1,444.4 509.7,444.9 510.4,445.6 511.0,446.2 511.6,446.8 512.2,447.5 512.8,448.1 513.5,448.8 514.1,449.5 514.7,450.2 515.3,450.9 515.9,451.7 516.5,452.4 517.2,453.2 517.8,453.9 518.4,454.7 519.0,455.5 519.6,456.3 520.3,457.2 520.9,458.0 521.5,458.9 522.1,459.7 522.7,460.6 523.3,461.5 524.0,462.4 524.6,463.3 525.2,464.2 525.8,465.1 526.4,466.1 527.1,467.0 527.7,468.0 528.3,469.0 528.9,470.0 529.5,471.0 530.1,472.0 530.8,473.0 531.4,474.0 532.0,475.1 532.6,476.1 533.2,477.2 533.9,478.3 534.5,479.3 535.1,480.4 535.7,481.5 536.3,482.6 536.9,483.7 537.6,484.9 538.2,486.0 538.8,487.1 539.4,488.3 540.0,489.5" fill="none" stroke="#0b7a0b" stroke-width="1.0" stroke-linejoin="round" stroke-linecap="round" />
<polyline points="417.0,489.3 417.7,488.3 418.3,487.4 418.9,486.5 419.5,485.6 420.1,484.7 420.8,483.9 421.4,483.0 422.0,482.2 422.6,481.4 423.2,480.6 423.8,479.8 424.5,479.1 425.1,478.3 425.7,477.6 426.3,476.9 426.9,476.2 427.6,475.5 428.2,474.9 428.8,474.2 429.4,473.6 430.0,473.0 430.6,472.4 431.3,471.8 431.9,471.2 432.5,470.6 433.1,470.1 433.7,469.6 434.4,469.0 435.0,468.5 435.6,468.0 436.2,467.5 436.8,467.0 437.4,466.6 438.1,466.1 438.7,465.7 439.3,465.2 439.9,464.8 440.5,464.4 441.1,464.0 441.8,463.6 442.4,463.2 443.0,462.8 443.6,462.5 444.2,462.1 444.9,461.8 445.5,461.4 446.1,461.1 446.7,460.8 447.3,460.5 447.9,460.2 448.6,459.9 449.2,459.6 449.8,459.3 450.4,459.0 451.0,458.8 451.7,458.5 452.3,458.3 452.9,458.0 453.5,457.8 454.1,457.6 454.7,457.3 455.4,457.1 456.0,456.9 456.6,456.7 457.2,456.5 457.8,456.3 458.5,456.1 459.1,456.0 459.7,455.8 460.3,455.6 460.9,455.4 461.5,455.3 462.2,455.1 462.8,455.0 463.4,454.8 464.0,454.7 464.6,454.6 465.3,454.4 465.9,454.3 466.5,454.2 467.1,454.1 467.7,454.0 468.3,453.9 469.0,453.8 469.6,453.7 470.2,453.6 470.8,453.5 471.4,453.4 472.1,453.3 472.7,453.2 473.3,453.2 473.9,453.1 474.5,453.0 475.1,453.0 475.8,452.9 476.4,452.8 477.0,452.8 477.6,452.7 478.2,452.7 478.8,452.6 479.5,452.6 480.1,452.6 480.7,452.5 481.3,452.5 481.9,452.5 482.6,452.4 483.2,452.4 483.8,452.4 484.4,452.4 485.0,452.4 485.6,452.4 486.3,452.4 486.9,452.3 487.5,452.3 488.1,452.3 488.7,452.4 489.4,452.4 490.0,452.4 490.6,452.4 491.2,452.4 491.8,452.4 492.4,452.4 493.1,452.5 493.7,452.5 494.3,452.5 494.9,452.6 495.5,452.6 496.2,452.6 496.8,452.7 497.4,452.7 498.0,452.8 498.6,452.8 499.2,452.9 499.9,453.0 500.5,453.0 501.1,453.1 501.7,453.2 502.3,453.2 502.9,453.3 503.6,453.4 504.2,453.5 504.8,453.6 505.4,453.7 506.0,453.8 506.7,453.9 507.3,454.0 507.9,454.1 508.5,454.2 509.1,454.3 509.7,454.4 510.4,454.6 511.0,454.7 511.6,454.8 512.2,455.0 512.8,455.1 513.5,455.3 514.1,455.4 514.7,455.6 515.3,455.8 515.9,456.0 516.5,456.1 517.2,456.3 517.8,456.5 518.4,456.7 519.0,456.9 519.6,457.1 520.3,457.3 520.9,457.6 521.5,457.8 522.1,458.0 522.7,458.3 523.3,458.5 524.0,458.8 524.6,459.0 525.2,459.3 525.8,459.6 526.4,459.9 527.1,460.2 527.7,460.5 528.3,460.8 528.9,461.1 529.5,461.4 530.1,461.8 530.8,462.1 531.4,462.5 532.0,462.8 532.6,463.2 533.2,463.6 533.9,464.0 534.5,464.4 535.1,464.8 535.7,465.2 536.3,465.7 536.9,466.1 537.6,466.6 538.2,467.0 538.8,467.5 539.4,468.0 540.0,468.5 540.6,469.0 541.3,469.6 541.9,470.1 542.5,470.6 543.1,471.2 543.7,471.8 544.4,472.4 545.0,473.0 545.6,473.6 546.2,474.2 546.8,474.9 547.4,475.5 548.1,476.2 548.7,476.9 549.3,477.6 549.9,478.3 550.5,479.1 551.2,479.8 551.8,480.6 552.4,481.4 553.0,482.2 553.6,483.0 554.2,483.9 554.9,484.7 555.5,485.6 556.1,486.5 556.7,487.4 557.3,488.3 558.0,489.3" fill="none" stroke="#0a0ee6" stroke-width="2.9" stroke-linejoin="round" stroke-linecap="round" />
<polyline points="397.3,489.2 397.9,488.0 398.5,486.9 399.1,485.7 399.7,484.5 400.4,483.4 401.0,482.3 401.6,481.2 402.2,480.1 402.8,479.0 403.5,477.9 404.1,476.8 404.7,475.8 405.3,474.8 405.9,473.8 406.5,472.8 407.2,471.8 407.8,470.8 408.4,469.8 409.0,468.9 409.6,467.9 410.2,467.0 410.9,466.1 411.5,465.2 412.1,464.3 412.7,463.4 413.3,462.5 414.0,461.7 414.6,460.8 415.2,460.0 415.8,459.2 416.4,458.4 417.0,457.6 417.7,456.8 418.3,456.0 418.9,455.2 419.5,454.5 420.1,453.7 420.8,453.0 421.4,452.3 422.0,451.5 422.6,450.8 423.2,450.1 423.8,449.5 424.5,448.8 425.1,448.1 425.7,447.5 426.3,446.8 426.9,446.2 427.6,445.5 428.2,444.9 428.8,444.3 429.4,443.7 430.0,443.1 430.6,442.5 431.3,442.0 431.9,441.4 432.5,440.8 433.1,440.3 433.7,439.8 434.4,439.2 435.0,438.7 435.6,438.2 436.2,437.7 436.8,437.2 437.4,436.7 438.1,436.2 438.7,435.8 439.3,435.3 439.9,434.8 440.5,434.4 441.1,433.9 441.8,433.5 442.4,433.1 443.0,432.7 443.6,432.2 444.2,431.8 444.9,431.4 445.5,431.1 446.1,430.7 446.7,430.3 447.3,429.9 447.9,429.6 448.6,429.2 449.2,428.9 449.8,428.5 450.4,428.2 451.0,427.9 451.7,427.5 452.3,427.2 452.9,426.9 453.5,426.6 454.1,426.3 454.7,426.0 455.4,425.7 456.0,425.5 456.6,425.2 457.2,424.9 457.8,424.7 458.5,424.4 459.1,424.2 459.7,423.9 460.3,423.7 460.9,423.5 461.5,423.2 462.2,423.0 462.8,422.8 463.4,422.6 464.0,422.4 464.6,422.2 465.3,422.0 465.9,421.8 466.5,421.7 467.1,421.5 467.7,421.3 468.3,421.2 469.0,421.0 469.6,420.9 470.2,420.7 470.8,420.6 471.4,420.4 472.1,420.3 472.7,420.2 473.3,420.1 473.9,419.9 474.5,419.8 475.1,419.7 475.8,419.6 476.4,419.5 477.0,419.5 477.6,419.4 478.2,419.3 478.8,419.2 479.5,419.2 480.1,419.1 480.7,419.0 481.3,419.0 481.9,418.9 482.6,418.9 483.2,418.9 483.8,418.8 484.4,418.8 485.0,418.8 485.6,418.8 486.3,418.7 486.9,418.7 487.5,418.7 488.1,418.7 488.7,418.7 489.4,418.8 490.0,418.8 490.6,418.8 491.2,418.8 491.8,418.9 492.4,418.9 493.1,418.9 493.7,419.0 494.3,419.0 494.9,419.1 495.5,419.2 496.2,419.2 496.8,419.3 497.4,419.4 498.0,419.5 498.6,419.5 499.2,419.6 499.9,419.7 500.5,419.8 501.1,419.9 501.7,420.1 502.3,420.2 502.9,420.3 503.6,420.4 504.2,420.6 504.8,420.7 505.4,420.9 506.0,421.0 506.7,421.2 507.3,421.3 507.9,421.5 508.5,421.7 509.1,421.8 509.7,422.0 510.4,422.2 511.0,422.4 511.6,422.6 512.2,422.8 512.8,423.0 513.5,423.2 514.1,423.5 514.7,423.7 515.3,423.9 515.9,424.2 516.5,424.4 517.2,424.7 517.8,424.9 518.4,425.2 519.0,425.5 519.6,425.7 520.3,426.0 520.9,426.3 521.5,426.6 522.1,426.9 522.7,427.2 523.3,427.5 524.0,427.9 524.6,428.2 525.2,428.5 525.8,428.9 526.4,429.2 527.1,429.6 527.7,429.9 528.3,430.3 528.9,430.7 529.5,431.1 530.1,431.4 530.8,431.8 531.4,432.2 532.0,432.7 532.6,433.1 533.2,433.5 533.9,433.9 534.5,434.4 535.1,434.8 535.7,435.3 536.3,435.8 536.9,436.2 537.6,436.7 538.2,437.2 538.8,437.7 539.4,438.2 540.0,438.7 540.6,439.2 541.3,439.8 541.9,440.3 542.5,440.8 543.1,441.4 543.7,442.0 544.4,442.5 545.0,443.1 545.6,443.7 546.2,444.3 546.8,444.9 547.4,445.5 548.1,446.2 548.7,446.8 549.3,447.5 549.9,448.1 550.5,448.8 551.2,449.5 551.8,450.1 552.4,450.8 553.0,451.5 553.6,452.3 554.2,453.0 554.9,453.7 555.5,454.5 556.1,455.2 556.7,456.0 557.3,456.8 558.0,457.6 558.6,458.4 559.2,459.2 559.8,460.0 560.4,460.8 561.0,461.7 561.7,462.5 562.3,463.4 562.9,464.3 563.5,465.2 564.1,466.1 564.8,467.0 565.4,467.9 566.0,468.9 566.6,469.8 567.2,470.8 567.8,471.8 568.5,472.8 569.1,473.8 569.7,474.8 570.3,475.8 570.9,476.8 571.5,477.9 572.2,479.0 572.8,480.1 573.4,481.2 574.0,482.3 574.6,483.4 575.3,484.5 575.9,485.7 576.5,486.9 577.1,488.0 577.7,489.2" fill="none" stroke="#e8141a" stroke-width="2.1" stroke-linejoin="round" stroke-linecap="round" />
<polyline points="391.1,489.9 391.7,488.8 392.3,487.6 392.9,486.4 393.6,485.3 394.2,484.1 394.8,483.0 395.4,481.8 396.0,480.7 396.7,479.6 397.3,478.5 397.9,477.4 398.5,476.3 399.1,475.3 399.7,474.2 400.4,473.2 401.0,472.1 401.6,471.1 402.2,470.1 402.8,469.1 403.5,468.1 404.1,467.1 404.7,466.1 405.3,465.1 405.9,464.1 406.5,463.2 407.2,462.2 407.8,461.3 408.4,460.4 409.0,459.4 409.6,458.5 410.2,457.6 410.9,456.7 411.5,455.9 412.1,455.0 412.7,454.1 413.3,453.2 414.0,452.4 414.6,451.6 415.2,450.7 415.8,449.9 416.4,449.1 417.0,448.3 417.7,447.5 418.3,446.7 418.9,445.9 419.5,445.1 420.1,444.4 420.8,443.6 421.4,442.8 422.0,442.1 422.6,441.4 423.2,440.6 423.8,439.9 424.5,439.2 425.1,438.5 425.7,437.8 426.3,437.1 426.9,436.5 427.6,435.8 428.2,435.1 428.8,434.5 429.4,433.8 430.0,433.2 430.6,432.5 431.3,431.9 431.9,431.3 432.5,430.7 433.1,430.1 433.7,429.5 434.4,428.9 435.0,428.3 435.6,427.8 436.2,427.2 436.8,426.7 437.4,426.1 438.1,425.6 438.7,425.0 439.3,424.5 439.9,424.0 440.5,423.5 441.1,423.0 441.8,422.5 442.4,422.0 443.0,421.5 443.6,421.0 444.2,420.6 444.9,420.1 445.5,419.6 446.1,419.2 446.7,418.8 447.3,418.3 447.9,417.9 448.6,417.5 449.2,417.1 449.8,416.7 450.4,416.3 451.0,415.9 451.7,415.5 452.3,415.1 452.9,414.8 453.5,414.4 454.1,414.0 454.7,413.7 455.4,413.3 456.0,413.0 456.6,412.7 457.2,412.4 457.8,412.0 458.5,411.7 459.1,411.4 459.7,411.1 460.3,410.8 460.9,410.6 461.5,410.3 462.2,410.0 462.8,409.8 463.4,409.5 464.0,409.3 464.6,409.0 465.3,408.8 465.9,408.5 466.5,408.3 467.1,408.1 467.7,407.9 468.3,407.7 469.0,407.5 469.6,407.3 470.2,407.1 470.8,407.0 471.4,406.8 472.1,406.6 472.7,406.5 473.3,406.3 473.9,406.2 474.5,406.0 475.1,405.9 475.8,405.8 476.4,405.7 477.0,405.5 477.6,405.4 478.2,405.3 478.8,405.2 479.5,405.2 480.1,405.1 480.7,405.0 481.3,404.9 481.9,404.9 482.6,404.8 483.2,404.8 483.8,404.7 484.4,404.7 485.0,404.7 485.6,404.7 486.3,404.6 486.9,404.6 487.5,404.6 488.1,404.6 488.7,404.6 489.4,404.7 490.0,404.7 490.6,404.7 491.2,404.7 491.8,404.8 492.4,404.8 493.1,404.9 493.7,404.9 494.3,405.0 494.9,405.1 495.5,405.2 496.2,405.2 496.8,405.3 497.4,405.4 498.0,405.5 498.6,405.7 499.2,405.8 499.9,405.9 500.5,406.0 501.1,406.2 501.7,406.3 502.3,406.5 502.9,406.6 503.6,406.8 504.2,407.0 504.8,407.1 505.4,407.3 506.0,407.5 506.7,407.7 507.3,407.9 507.9,408.1 508.5,408.3 509.1,408.5 509.7,408.8 510.4,409.0 511.0,409.3 511.6,409.5 512.2,409.8 512.8,410.0 513.5,410.3 514.1,410.6 514.7,410.8 515.3,411.1 515.9,411.4 516.5,411.7 517.2,412.0 517.8,412.4 518.4,412.7 519.0,413.0 519.6,413.3 520.3,413.7 520.9,414.0 521.5,414.4 522.1,414.8 522.7,415.1 523.3,415.5 524.0,415.9 524.6,416.3 525.2,416.7 525.8,417.1 526.4,417.5 527.1,417.9 527.7,418.3 528.3,418.8 528.9,419.2 529.5,419.6 530.1,420.1 530.8,420.6 531.4,421.0 532.0,421.5 532.6,422.0 533.2,422.5 533.9,423.0 534.5,423.5 535.1,424.0 535.7,424.5 536.3,425.0 536.9,425.6 537.6,426.1 538.2,426.7 538.8,427.2 539.4,427.8 540.0,428.3 540.6,428.9 541.3,429.5 541.9,430.1 542.5,430.7 543.1,431.3 543.7,431.9 544.4,432.5 545.0,433.2 545.6,433.8 546.2,434.5 546.8,435.1 547.4,435.8 548.1,436.5 548.7,437.1 549.3,437.8 549.9,438.5 550.5,439.2 551.2,439.9 551.8,440.6 552.4,441.4 553.0,442.1 553.6,442.8 554.2,443.6 554.9,444.4 555.5,445.1 556.1,445.9 556.7,446.7 557.3,447.5 558.0,448.3 558.6,449.1 559.2,449.9 559.8,450.7 560.4,451.6 561.0,452.4 561.7,453.2 562.3,454.1 562.9,455.0 563.5,455.9 564.1,456.7 564.8,457.6 565.4,458.5 566.0,459.4 566.6,460.4 567.2,461.3 567.8,462.2 568.5,463.2 569.1,464.1 569.7,465.1 570.3,466.1 570.9,467.1 571.5,468.1 572.2,469.1 572.8,470.1 573.4,471.1 574.0,472.1 574.6,473.2 575.3,474.2 575.9,475.3 576.5,476.3 577.1,477.4 577.7,478.5 578.3,479.6 579.0,480.7 579.6,481.8 580.2,483.0 580.8,484.1 581.4,485.3 582.1,486.4 582.7,487.6 583.3,488.8 583.9,489.9" fill="none" stroke="#0b7a0b" stroke-width="2.1" stroke-linejoin="round" stroke-linecap="round" />
<polyline points="472.7,489.5 473.3,488.9 473.9,488.3 474.5,487.7 475.1,487.2 475.8,486.7 476.4,486.2 477.0,485.8 477.6,485.3 478.2,484.9 478.8,484.6 479.5,484.2 480.1,483.9 480.7,483.6 481.3,483.3 481.9,483.1 482.6,482.9 483.2,482.7 483.8,482.5 484.4,482.3 485.0,482.2 485.6,482.1 486.3,482.1 486.9,482.0 487.5,482.0 488.1,482.0 488.7,482.1 489.4,482.1 490.0,482.2 490.6,482.3 491.2,482.5 491.8,482.7 492.4,482.9 493.1,483.1 493.7,483.3 494.3,483.6 494.9,483.9 495.5,484.2 496.2,484.6 496.8,484.9 497.4,485.3 498.0,485.8 498.6,486.2 499.2,486.7 499.9,487.2 500.5,487.7 501.1,488.3 501.7,488.9 502.3,489.5" fill="none" stroke="#0a0ee6" stroke-width="1.6" stroke-linejoin="round" stroke-linecap="round" />
</g>
<line x1="487.30" y1="403.00" x2="487.30" y2="352.00" stroke="#0b7a0b" stroke-width="1.8" stroke-dasharray="5 3"/>
<path d="M482,357.5 L487.3,350.5 L492.6,357.5" fill="none" stroke="#0b7a0b" stroke-width="1.8"/>
<text x="500" y="357.5" font-family='"Liberation Serif", serif' font-size="13.5" font-weight="bold" fill="#0b7a0b"><tspan font-style="italic">J</tspan><tspan font-size="8.5" dy="-5">c</tspan><tspan dy="5"> = 1</tspan></text>
<text x="496.5" y="400.5" font-family='"Liberation Serif", serif' font-size="13.5" font-weight="bold" fill="#0b7a0b"><tspan font-style="italic">J</tspan><tspan font-size="8.5" dy="-5">v</tspan><tspan dy="5"> = -1</tspan></text>
<g clip-path="url(#cq)">
<polyline points="615.1,275.4 615.3,275.7 615.5,276.0 615.7,276.4 615.9,276.7 616.1,277.1 616.4,277.4 616.6,277.8 616.9,278.1 617.2,278.5 617.5,278.8 617.8,279.2 618.1,279.5 618.5,279.8 618.9,280.2 619.3,280.5 619.7,280.9 620.2,281.2 620.7,281.6 621.2,281.9 621.8,282.3 622.5,282.6 623.2,283.0 624.0,283.3 625.0,283.7 626.0,284.0 627.2,284.3 628.4,284.7 629.3,285.0 629.3,285.4 627.8,285.7 625.2,286.1 622.8,286.4 621.2,286.8 620.3,287.1 619.8,287.5 619.7,287.8 619.7,288.1 620.0,288.5 620.3,288.8 620.8,289.2 621.4,289.5 622.1,289.9 622.9,290.2 623.9,290.6 625.0,290.9 626.3,291.3 627.8,291.6 629.5,292.0 631.6,292.3 633.8,292.6 636.0,293.0 637.5,293.3 636.6,293.7 631.6,294.0 624.1,294.4 617.2,294.7 612.2,295.1 608.9,295.4 606.7,295.8 605.2,296.1 604.0,296.4 603.2,296.8 602.6,297.1 602.1,297.5 601.7,297.8 601.3,298.2 601.1,298.5 600.8,298.9 600.6,299.2 600.5,299.6 600.3,299.9 600.2,300.2 600.1,300.6 600.0,300.9 599.9,301.3 599.9,301.6 599.8,302.0 599.7,302.3 599.7,302.7 599.6,303.0 599.6,303.4 599.5,303.7 599.5,304.1 599.5,304.4 599.4,304.7 599.4,305.1 599.4,305.4 599.3,305.8 599.3,306.1 599.3,306.5 599.3,306.8 599.3,307.2 599.2,307.5 599.2,307.9 599.2,308.2 599.2,308.6 599.2,308.9 599.2,309.2 599.1,309.6 599.1,309.9 599.1,310.3 599.1,310.6 599.1,311.0 599.1,311.3 599.1,311.7 599.1,312.0 599.1,312.4 599.1,312.7 599.0,313.0 599.0,313.4 599.0,313.7 599.0,314.1 599.0,314.4 599.0,314.8 599.0,315.1 599.0,315.5 599.0,315.8 599.0,316.2 599.0,316.5 599.0,316.9 599.0,317.2 599.0,317.5 599.0,317.9 599.0,318.2 598.9,318.6 598.9,318.9 598.9,319.3 598.9,319.6 598.9,320.0 598.9,320.3 598.9,320.7 598.9,321.0 598.9,321.3 598.9,321.7 598.9,322.0 598.9,322.4 598.9,322.7 598.9,323.1 598.9,323.4 598.9,323.8 598.9,324.1 598.9,324.5 598.9,324.8 598.9,325.2 598.9,325.5 598.9,325.8 598.9,326.2 598.9,326.5 598.9,326.9 598.9,327.2 598.9,327.6 598.9,327.9 598.9,328.3 598.9,328.6 598.9,329.0 598.9,329.3 598.9,329.6 598.9,330.0 598.9,330.3 598.9,330.7 598.9,331.0 598.9,331.4 598.9,331.7 598.8,332.1 598.8,332.4 598.8,332.8 598.8,333.1 598.8,333.5 598.8,333.8 598.8,334.1 598.8,334.5 598.8,334.8 598.8,335.2 598.8,335.5 598.8,335.9 598.8,336.2 598.8,336.6 598.8,336.9 598.8,337.3 598.8,337.6 598.8,337.9 598.8,338.3 598.8,338.6 598.8,339.0 598.8,339.3 598.8,339.7 598.8,340.0 598.8,340.4 598.8,340.7 598.8,341.1 598.8,341.4 598.8,341.8 598.8,342.1 598.8,342.4 598.8,342.8 598.8,343.1 598.8,343.5 598.8,343.8 598.8,344.2 598.8,344.5 598.8,344.9 598.8,345.2 598.8,345.6 598.8,345.9 598.8,346.2 598.8,346.6 598.8,346.9 598.8,347.3 598.8,347.6 598.8,348.0 598.8,348.3 598.8,348.7 598.8,349.0 598.8,349.4 598.8,349.7 598.8,350.1 598.8,350.4 598.8,350.7 598.8,351.1 598.8,351.4 598.8,351.8 598.8,352.1 598.8,352.5 598.8,352.8 598.8,353.2 598.8,353.5 598.8,353.9 598.8,354.2 598.8,354.5 598.8,354.9 598.8,355.2 598.8,355.6 598.8,355.9 598.8,356.3 598.8,356.6 598.8,357.0 598.8,357.3 598.8,357.7 598.8,358.0 598.8,358.4 598.8,358.7 598.8,359.0 598.8,359.4 598.8,359.7 598.8,360.1 598.8,360.4 598.8,360.8 598.8,361.1 598.8,361.5 598.8,361.8 598.8,362.2 598.8,362.5 598.8,362.8 598.8,363.2 598.8,363.5 598.8,363.9 598.8,364.2 598.8,364.6 598.8,364.9 598.8,365.3 598.8,365.6 598.8,366.0 598.8,366.3 598.8,366.7 598.8,367.0 598.8,367.3 598.8,367.7 598.8,368.0 598.8,368.4 598.8,368.7 598.8,369.1 598.8,369.4 598.8,369.8 598.8,370.1 598.8,370.5 598.8,370.8 598.8,371.1 598.8,371.5 598.8,371.8 598.8,372.2 598.8,372.5 598.8,372.9 598.8,373.2 598.8,373.6 598.8,373.9 598.8,374.3 598.8,374.6 598.8,375.0 598.8,375.3 598.8,375.6 598.8,376.0 598.8,376.3 598.8,376.7 598.8,377.0 598.8,377.4 598.8,377.7 598.8,378.1 598.8,378.4 598.8,378.8 598.8,379.1 598.8,379.4 598.8,379.8 598.8,380.1 598.8,380.5 598.8,380.8 598.8,381.2 598.8,381.5 598.8,381.9 598.8,382.2 598.8,382.6 598.8,382.9 598.8,383.2 598.8,383.6 598.8,383.9 598.8,384.3 598.8,384.6 598.8,385.0 598.8,385.3 598.8,385.7 598.8,386.0 598.8,386.4 598.8,386.7 598.8,387.1 598.8,387.4 598.8,387.7 598.8,388.1 598.8,388.4 598.8,388.8 598.8,389.1 598.8,389.5 598.8,389.8 598.8,390.2 598.8,390.5 598.8,390.9 598.8,391.2 598.8,391.6 598.8,391.9 598.8,392.2 598.8,392.6 598.8,392.9 598.8,393.3 598.8,393.6 598.8,394.0 598.8,394.3 598.8,394.7 598.8,395.0 598.8,395.4 598.8,395.7 598.8,396.0 598.8,396.4 598.8,396.7 598.8,397.1 598.8,397.4 598.8,397.8 598.8,398.1 598.8,398.5 598.8,398.8 598.8,399.2 598.8,399.5 598.8,399.9 598.8,400.2 598.8,400.5 598.8,400.9 598.8,401.2 598.8,401.6 598.8,401.9 598.8,402.3 598.8,402.6 598.8,403.0 598.8,403.3 598.8,403.7 598.8,404.0 598.8,404.3 598.8,404.7 598.8,405.0 598.8,405.4 598.8,405.7 598.8,406.1 598.8,406.4 598.8,406.8 598.8,407.1 598.8,407.5 598.8,407.8 598.8,408.2 598.8,408.5 598.8,408.8 598.8,409.2 598.8,409.5 598.8,409.9 598.8,410.2 598.8,410.6 598.8,410.9 598.8,411.3 598.9,411.6 598.9,412.0 598.9,412.3 598.9,412.6 598.9,413.0 598.9,413.3 598.9,413.7 598.9,414.0 598.9,414.4 598.9,414.7 598.9,415.1 598.9,415.4 598.9,415.8 598.9,416.1 598.9,416.5 598.9,416.8 598.9,417.1 598.9,417.5 598.9,417.8 598.9,418.2 598.9,418.5 598.9,418.9 598.9,419.2 598.9,419.6 598.9,419.9 598.9,420.3 598.9,420.6 598.9,420.9 598.9,421.3 598.9,421.6 598.9,422.0 598.9,422.3 598.9,422.7 598.9,423.0 598.9,423.4 598.9,423.7 598.9,424.1 598.9,424.4 598.9,424.8 598.9,425.1 598.9,425.4 598.9,425.8 599.0,426.1 599.0,426.5 599.0,426.8 599.0,427.2 599.0,427.5 599.0,427.9 599.0,428.2 599.0,428.6 599.0,428.9 599.0,429.2 599.0,429.6 599.0,429.9 599.0,430.3 599.0,430.6 599.0,431.0 599.0,431.3 599.0,431.7 599.0,432.0 599.1,432.4 599.1,432.7 599.1,433.1 599.1,433.4 599.1,433.7 599.1,434.1 599.1,434.4 599.1,434.8 599.1,435.1 599.1,435.5 599.2,435.8 599.2,436.2 599.2,436.5 599.2,436.9 599.2,437.2 599.2,437.5 599.3,437.9 599.3,438.2 599.3,438.6 599.3,438.9 599.3,439.3 599.4,439.6 599.4,440.0 599.4,440.3 599.5,440.7 599.5,441.0 599.5,441.4 599.6,441.7 599.6,442.0 599.7,442.4 599.7,442.7 599.8,443.1 599.9,443.4 600.0,443.8 600.1,444.1 600.2,444.5 600.3,444.8 600.4,445.2 600.6,445.5 600.8,445.8 601.1,446.2 601.3,446.5 601.7,446.9 602.1,447.2 602.7,447.6 603.4,447.9 604.4,448.3 605.8,448.6 607.8,449.0 610.7,449.3 615.0,449.7 621.2,450.0 628.3,450.3 633.3,450.7 634.5,451.0 633.2,451.4 631.2,451.7 629.0,452.1 627.1,452.4 625.4,452.8 624.0,453.1 622.7,453.5 621.6,453.8 620.6,454.1 619.7,454.5 619.0,454.8 618.3,455.2 617.6,455.5 617.1,455.9 616.5,456.2 616.1,456.6 615.6,456.9 615.2,457.3 614.8,457.6 614.5,458.0 614.1,458.3 613.8,458.6 613.5,459.0 613.2,459.3 613.0,459.7 612.7,460.0 612.5,460.4 612.3,460.7 612.1,461.1 611.9,461.4 611.7,461.8 611.5,462.1 611.3,462.4 611.2,462.8 611.0,463.1 610.9,463.5 610.7,463.8 610.6,464.2 610.5,464.5 610.3,464.9 610.2,465.2 610.1,465.6 610.0,465.9 609.9,466.2 609.8,466.6 609.7,466.9 609.6,467.3 609.5,467.6 609.4,468.0 609.3,468.3 609.3,468.7 609.2,469.0 609.1,469.4 609.1,469.7 609.0,470.1 609.0,470.4 608.9,470.7 608.9,471.1 608.8,471.4 608.8,471.8 608.8,472.1 608.7,472.5 608.7,472.8 608.7,473.2 608.7,473.5 608.7,473.9 608.7,474.2 608.8,474.6 608.8,474.9 608.8,475.2 608.9,475.6 609.0,475.9 609.1,476.3 609.2,476.6 609.4,477.0 609.6,477.3 609.9,477.7 610.2,478.0 610.6,478.4 611.1,478.7 611.7,479.0 612.6,479.4 613.7,479.7 615.1,480.1 617.0,480.4 619.6,480.8 622.8,481.1 626.5,481.5 630.1,481.8 632.7,482.2 633.8,482.5 633.6,482.9" fill="none" stroke="#0a0ee6" stroke-width="2.0" stroke-linejoin="round" stroke-linecap="round" />
<polyline points="652.5,275.4 651.4,275.7 649.2,276.0 645.9,276.4 641.8,276.7 637.4,277.1 633.1,277.4 629.3,277.8 626.1,278.1 623.4,278.5 621.2,278.8 619.3,279.2 617.8,279.5 616.5,279.8 615.5,280.2 614.6,280.5 613.9,280.9 613.2,281.2 612.7,281.6 612.2,281.9 611.8,282.3 611.5,282.6 611.2,283.0 610.9,283.3 610.7,283.7 610.5,284.0 610.3,284.3 610.1,284.7 610.0,285.0 609.9,285.4 609.7,285.7 609.6,286.1 609.6,286.4 609.5,286.8 609.4,287.1 609.4,287.5 609.3,287.8 609.3,288.1 609.2,288.5 609.2,288.8 609.2,289.2 609.2,289.5 609.2,289.9 609.1,290.2 609.1,290.6 609.1,290.9 609.1,291.3 609.1,291.6 609.2,292.0 609.2,292.3 609.2,292.6 609.2,293.0 609.2,293.3 609.3,293.7 609.3,294.0 609.3,294.4 609.3,294.7 609.4,295.1 609.4,295.4 609.5,295.8 609.5,296.1 609.5,296.4 609.6,296.8 609.6,297.1 609.7,297.5 609.8,297.8 609.8,298.2 609.9,298.5 609.9,298.9 610.0,299.2 610.1,299.6 610.1,299.9 610.2,300.2 610.3,300.6 610.4,300.9 610.5,301.3 610.5,301.6 610.6,302.0 610.7,302.3 610.8,302.7 610.9,303.0 611.0,303.4 611.2,303.7 611.3,304.1 611.4,304.4 611.5,304.7 611.6,305.1 611.8,305.4 611.9,305.8 612.1,306.1 612.2,306.5 612.4,306.8 612.6,307.2 612.8,307.5 613.0,307.9 613.2,308.2 613.4,308.6 613.6,308.9 613.9,309.2 614.1,309.6 614.4,309.9 614.7,310.3 615.0,310.6 615.4,311.0 615.7,311.3 616.1,311.7 616.6,312.0 617.1,312.4 617.6,312.7 618.2,313.0 618.8,313.4 619.6,313.7 620.3,314.1 621.1,314.4 621.9,314.8 622.4,315.1 622.6,315.5 621.9,315.8 620.3,316.2 618.0,316.5 615.7,316.9 613.7,317.2 612.2,317.5 611.1,317.9 610.3,318.2 609.7,318.6 609.3,318.9 609.0,319.3 608.8,319.6 608.6,320.0 608.5,320.3 608.4,320.7 608.4,321.0 608.4,321.3 608.4,321.7 608.4,322.0 608.5,322.4 608.6,322.7 608.6,323.1 608.7,323.4 608.9,323.8 609.0,324.1 609.2,324.5 609.3,324.8 609.5,325.2 609.7,325.5 610.0,325.8 610.2,326.2 610.5,326.5 610.8,326.9 611.1,327.2 611.5,327.6 611.9,327.9 612.4,328.3 612.9,328.6 613.5,329.0 614.2,329.3 615.0,329.6 615.9,330.0 616.9,330.3 618.1,330.7 619.4,331.0 620.7,331.4 621.6,331.7 621.1,332.1 618.3,332.4 613.8,332.8 609.8,333.1 606.9,333.5 605.0,333.8 603.7,334.1 602.8,334.5 602.1,334.8 601.6,335.2 601.2,335.5 600.9,335.9 600.7,336.2 600.5,336.6 600.4,336.9 600.2,337.3 600.1,337.6 600.0,337.9 599.9,338.3 599.9,338.6 599.8,339.0 599.7,339.3 599.7,339.7 599.6,340.0 599.6,340.4 599.6,340.7 599.5,341.1 599.5,341.4 599.5,341.8 599.4,342.1 599.4,342.4 599.4,342.8 599.4,343.1 599.4,343.5 599.3,343.8 599.3,344.2 599.3,344.5 599.3,344.9 599.3,345.2 599.3,345.6 599.3,345.9 599.2,346.2 599.2,346.6 599.2,346.9 599.2,347.3 599.2,347.6 599.2,348.0 599.2,348.3 599.2,348.7 599.2,349.0 599.2,349.4 599.2,349.7 599.1,350.1 599.1,350.4 599.1,350.7 599.1,351.1 599.1,351.4 599.1,351.8 599.1,352.1 599.1,352.5 599.1,352.8 599.1,353.2 599.1,353.5 599.1,353.9 599.1,354.2 599.1,354.5 599.1,354.9 599.1,355.2 599.1,355.6 599.1,355.9 599.1,356.3 599.1,356.6 599.1,357.0 599.1,357.3 599.0,357.7 599.0,358.0 599.0,358.4 599.0,358.7 599.0,359.0 599.0,359.4 599.0,359.7 599.0,360.1 599.0,360.4 599.0,360.8 599.0,361.1 599.0,361.5 599.0,361.8 599.0,362.2 599.0,362.5 599.0,362.8 599.0,363.2 599.0,363.5 599.0,363.9 599.0,364.2 599.0,364.6 599.0,364.9 599.0,365.3 599.0,365.6 599.0,366.0 599.0,366.3 599.0,366.7 599.0,367.0 599.0,367.3 599.0,367.7 599.0,368.0 599.0,368.4 599.0,368.7 599.0,369.1 599.0,369.4 599.0,369.8 599.0,370.1 599.0,370.5 599.0,370.8 599.0,371.1 599.0,371.5 599.0,371.8 599.0,372.2 599.0,372.5 599.0,372.9 599.0,373.2 599.0,373.6 599.0,373.9 599.0,374.3 599.0,374.6 599.0,375.0 599.0,375.3 599.0,375.6 599.0,376.0 599.0,376.3 599.0,376.7 599.0,377.0 599.0,377.4 599.0,377.7 599.0,378.1 599.0,378.4 599.0,378.8 599.0,379.1 599.0,379.4 599.0,379.8 599.0,380.1 599.0,380.5 599.0,380.8 599.0,381.2 599.0,381.5 599.0,381.9 599.0,382.2 599.0,382.6 599.0,382.9 599.0,383.2 599.0,383.6 599.0,383.9 599.0,384.3 599.0,384.6 599.0,385.0 599.0,385.3 599.0,385.7 599.0,386.0 599.0,386.4 599.0,386.7 599.0,387.1 599.0,387.4 599.0,387.7 599.0,388.1 599.0,388.4 599.0,388.8 599.0,389.1 599.0,389.5 599.0,389.8 599.0,390.2 599.0,390.5 599.0,390.9 599.0,391.2 599.0,391.6 599.0,391.9 599.0,392.2 599.0,392.6 599.0,392.9 599.0,393.3 599.0,393.6 599.1,394.0 599.1,394.3 599.1,394.7 599.1,395.0 599.1,395.4 599.1,395.7 599.1,396.0 599.1,396.4 599.1,396.7 599.1,397.1 599.1,397.4 599.1,397.8 599.1,398.1 599.1,398.5 599.1,398.8 599.1,399.2 599.1,399.5 599.1,399.9 599.1,400.2 599.2,400.5 599.2,400.9 599.2,401.2 599.2,401.6 599.2,401.9 599.2,402.3 599.2,402.6 599.2,403.0 599.2,403.3 599.2,403.7 599.3,404.0 599.3,404.3 599.3,404.7 599.3,405.0 599.3,405.4 599.3,405.7 599.4,406.1 599.4,406.4 599.4,406.8 599.4,407.1 599.5,407.5 599.5,407.8 599.5,408.2 599.6,408.5 599.6,408.8 599.7,409.2 599.7,409.5 599.8,409.9 599.8,410.2 599.9,410.6 600.0,410.9 600.1,411.3 600.2,411.6 600.3,412.0 600.4,412.3 600.6,412.6 600.8,413.0 601.0,413.3 601.3,413.7 601.6,414.0 602.1,414.4 602.7,414.7 603.5,415.1 604.5,415.4 606.0,415.8 608.2,416.1 611.6,416.5 616.4,416.8 622.4,417.1 627.4,417.5 629.3,417.8 628.7,418.2 627.0,418.5 625.2,418.9 623.5,419.2 622.0,419.6 620.7,419.9 619.6,420.3 618.6,420.6 617.7,420.9 617.0,421.3 616.3,421.6 615.7,422.0 615.1,422.3 614.6,422.7 614.2,423.0 613.7,423.4 613.4,423.7 613.0,424.1 612.7,424.4 612.4,424.8 612.1,425.1 611.8,425.4 611.5,425.8 611.3,426.1 611.1,426.5 610.9,426.8 610.7,427.2 610.5,427.5 610.3,427.9 610.1,428.2 610.0,428.6 609.8,428.9 609.7,429.2 609.5,429.6 609.4,429.9 609.3,430.3 609.2,430.6 609.0,431.0 608.9,431.3 608.8,431.7 608.7,432.0 608.6,432.4 608.5,432.7 608.5,433.1 608.4,433.4 608.3,433.7 608.2,434.1 608.1,434.4 608.1,434.8 608.0,435.1 608.0,435.5 607.9,435.8 607.9,436.2 607.8,436.5 607.8,436.9 607.7,437.2 607.7,437.5 607.7,437.9 607.7,438.2 607.6,438.6 607.6,438.9 607.6,439.3 607.6,439.6 607.7,440.0 607.7,440.3 607.7,440.7 607.8,441.0 607.9,441.4 608.0,441.7 608.1,442.0 608.3,442.4 608.5,442.7 608.8,443.1 609.2,443.4 609.7,443.8 610.3,444.1 611.1,444.5 612.1,444.8 613.5,445.2 615.2,445.5 617.1,445.8 619.0,446.2 620.2,446.5 620.8,446.9 620.8,447.2 620.4,447.6 619.9,447.9 619.3,448.3 618.7,448.6 618.1,449.0 617.6,449.3 617.1,449.7 616.7,450.0 616.3,450.3 615.9,450.7 615.6,451.0 615.3,451.4 615.0,451.7 614.8,452.1 614.6,452.4 614.4,452.8 614.2,453.1 614.0,453.5 613.9,453.8 613.7,454.1 613.6,454.5 613.5,454.8 613.5,455.2 613.4,455.5 613.4,455.9 613.4,456.2 613.4,456.6 613.4,456.9 613.5,457.3 613.6,457.6 613.8,458.0 614.1,458.3 614.4,458.6 614.8,459.0 615.4,459.3 616.2,459.7 617.2,460.0 618.7,460.4 620.8,460.7 624.0,461.1 628.6,461.4 635.5,461.8 644.5,462.1 652.9,462.4 657.0,462.8 656.7,463.1 654.3,463.5 651.4,463.8 648.6,464.2 646.2,464.5 644.0,464.9 642.1,465.2 640.4,465.6 639.0,465.9 637.7,466.2 636.5,466.6 635.4,466.9 634.5,467.3 633.6,467.6 632.8,468.0 632.0,468.3 631.4,468.7 630.7,469.0 630.1,469.4 629.6,469.7 629.1,470.1 628.6,470.4 628.1,470.7 627.7,471.1 627.2,471.4 626.9,471.8 626.5,472.1 626.1,472.5 625.8,472.8 625.4,473.2 625.1,473.5 624.8,473.9 624.5,474.2 624.3,474.6 624.0,474.9 623.7,475.2 623.5,475.6 623.3,475.9 623.0,476.3 622.8,476.6 622.6,477.0 622.4,477.3 622.2,477.7 622.0,478.0 621.8,478.4 621.6,478.7 621.4,479.0 621.2,479.4 621.1,479.7 620.9,480.1 620.7,480.4 620.6,480.8 620.4,481.1 620.3,481.5 620.1,481.8 620.0,482.2 619.8,482.5 619.7,482.9" fill="none" stroke="#e8141a" stroke-width="2.0" stroke-linejoin="round" stroke-linecap="round" />
<polyline points="635.4,275.4 635.8,275.7 636.3,276.0 636.8,276.4 637.2,276.7 637.8,277.1 638.3,277.4 638.9,277.8 639.5,278.1 640.1,278.5 640.8,278.8 641.5,279.2 642.3,279.5 643.2,279.8 644.0,280.2 645.0,280.5 646.1,280.9 647.2,281.2 648.4,281.6 649.8,281.9 651.3,282.3 652.9,282.6 654.7,283.0 656.7,283.3 658.9,283.7 661.2,284.0 663.6,284.3 665.7,284.7 666.9,285.0 666.2,285.4 662.7,285.7 656.4,286.1 648.9,286.4 642.0,286.8 636.4,287.1 632.2,287.5 629.0,287.8 626.7,288.1 624.9,288.5 623.6,288.8 622.6,289.2 621.7,289.5 621.1,289.9 620.6,290.2 620.2,290.6 619.8,290.9 619.6,291.3 619.4,291.6 619.2,292.0 619.0,292.3 618.9,292.6 618.9,293.0 618.8,293.3 618.8,293.7 618.8,294.0 618.8,294.4 618.8,294.7 618.8,295.1 618.8,295.4 618.9,295.8 619.0,296.1 619.0,296.4 619.1,296.8 619.2,297.1 619.3,297.5 619.4,297.8 619.5,298.2 619.6,298.5 619.7,298.9 619.9,299.2 620.0,299.6 620.1,299.9 620.3,300.2 620.5,300.6 620.6,300.9 620.8,301.3 621.0,301.6 621.2,302.0 621.4,302.3 621.6,302.7 621.8,303.0 622.1,303.4 622.3,303.7 622.6,304.1 622.8,304.4 623.1,304.7 623.4,305.1 623.7,305.4 624.1,305.8 624.4,306.1 624.8,306.5 625.2,306.8 625.6,307.2 626.0,307.5 626.5,307.9 627.0,308.2 627.5,308.6 628.1,308.9 628.7,309.2 629.3,309.6 630.0,309.9 630.8,310.3 631.6,310.6 632.5,311.0 633.5,311.3 634.6,311.7 635.7,312.0 636.9,312.4 638.2,312.7 639.5,313.0 640.7,313.4 641.6,313.7 641.7,314.1 640.7,314.4 638.3,314.8 634.7,315.1 630.7,315.5 627.0,315.8 623.8,316.2 621.3,316.5 619.4,316.9 617.9,317.2 616.8,317.5 616.0,317.9 615.3,318.2 614.8,318.6 614.4,318.9 614.1,319.3 613.8,319.6 613.7,320.0 613.5,320.3 613.5,320.7 613.5,321.0 613.5,321.3 613.5,321.7 613.6,322.0 613.7,322.4 613.8,322.7 614.0,323.1 614.2,323.4 614.4,323.8 614.6,324.1 615.0,324.5 615.3,324.8 615.7,325.2 616.2,325.5 616.7,325.8 617.3,326.2 618.0,326.5 618.9,326.9 619.8,327.2 620.8,327.6 621.5,327.9 621.5,328.3 619.8,328.6 616.8,329.0 613.9,329.3 611.7,329.6 610.3,330.0 609.3,330.3 608.6,330.7 608.2,331.0 607.9,331.4 607.6,331.7 607.5,332.1 607.4,332.4 607.3,332.8 607.2,333.1 607.2,333.5 607.2,333.8 607.2,334.1 607.2,334.5 607.2,334.8 607.3,335.2 607.3,335.5 607.4,335.9 607.5,336.2 607.5,336.6 607.6,336.9 607.7,337.3 607.8,337.6 607.9,337.9 608.0,338.3 608.1,338.6 608.3,339.0 608.4,339.3 608.6,339.7 608.7,340.0 608.9,340.4 609.1,340.7 609.3,341.1 609.5,341.4 609.8,341.8 610.0,342.1 610.3,342.4 610.6,342.8 611.0,343.1 611.3,343.5 611.8,343.8 612.2,344.2 612.7,344.5 613.3,344.9 614.0,345.2 614.7,345.6 615.6,345.9 616.6,346.2 617.8,346.6 619.1,346.9 620.4,347.3 621.4,347.6 621.2,348.0 618.7,348.3 614.4,348.7 610.3,349.0 607.3,349.4 605.3,349.7 603.9,350.1 603.0,350.4 602.3,350.7 601.8,351.1 601.4,351.4 601.1,351.8 600.9,352.1 600.7,352.5 600.5,352.8 600.4,353.2 600.3,353.5 600.2,353.9 600.1,354.2 600.0,354.5 600.0,354.9 599.9,355.2 599.9,355.6 599.8,355.9 599.8,356.3 599.7,356.6 599.7,357.0 599.7,357.3 599.7,357.7 599.6,358.0 599.6,358.4 599.6,358.7 599.6,359.0 599.5,359.4 599.5,359.7 599.5,360.1 599.5,360.4 599.5,360.8 599.5,361.1 599.5,361.5 599.5,361.8 599.4,362.2 599.4,362.5 599.4,362.8 599.4,363.2 599.4,363.5 599.4,363.9 599.4,364.2 599.4,364.6 599.4,364.9 599.4,365.3 599.4,365.6 599.4,366.0 599.4,366.3 599.4,366.7 599.4,367.0 599.4,367.3 599.3,367.7 599.3,368.0 599.3,368.4 599.3,368.7 599.3,369.1 599.3,369.4 599.3,369.8 599.3,370.1 599.3,370.5 599.3,370.8 599.3,371.1 599.3,371.5 599.3,371.8 599.3,372.2 599.3,372.5 599.3,372.9 599.3,373.2 599.3,373.6 599.3,373.9 599.3,374.3 599.3,374.6 599.3,375.0 599.3,375.3 599.3,375.6 599.3,376.0 599.3,376.3 599.3,376.7 599.3,377.0 599.3,377.4 599.3,377.7 599.3,378.1 599.3,378.4 599.3,378.8 599.3,379.1 599.3,379.4 599.3,379.8 599.3,380.1 599.3,380.5 599.3,380.8 599.3,381.2 599.4,381.5 599.4,381.9 599.4,382.2 599.4,382.6 599.4,382.9 599.4,383.2 599.4,383.6 599.4,383.9 599.4,384.3 599.4,384.6 599.4,385.0 599.4,385.3 599.4,385.7 599.4,386.0 599.4,386.4 599.4,386.7 599.4,387.1 599.4,387.4 599.5,387.7 599.5,388.1 599.5,388.4 599.5,388.8 599.5,389.1 599.5,389.5 599.5,389.8 599.5,390.2 599.5,390.5 599.6,390.9 599.6,391.2 599.6,391.6 599.6,391.9 599.6,392.2 599.7,392.6 599.7,392.9 599.7,393.3 599.7,393.6 599.8,394.0 599.8,394.3 599.8,394.7 599.9,395.0 599.9,395.4 600.0,395.7 600.0,396.0 600.1,396.4 600.1,396.7 600.2,397.1 600.3,397.4 600.4,397.8 600.5,398.1 600.7,398.5 600.9,398.8 601.1,399.2 601.3,399.5 601.6,399.9 602.0,400.2 602.5,400.5 603.2,400.9 604.2,401.2 605.5,401.6 607.5,401.9 610.5,402.3 614.7,402.6 619.8,403.0 623.7,403.3 624.9,403.7 624.2,404.0 622.7,404.3 621.2,404.7 619.8,405.0 618.6,405.4 617.5,405.7 616.6,406.1 615.8,406.4 615.1,406.8 614.4,407.1 613.9,407.5 613.4,407.8 612.9,408.2 612.5,408.5 612.1,408.8 611.8,409.2 611.5,409.5 611.2,409.9 610.9,410.2 610.7,410.6 610.4,410.9 610.2,411.3 610.0,411.6 609.8,412.0 609.6,412.3 609.5,412.6 609.3,413.0 609.1,413.3 609.0,413.7 608.9,414.0 608.7,414.4 608.6,414.7 608.5,415.1 608.4,415.4 608.3,415.8 608.2,416.1 608.1,416.5 608.0,416.8 608.0,417.1 607.9,417.5 607.8,417.8 607.8,418.2 607.7,418.5 607.6,418.9 607.6,419.2 607.5,419.6 607.5,419.9 607.5,420.3 607.4,420.6 607.4,420.9 607.4,421.3 607.3,421.6 607.3,422.0 607.3,422.3 607.3,422.7 607.3,423.0 607.3,423.4 607.4,423.7 607.4,424.1 607.4,424.4 607.5,424.8 607.5,425.1 607.6,425.4 607.7,425.8 607.8,426.1 608.0,426.5 608.1,426.8 608.3,427.2 608.5,427.5 608.8,427.9 609.1,428.2 609.5,428.6 610.0,428.9 610.6,429.2 611.3,429.6 612.3,429.9 613.5,430.3 615.0,430.6 617.1,431.0 619.9,431.3 623.5,431.7 628.3,432.0 634.0,432.4 639.9,432.7 644.3,433.1 646.4,433.4 646.5,433.7 645.3,434.1 643.6,434.4 641.8,434.8 640.0,435.1 638.4,435.5 636.9,435.8 635.5,436.2 634.3,436.5 633.2,436.9 632.1,437.2 631.2,437.5 630.4,437.9 629.6,438.2 628.9,438.6 628.2,438.9 627.6,439.3 627.0,439.6 626.5,440.0 626.0,440.3 625.5,440.7 625.0,441.0 624.6,441.4 624.2,441.7 623.8,442.0 623.5,442.4 623.2,442.7 622.8,443.1 622.5,443.4 622.2,443.8 621.9,444.1 621.7,444.5 621.4,444.8 621.2,445.2 620.9,445.5 620.7,445.8 620.5,446.2 620.3,446.5 620.1,446.9 619.9,447.2 619.7,447.6 619.5,447.9 619.4,448.3 619.2,448.6 619.0,449.0 618.9,449.3 618.7,449.7 618.6,450.0 618.4,450.3 618.3,450.7 618.2,451.0 618.0,451.4 617.9,451.7 617.8,452.1 617.7,452.4 617.6,452.8 617.5,453.1 617.4,453.5 617.3,453.8 617.2,454.1 617.1,454.5 617.0,454.8 616.9,455.2 616.8,455.5 616.7,455.9 616.6,456.2 616.6,456.6 616.5,456.9 616.4,457.3 616.4,457.6 616.3,458.0 616.2,458.3 616.2,458.6 616.1,459.0 616.1,459.3 616.0,459.7 616.0,460.0 615.9,460.4 615.9,460.7 615.9,461.1 615.8,461.4 615.8,461.8 615.8,462.1 615.7,462.4 615.7,462.8 615.7,463.1 615.7,463.5 615.7,463.8 615.7,464.2 615.7,464.5 615.7,464.9 615.7,465.2 615.7,465.6 615.7,465.9 615.7,466.2 615.7,466.6 615.7,466.9 615.8,467.3 615.8,467.6 615.9,468.0 615.9,468.3 616.0,468.7 616.0,469.0 616.1,469.4 616.2,469.7 616.3,470.1 616.4,470.4 616.5,470.7 616.6,471.1 616.8,471.4 616.9,471.8 617.1,472.1 617.3,472.5 617.5,472.8 617.7,473.2 617.9,473.5 618.2,473.9 618.5,474.2 618.8,474.6 619.2,474.9 619.6,475.2 620.0,475.6 620.5,475.9 621.0,476.3 621.6,476.6 622.2,477.0 622.9,477.3 623.7,477.7 624.5,478.0 625.5,478.4 626.5,478.7 627.6,479.0 628.9,479.4 630.3,479.7 631.8,480.1 633.4,480.4 635.1,480.8 636.9,481.1 638.7,481.5 640.6,481.8 642.4,482.2 644.1,482.5 645.7,482.9" fill="none" stroke="#0b7a0b" stroke-width="2.0" stroke-linejoin="round" stroke-linecap="round" />
</g>
<rect x="388.50" y="275.30" width="198.00" height="207.50" stroke="#707070" fill="none" stroke-width="1" />
<rect x="598.70" y="275.30" width="85.30" height="207.50" stroke="#707070" fill="none" stroke-width="1" />
<text x="344.5" y="266.5" font-family='"Liberation Serif", serif' font-size="19" font-weight="bold" fill="#b01010" textLength="20" lengthAdjust="spacingAndGlyphs">(c)</text>
<text transform="translate(359.5,389.4) rotate(-90)" font-family='"Liberation Serif", serif' font-size="12.5" font-weight="bold" font-style="italic" fill="#111">E (t<tspan font-size="10" dy="3.5">0</tspan>)</text>
<text x="470" y="508" font-family='"Liberation Serif", serif' font-size="13.5" font-weight="bold" font-style="italic" fill="#111">k<tspan font-size="10" dy="5">x</tspan><tspan dy="-5" dx="1">a</tspan><tspan font-size="10" dy="5">x</tspan><tspan dy="-5" dx="2" font-weight="normal">/π</tspan></text>
<text x="612.5" y="509.5" font-family='"Liberation Serif", serif' font-size="12" font-weight="bold" font-style="italic" fill="#111" textLength="63.5" lengthAdjust="spacingAndGlyphs">DOS (arb.unit)</text>
</svg></body></html>
